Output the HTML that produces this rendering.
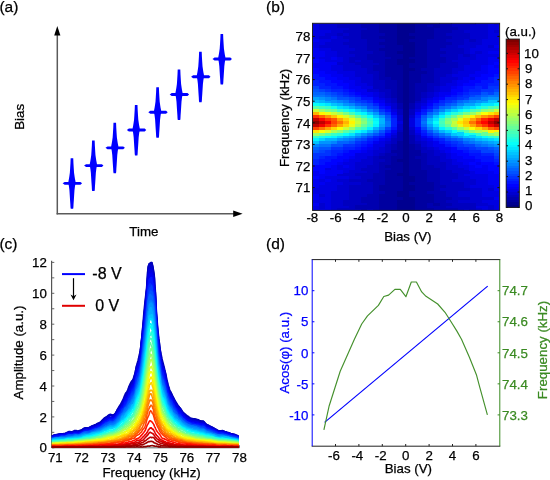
<!DOCTYPE html>
<html><head><meta charset="utf-8"><style>
html,body{margin:0;padding:0;background:#fff;}
svg{display:block;}
#w{width:550px;height:480px;overflow:hidden;will-change:transform;}
text{font-family:"Liberation Sans", sans-serif;}
</style></head><body><div id="w">
<svg width="550" height="480" viewBox="0 0 550 480" font-family='"Liberation Sans", sans-serif'>
<defs><clipPath id="cliph"><rect x="312.5" y="23.3" width="187.1" height="187.1"/></clipPath></defs>
<rect width="550" height="480" fill="#fff"/>
<text x="-0.60" y="11.50" font-size="15.5" text-anchor="start" fill="#000" stroke="#000" stroke-width="0.25" >(a)</text>
<text x="266.00" y="11.60" font-size="15.5" text-anchor="start" fill="#000" stroke="#000" stroke-width="0.25" >(b)</text>
<text x="-0.60" y="249.30" font-size="15.5" text-anchor="start" fill="#000" stroke="#000" stroke-width="0.25" >(c)</text>
<text x="266.00" y="249.40" font-size="15.5" text-anchor="start" fill="#000" stroke="#000" stroke-width="0.25" >(d)</text>
<line x1="57.3" y1="34" x2="57.3" y2="214.4" stroke="#5a5a5a" stroke-width="1.5"/>
<line x1="56.6" y1="213.7" x2="234" y2="213.7" stroke="#5a5a5a" stroke-width="1.5"/>
<path d="M57.3,26 L60.4,35.5 L54.2,35.5 Z" fill="#000"/>
<path d="M242.6,213.7 L233.2,210.5 L233.2,216.9 Z" fill="#000"/>
<path d="M70.65,158.30 L70.45,163.30 L70.15,168.30 L69.85,172.80 L69.35,176.30 L68.95,178.70 L68.45,181.30 L68.25,183.30 L68.75,185.30 L69.05,187.30 L69.45,190.60 L69.75,195.30 L70.05,200.10 L70.35,204.30 L70.50,207.30 L70.75,208.70 L73.15,208.70 L73.40,207.30 L73.55,204.30 L73.85,200.10 L74.15,195.30 L74.45,190.60 L74.85,187.30 L75.15,185.30 L75.65,183.30 L75.45,181.30 L74.95,178.70 L74.55,176.30 L74.05,172.80 L73.75,168.30 L73.45,163.30 L73.25,158.30 Z" fill="#0000ff"/><path d="M62.65,183.30 L64.65,181.90 L80.45,181.90 L82.05,183.30 L80.45,184.70 L64.65,184.70 Z" fill="#0000ff"/>
<path d="M92.06,140.54 L91.86,145.54 L91.56,150.54 L91.26,155.04 L90.76,158.54 L90.36,160.94 L89.86,163.54 L89.66,165.54 L90.16,167.54 L90.46,169.54 L90.86,172.84 L91.16,177.54 L91.46,182.34 L91.76,186.54 L91.91,189.54 L92.16,190.94 L94.56,190.94 L94.81,189.54 L94.96,186.54 L95.26,182.34 L95.56,177.54 L95.86,172.84 L96.26,169.54 L96.56,167.54 L97.06,165.54 L96.86,163.54 L96.36,160.94 L95.96,158.54 L95.46,155.04 L95.16,150.54 L94.86,145.54 L94.66,140.54 Z" fill="#0000ff"/><path d="M84.06,165.54 L86.06,164.14 L101.86,164.14 L103.46,165.54 L101.86,166.94 L86.06,166.94 Z" fill="#0000ff"/>
<path d="M113.47,122.78 L113.27,127.78 L112.97,132.78 L112.67,137.28 L112.17,140.78 L111.77,143.18 L111.27,145.78 L111.07,147.78 L111.57,149.78 L111.87,151.78 L112.27,155.08 L112.57,159.78 L112.87,164.58 L113.17,168.78 L113.32,171.78 L113.57,173.18 L115.97,173.18 L116.22,171.78 L116.37,168.78 L116.67,164.58 L116.97,159.78 L117.27,155.08 L117.67,151.78 L117.97,149.78 L118.47,147.78 L118.27,145.78 L117.77,143.18 L117.37,140.78 L116.87,137.28 L116.57,132.78 L116.27,127.78 L116.07,122.78 Z" fill="#0000ff"/><path d="M105.47,147.78 L107.47,146.38 L123.27,146.38 L124.87,147.78 L123.27,149.18 L107.47,149.18 Z" fill="#0000ff"/>
<path d="M134.88,105.02 L134.68,110.02 L134.38,115.02 L134.08,119.52 L133.58,123.02 L133.18,125.42 L132.68,128.02 L132.48,130.02 L132.98,132.02 L133.28,134.02 L133.68,137.32 L133.98,142.02 L134.28,146.82 L134.58,151.02 L134.73,154.02 L134.98,155.42 L137.38,155.42 L137.63,154.02 L137.78,151.02 L138.08,146.82 L138.38,142.02 L138.68,137.32 L139.08,134.02 L139.38,132.02 L139.88,130.02 L139.68,128.02 L139.18,125.42 L138.78,123.02 L138.28,119.52 L137.98,115.02 L137.68,110.02 L137.48,105.02 Z" fill="#0000ff"/><path d="M126.88,130.02 L128.88,128.62 L144.68,128.62 L146.28,130.02 L144.68,131.42 L128.88,131.42 Z" fill="#0000ff"/>
<path d="M156.29,87.26 L156.09,92.26 L155.79,97.26 L155.49,101.76 L154.99,105.26 L154.59,107.66 L154.09,110.26 L153.89,112.26 L154.39,114.26 L154.69,116.26 L155.09,119.56 L155.39,124.26 L155.69,129.06 L155.99,133.26 L156.14,136.26 L156.39,137.66 L158.79,137.66 L159.04,136.26 L159.19,133.26 L159.49,129.06 L159.79,124.26 L160.09,119.56 L160.49,116.26 L160.79,114.26 L161.29,112.26 L161.09,110.26 L160.59,107.66 L160.19,105.26 L159.69,101.76 L159.39,97.26 L159.09,92.26 L158.89,87.26 Z" fill="#0000ff"/><path d="M148.29,112.26 L150.29,110.86 L166.09,110.86 L167.69,112.26 L166.09,113.66 L150.29,113.66 Z" fill="#0000ff"/>
<path d="M177.70,69.50 L177.50,74.50 L177.20,79.50 L176.90,84.00 L176.40,87.50 L176.00,89.90 L175.50,92.50 L175.30,94.50 L175.80,96.50 L176.10,98.50 L176.50,101.80 L176.80,106.50 L177.10,111.30 L177.40,115.50 L177.55,118.50 L177.80,119.90 L180.20,119.90 L180.45,118.50 L180.60,115.50 L180.90,111.30 L181.20,106.50 L181.50,101.80 L181.90,98.50 L182.20,96.50 L182.70,94.50 L182.50,92.50 L182.00,89.90 L181.60,87.50 L181.10,84.00 L180.80,79.50 L180.50,74.50 L180.30,69.50 Z" fill="#0000ff"/><path d="M169.70,94.50 L171.70,93.10 L187.50,93.10 L189.10,94.50 L187.50,95.90 L171.70,95.90 Z" fill="#0000ff"/>
<path d="M199.11,51.74 L198.91,56.74 L198.61,61.74 L198.31,66.24 L197.81,69.74 L197.41,72.14 L196.91,74.74 L196.71,76.74 L197.21,78.74 L197.51,80.74 L197.91,84.04 L198.21,88.74 L198.51,93.54 L198.81,97.74 L198.96,100.74 L199.21,102.14 L201.61,102.14 L201.86,100.74 L202.01,97.74 L202.31,93.54 L202.61,88.74 L202.91,84.04 L203.31,80.74 L203.61,78.74 L204.11,76.74 L203.91,74.74 L203.41,72.14 L203.01,69.74 L202.51,66.24 L202.21,61.74 L201.91,56.74 L201.71,51.74 Z" fill="#0000ff"/><path d="M191.11,76.74 L193.11,75.34 L208.91,75.34 L210.51,76.74 L208.91,78.14 L193.11,78.14 Z" fill="#0000ff"/>
<path d="M220.52,33.98 L220.32,38.98 L220.02,43.98 L219.72,48.48 L219.22,51.98 L218.82,54.38 L218.32,56.98 L218.12,58.98 L218.62,60.98 L218.92,62.98 L219.32,66.28 L219.62,70.98 L219.92,75.78 L220.22,79.98 L220.37,82.98 L220.62,84.38 L223.02,84.38 L223.27,82.98 L223.42,79.98 L223.72,75.78 L224.02,70.98 L224.32,66.28 L224.72,62.98 L225.02,60.98 L225.52,58.98 L225.32,56.98 L224.82,54.38 L224.42,51.98 L223.92,48.48 L223.62,43.98 L223.32,38.98 L223.12,33.98 Z" fill="#0000ff"/><path d="M212.52,58.98 L214.52,57.58 L230.32,57.58 L231.92,58.98 L230.32,60.38 L214.52,60.38 Z" fill="#0000ff"/>
<text transform="translate(23.70,116.90) rotate(-90)" font-size="13.3" text-anchor="middle" fill="#000" stroke="#000" stroke-width="0.25">Bias</text>
<text x="143.90" y="236.00" font-size="13.3" text-anchor="middle" fill="#000" stroke="#000" stroke-width="0.25" >Time</text>
<g clip-path="url(#cliph)"><g shape-rendering="crispEdges" transform="translate(312.5,21.520) scale(6.0355,2.9200)"><path fill="#0000e1" d="M0 0h1.05v1.05h-1.05zM1 0h1.05v1.05h-1.05zM29 0h1.05v1.05h-1.05zM0 1h1.05v1.05h-1.05zM29 1h1.05v1.05h-1.05zM30 1h1.05v1.05h-1.05zM0 2h1.05v1.05h-1.05zM29 2h1.05v1.05h-1.05zM30 2h1.05v1.05h-1.05zM0 3h1.05v1.05h-1.05zM1 3h1.05v1.05h-1.05zM2 3h1.05v1.05h-1.05zM29 3h1.05v1.05h-1.05zM0 4h1.05v1.05h-1.05zM1 4h1.05v1.05h-1.05zM29 4h1.05v1.05h-1.05zM30 4h1.05v1.05h-1.05zM0 5h1.05v1.05h-1.05zM3 5h1.05v1.05h-1.05zM29 5h1.05v1.05h-1.05zM30 5h1.05v1.05h-1.05zM1 6h1.05v1.05h-1.05zM2 6h1.05v1.05h-1.05zM28 6h1.05v1.05h-1.05zM29 6h1.05v1.05h-1.05zM30 6h1.05v1.05h-1.05zM0 7h1.05v1.05h-1.05zM1 7h1.05v1.05h-1.05zM28 7h1.05v1.05h-1.05zM29 7h1.05v1.05h-1.05zM30 7h1.05v1.05h-1.05zM0 8h1.05v1.05h-1.05zM27 8h1.05v1.05h-1.05zM28 8h1.05v1.05h-1.05zM1 9h1.05v1.05h-1.05zM2 9h1.05v1.05h-1.05zM26 9h1.05v1.05h-1.05zM27 9h1.05v1.05h-1.05zM28 9h1.05v1.05h-1.05zM29 9h1.05v1.05h-1.05zM30 9h1.05v1.05h-1.05zM2 10h1.05v1.05h-1.05zM3 10h1.05v1.05h-1.05zM26 10h1.05v1.05h-1.05zM28 10h1.05v1.05h-1.05zM2 11h1.05v1.05h-1.05zM3 11h1.05v1.05h-1.05zM27 11h1.05v1.05h-1.05zM28 11h1.05v1.05h-1.05zM29 11h1.05v1.05h-1.05zM30 11h1.05v1.05h-1.05zM1 12h1.05v1.05h-1.05zM2 12h1.05v1.05h-1.05zM4 12h1.05v1.05h-1.05zM27 12h1.05v1.05h-1.05zM28 12h1.05v1.05h-1.05zM2 13h1.05v1.05h-1.05zM3 13h1.05v1.05h-1.05zM4 13h1.05v1.05h-1.05zM26 13h1.05v1.05h-1.05zM27 13h1.05v1.05h-1.05zM28 13h1.05v1.05h-1.05zM26 14h1.05v1.05h-1.05zM27 14h1.05v1.05h-1.05zM28 14h1.05v1.05h-1.05zM3 15h1.05v1.05h-1.05zM4 15h1.05v1.05h-1.05zM25 15h1.05v1.05h-1.05zM26 15h1.05v1.05h-1.05zM27 15h1.05v1.05h-1.05zM3 16h1.05v1.05h-1.05zM4 16h1.05v1.05h-1.05zM25 16h1.05v1.05h-1.05zM26 16h1.05v1.05h-1.05zM27 16h1.05v1.05h-1.05zM4 17h1.05v1.05h-1.05zM5 17h1.05v1.05h-1.05zM6 17h1.05v1.05h-1.05zM24 17h1.05v1.05h-1.05zM25 17h1.05v1.05h-1.05zM26 17h1.05v1.05h-1.05zM5 18h1.05v1.05h-1.05zM6 18h1.05v1.05h-1.05zM23 18h1.05v1.05h-1.05zM24 18h1.05v1.05h-1.05zM25 18h1.05v1.05h-1.05zM6 19h1.05v1.05h-1.05zM7 19h1.05v1.05h-1.05zM24 19h1.05v1.05h-1.05zM26 19h1.05v1.05h-1.05zM7 20h1.05v1.05h-1.05zM23 20h1.05v1.05h-1.05zM7 21h1.05v1.05h-1.05zM8 21h1.05v1.05h-1.05zM22 21h1.05v1.05h-1.05zM23 21h1.05v1.05h-1.05zM8 22h1.05v1.05h-1.05zM9 22h1.05v1.05h-1.05zM21 22h1.05v1.05h-1.05zM22 22h1.05v1.05h-1.05zM21 23h1.05v1.05h-1.05zM22 23h1.05v1.05h-1.05zM10 24h1.05v1.05h-1.05zM20 24h1.05v1.05h-1.05zM10 25h1.05v1.05h-1.05zM20 25h1.05v1.05h-1.05zM11 26h1.05v1.05h-1.05zM19 26h1.05v1.05h-1.05zM12 28h1.05v1.05h-1.05zM18 28h1.05v1.05h-1.05zM13 30h1.05v1.05h-1.05zM17 30h1.05v1.05h-1.05zM16 33h1.05v1.05h-1.05zM14 34h1.05v1.05h-1.05zM16 34h1.05v1.05h-1.05zM16 35h1.05v1.05h-1.05zM13 38h1.05v1.05h-1.05zM17 38h1.05v1.05h-1.05zM12 40h1.05v1.05h-1.05zM18 40h1.05v1.05h-1.05zM11 41h1.05v1.05h-1.05zM19 41h1.05v1.05h-1.05zM10 42h1.05v1.05h-1.05zM11 42h1.05v1.05h-1.05zM19 42h1.05v1.05h-1.05zM10 43h1.05v1.05h-1.05zM20 43h1.05v1.05h-1.05zM9 44h1.05v1.05h-1.05zM21 44h1.05v1.05h-1.05zM7 45h1.05v1.05h-1.05zM8 45h1.05v1.05h-1.05zM9 45h1.05v1.05h-1.05zM22 45h1.05v1.05h-1.05zM7 46h1.05v1.05h-1.05zM8 46h1.05v1.05h-1.05zM22 46h1.05v1.05h-1.05zM6 47h1.05v1.05h-1.05zM7 47h1.05v1.05h-1.05zM23 47h1.05v1.05h-1.05zM5 48h1.05v1.05h-1.05zM6 48h1.05v1.05h-1.05zM23 48h1.05v1.05h-1.05zM24 48h1.05v1.05h-1.05zM4 49h1.05v1.05h-1.05zM6 49h1.05v1.05h-1.05zM24 49h1.05v1.05h-1.05zM25 49h1.05v1.05h-1.05zM2 50h1.05v1.05h-1.05zM4 50h1.05v1.05h-1.05zM5 50h1.05v1.05h-1.05zM6 50h1.05v1.05h-1.05zM25 50h1.05v1.05h-1.05zM5 51h1.05v1.05h-1.05zM26 51h1.05v1.05h-1.05zM25 52h1.05v1.05h-1.05zM26 52h1.05v1.05h-1.05zM27 52h1.05v1.05h-1.05zM28 52h1.05v1.05h-1.05zM2 53h1.05v1.05h-1.05zM3 53h1.05v1.05h-1.05zM4 53h1.05v1.05h-1.05zM5 53h1.05v1.05h-1.05zM26 53h1.05v1.05h-1.05zM27 53h1.05v1.05h-1.05zM28 53h1.05v1.05h-1.05zM1 54h1.05v1.05h-1.05zM3 54h1.05v1.05h-1.05zM27 54h1.05v1.05h-1.05zM28 54h1.05v1.05h-1.05zM2 55h1.05v1.05h-1.05zM3 55h1.05v1.05h-1.05zM4 55h1.05v1.05h-1.05zM27 55h1.05v1.05h-1.05zM28 55h1.05v1.05h-1.05zM1 56h1.05v1.05h-1.05zM2 56h1.05v1.05h-1.05zM3 56h1.05v1.05h-1.05zM26 56h1.05v1.05h-1.05zM27 56h1.05v1.05h-1.05zM28 56h1.05v1.05h-1.05zM29 56h1.05v1.05h-1.05zM0 57h1.05v1.05h-1.05zM1 57h1.05v1.05h-1.05zM2 57h1.05v1.05h-1.05zM3 57h1.05v1.05h-1.05zM28 57h1.05v1.05h-1.05zM0 58h1.05v1.05h-1.05zM1 58h1.05v1.05h-1.05zM2 58h1.05v1.05h-1.05zM28 58h1.05v1.05h-1.05zM29 58h1.05v1.05h-1.05zM30 58h1.05v1.05h-1.05zM2 59h1.05v1.05h-1.05zM28 59h1.05v1.05h-1.05zM29 59h1.05v1.05h-1.05zM30 59h1.05v1.05h-1.05zM1 60h1.05v1.05h-1.05zM2 60h1.05v1.05h-1.05zM0 61h1.05v1.05h-1.05zM1 61h1.05v1.05h-1.05zM2 61h1.05v1.05h-1.05zM28 61h1.05v1.05h-1.05zM29 61h1.05v1.05h-1.05zM30 61h1.05v1.05h-1.05zM2 62h1.05v1.05h-1.05zM29 62h1.05v1.05h-1.05zM30 62h1.05v1.05h-1.05zM0 63h1.05v1.05h-1.05zM2 63h1.05v1.05h-1.05zM27 63h1.05v1.05h-1.05zM28 63h1.05v1.05h-1.05zM30 63h1.05v1.05h-1.05zM0 64h1.05v1.05h-1.05zM1 64h1.05v1.05h-1.05zM2 64h1.05v1.05h-1.05zM28 64h1.05v1.05h-1.05zM30 64h1.05v1.05h-1.05z"/><path fill="#0000d0" d="M2 0h1.05v1.05h-1.05zM3 0h1.05v1.05h-1.05zM27 0h1.05v1.05h-1.05zM28 0h1.05v1.05h-1.05zM30 0h1.05v1.05h-1.05zM1 1h1.05v1.05h-1.05zM2 1h1.05v1.05h-1.05zM3 1h1.05v1.05h-1.05zM26 1h1.05v1.05h-1.05zM27 1h1.05v1.05h-1.05zM28 1h1.05v1.05h-1.05zM1 2h1.05v1.05h-1.05zM2 2h1.05v1.05h-1.05zM3 2h1.05v1.05h-1.05zM4 2h1.05v1.05h-1.05zM5 2h1.05v1.05h-1.05zM26 2h1.05v1.05h-1.05zM27 2h1.05v1.05h-1.05zM28 2h1.05v1.05h-1.05zM3 3h1.05v1.05h-1.05zM4 3h1.05v1.05h-1.05zM25 3h1.05v1.05h-1.05zM26 3h1.05v1.05h-1.05zM27 3h1.05v1.05h-1.05zM28 3h1.05v1.05h-1.05zM30 3h1.05v1.05h-1.05zM2 4h1.05v1.05h-1.05zM3 4h1.05v1.05h-1.05zM5 4h1.05v1.05h-1.05zM26 4h1.05v1.05h-1.05zM27 4h1.05v1.05h-1.05zM28 4h1.05v1.05h-1.05zM1 5h1.05v1.05h-1.05zM2 5h1.05v1.05h-1.05zM4 5h1.05v1.05h-1.05zM26 5h1.05v1.05h-1.05zM27 5h1.05v1.05h-1.05zM28 5h1.05v1.05h-1.05zM3 6h1.05v1.05h-1.05zM4 6h1.05v1.05h-1.05zM5 6h1.05v1.05h-1.05zM25 6h1.05v1.05h-1.05zM27 6h1.05v1.05h-1.05zM2 7h1.05v1.05h-1.05zM3 7h1.05v1.05h-1.05zM4 7h1.05v1.05h-1.05zM25 7h1.05v1.05h-1.05zM26 7h1.05v1.05h-1.05zM27 7h1.05v1.05h-1.05zM1 8h1.05v1.05h-1.05zM2 8h1.05v1.05h-1.05zM3 8h1.05v1.05h-1.05zM4 8h1.05v1.05h-1.05zM5 8h1.05v1.05h-1.05zM24 8h1.05v1.05h-1.05zM25 8h1.05v1.05h-1.05zM26 8h1.05v1.05h-1.05zM29 8h1.05v1.05h-1.05zM3 9h1.05v1.05h-1.05zM4 9h1.05v1.05h-1.05zM5 9h1.05v1.05h-1.05zM6 9h1.05v1.05h-1.05zM25 9h1.05v1.05h-1.05zM4 10h1.05v1.05h-1.05zM5 10h1.05v1.05h-1.05zM25 10h1.05v1.05h-1.05zM27 10h1.05v1.05h-1.05zM4 11h1.05v1.05h-1.05zM5 11h1.05v1.05h-1.05zM6 11h1.05v1.05h-1.05zM24 11h1.05v1.05h-1.05zM26 11h1.05v1.05h-1.05zM5 12h1.05v1.05h-1.05zM24 12h1.05v1.05h-1.05zM25 12h1.05v1.05h-1.05zM26 12h1.05v1.05h-1.05zM5 13h1.05v1.05h-1.05zM7 13h1.05v1.05h-1.05zM23 13h1.05v1.05h-1.05zM24 13h1.05v1.05h-1.05zM25 13h1.05v1.05h-1.05zM4 14h1.05v1.05h-1.05zM5 14h1.05v1.05h-1.05zM6 14h1.05v1.05h-1.05zM24 14h1.05v1.05h-1.05zM25 14h1.05v1.05h-1.05zM5 15h1.05v1.05h-1.05zM6 15h1.05v1.05h-1.05zM7 15h1.05v1.05h-1.05zM24 15h1.05v1.05h-1.05zM5 16h1.05v1.05h-1.05zM6 16h1.05v1.05h-1.05zM7 16h1.05v1.05h-1.05zM8 16h1.05v1.05h-1.05zM23 16h1.05v1.05h-1.05zM24 16h1.05v1.05h-1.05zM7 17h1.05v1.05h-1.05zM8 17h1.05v1.05h-1.05zM23 17h1.05v1.05h-1.05zM7 18h1.05v1.05h-1.05zM8 18h1.05v1.05h-1.05zM9 18h1.05v1.05h-1.05zM22 18h1.05v1.05h-1.05zM8 19h1.05v1.05h-1.05zM9 19h1.05v1.05h-1.05zM21 19h1.05v1.05h-1.05zM22 19h1.05v1.05h-1.05zM23 19h1.05v1.05h-1.05zM8 20h1.05v1.05h-1.05zM9 20h1.05v1.05h-1.05zM21 20h1.05v1.05h-1.05zM22 20h1.05v1.05h-1.05zM9 21h1.05v1.05h-1.05zM21 21h1.05v1.05h-1.05zM20 22h1.05v1.05h-1.05zM9 23h1.05v1.05h-1.05zM10 23h1.05v1.05h-1.05zM20 23h1.05v1.05h-1.05zM11 24h1.05v1.05h-1.05zM19 24h1.05v1.05h-1.05zM11 25h1.05v1.05h-1.05zM19 25h1.05v1.05h-1.05zM12 26h1.05v1.05h-1.05zM18 26h1.05v1.05h-1.05zM12 27h1.05v1.05h-1.05zM18 27h1.05v1.05h-1.05zM13 28h1.05v1.05h-1.05zM17 28h1.05v1.05h-1.05zM13 29h1.05v1.05h-1.05zM17 29h1.05v1.05h-1.05zM14 32h1.05v1.05h-1.05zM16 32h1.05v1.05h-1.05zM14 33h1.05v1.05h-1.05zM14 35h1.05v1.05h-1.05zM14 36h1.05v1.05h-1.05zM16 36h1.05v1.05h-1.05zM13 39h1.05v1.05h-1.05zM17 39h1.05v1.05h-1.05zM17 40h1.05v1.05h-1.05zM12 41h1.05v1.05h-1.05zM18 41h1.05v1.05h-1.05zM18 42h1.05v1.05h-1.05zM11 43h1.05v1.05h-1.05zM19 43h1.05v1.05h-1.05zM10 44h1.05v1.05h-1.05zM11 44h1.05v1.05h-1.05zM20 44h1.05v1.05h-1.05zM10 45h1.05v1.05h-1.05zM20 45h1.05v1.05h-1.05zM21 45h1.05v1.05h-1.05zM9 46h1.05v1.05h-1.05zM21 46h1.05v1.05h-1.05zM8 47h1.05v1.05h-1.05zM9 47h1.05v1.05h-1.05zM21 47h1.05v1.05h-1.05zM22 47h1.05v1.05h-1.05zM7 48h1.05v1.05h-1.05zM8 48h1.05v1.05h-1.05zM9 48h1.05v1.05h-1.05zM22 48h1.05v1.05h-1.05zM7 49h1.05v1.05h-1.05zM8 49h1.05v1.05h-1.05zM22 49h1.05v1.05h-1.05zM23 49h1.05v1.05h-1.05zM7 50h1.05v1.05h-1.05zM22 50h1.05v1.05h-1.05zM23 50h1.05v1.05h-1.05zM24 50h1.05v1.05h-1.05zM6 51h1.05v1.05h-1.05zM7 51h1.05v1.05h-1.05zM8 51h1.05v1.05h-1.05zM23 51h1.05v1.05h-1.05zM24 51h1.05v1.05h-1.05zM25 51h1.05v1.05h-1.05zM4 52h1.05v1.05h-1.05zM5 52h1.05v1.05h-1.05zM6 52h1.05v1.05h-1.05zM24 52h1.05v1.05h-1.05zM6 53h1.05v1.05h-1.05zM7 53h1.05v1.05h-1.05zM24 53h1.05v1.05h-1.05zM25 53h1.05v1.05h-1.05zM4 54h1.05v1.05h-1.05zM5 54h1.05v1.05h-1.05zM23 54h1.05v1.05h-1.05zM24 54h1.05v1.05h-1.05zM25 54h1.05v1.05h-1.05zM26 54h1.05v1.05h-1.05zM5 55h1.05v1.05h-1.05zM6 55h1.05v1.05h-1.05zM7 55h1.05v1.05h-1.05zM25 55h1.05v1.05h-1.05zM26 55h1.05v1.05h-1.05zM4 56h1.05v1.05h-1.05zM5 56h1.05v1.05h-1.05zM25 56h1.05v1.05h-1.05zM4 57h1.05v1.05h-1.05zM5 57h1.05v1.05h-1.05zM26 57h1.05v1.05h-1.05zM27 57h1.05v1.05h-1.05zM29 57h1.05v1.05h-1.05zM3 58h1.05v1.05h-1.05zM4 58h1.05v1.05h-1.05zM5 58h1.05v1.05h-1.05zM24 58h1.05v1.05h-1.05zM25 58h1.05v1.05h-1.05zM26 58h1.05v1.05h-1.05zM27 58h1.05v1.05h-1.05zM1 59h1.05v1.05h-1.05zM3 59h1.05v1.05h-1.05zM4 59h1.05v1.05h-1.05zM5 59h1.05v1.05h-1.05zM24 59h1.05v1.05h-1.05zM25 59h1.05v1.05h-1.05zM26 59h1.05v1.05h-1.05zM27 59h1.05v1.05h-1.05zM3 60h1.05v1.05h-1.05zM4 60h1.05v1.05h-1.05zM5 60h1.05v1.05h-1.05zM26 60h1.05v1.05h-1.05zM27 60h1.05v1.05h-1.05zM28 60h1.05v1.05h-1.05zM29 60h1.05v1.05h-1.05zM3 61h1.05v1.05h-1.05zM4 61h1.05v1.05h-1.05zM24 61h1.05v1.05h-1.05zM25 61h1.05v1.05h-1.05zM26 61h1.05v1.05h-1.05zM27 61h1.05v1.05h-1.05zM1 62h1.05v1.05h-1.05zM3 62h1.05v1.05h-1.05zM4 62h1.05v1.05h-1.05zM27 62h1.05v1.05h-1.05zM28 62h1.05v1.05h-1.05zM1 63h1.05v1.05h-1.05zM3 63h1.05v1.05h-1.05zM4 63h1.05v1.05h-1.05zM5 63h1.05v1.05h-1.05zM29 63h1.05v1.05h-1.05zM3 64h1.05v1.05h-1.05zM25 64h1.05v1.05h-1.05zM27 64h1.05v1.05h-1.05zM29 64h1.05v1.05h-1.05z"/><path fill="#0000c0" d="M4 0h1.05v1.05h-1.05zM5 0h1.05v1.05h-1.05zM6 0h1.05v1.05h-1.05zM7 0h1.05v1.05h-1.05zM23 0h1.05v1.05h-1.05zM24 0h1.05v1.05h-1.05zM25 0h1.05v1.05h-1.05zM26 0h1.05v1.05h-1.05zM4 1h1.05v1.05h-1.05zM5 1h1.05v1.05h-1.05zM6 1h1.05v1.05h-1.05zM7 1h1.05v1.05h-1.05zM23 1h1.05v1.05h-1.05zM24 1h1.05v1.05h-1.05zM25 1h1.05v1.05h-1.05zM6 2h1.05v1.05h-1.05zM7 2h1.05v1.05h-1.05zM8 2h1.05v1.05h-1.05zM24 2h1.05v1.05h-1.05zM25 2h1.05v1.05h-1.05zM5 3h1.05v1.05h-1.05zM6 3h1.05v1.05h-1.05zM7 3h1.05v1.05h-1.05zM23 3h1.05v1.05h-1.05zM24 3h1.05v1.05h-1.05zM4 4h1.05v1.05h-1.05zM6 4h1.05v1.05h-1.05zM7 4h1.05v1.05h-1.05zM22 4h1.05v1.05h-1.05zM23 4h1.05v1.05h-1.05zM24 4h1.05v1.05h-1.05zM25 4h1.05v1.05h-1.05zM5 5h1.05v1.05h-1.05zM6 5h1.05v1.05h-1.05zM7 5h1.05v1.05h-1.05zM23 5h1.05v1.05h-1.05zM24 5h1.05v1.05h-1.05zM25 5h1.05v1.05h-1.05zM6 6h1.05v1.05h-1.05zM7 6h1.05v1.05h-1.05zM8 6h1.05v1.05h-1.05zM22 6h1.05v1.05h-1.05zM23 6h1.05v1.05h-1.05zM24 6h1.05v1.05h-1.05zM26 6h1.05v1.05h-1.05zM5 7h1.05v1.05h-1.05zM6 7h1.05v1.05h-1.05zM7 7h1.05v1.05h-1.05zM8 7h1.05v1.05h-1.05zM23 7h1.05v1.05h-1.05zM24 7h1.05v1.05h-1.05zM6 8h1.05v1.05h-1.05zM7 8h1.05v1.05h-1.05zM8 8h1.05v1.05h-1.05zM22 8h1.05v1.05h-1.05zM23 8h1.05v1.05h-1.05zM7 9h1.05v1.05h-1.05zM8 9h1.05v1.05h-1.05zM21 9h1.05v1.05h-1.05zM22 9h1.05v1.05h-1.05zM23 9h1.05v1.05h-1.05zM24 9h1.05v1.05h-1.05zM6 10h1.05v1.05h-1.05zM7 10h1.05v1.05h-1.05zM8 10h1.05v1.05h-1.05zM9 10h1.05v1.05h-1.05zM22 10h1.05v1.05h-1.05zM23 10h1.05v1.05h-1.05zM24 10h1.05v1.05h-1.05zM7 11h1.05v1.05h-1.05zM8 11h1.05v1.05h-1.05zM21 11h1.05v1.05h-1.05zM22 11h1.05v1.05h-1.05zM23 11h1.05v1.05h-1.05zM25 11h1.05v1.05h-1.05zM6 12h1.05v1.05h-1.05zM7 12h1.05v1.05h-1.05zM8 12h1.05v1.05h-1.05zM22 12h1.05v1.05h-1.05zM23 12h1.05v1.05h-1.05zM6 13h1.05v1.05h-1.05zM8 13h1.05v1.05h-1.05zM9 13h1.05v1.05h-1.05zM22 13h1.05v1.05h-1.05zM7 14h1.05v1.05h-1.05zM8 14h1.05v1.05h-1.05zM9 14h1.05v1.05h-1.05zM10 14h1.05v1.05h-1.05zM21 14h1.05v1.05h-1.05zM22 14h1.05v1.05h-1.05zM23 14h1.05v1.05h-1.05zM8 15h1.05v1.05h-1.05zM9 15h1.05v1.05h-1.05zM21 15h1.05v1.05h-1.05zM22 15h1.05v1.05h-1.05zM23 15h1.05v1.05h-1.05zM9 16h1.05v1.05h-1.05zM20 16h1.05v1.05h-1.05zM21 16h1.05v1.05h-1.05zM22 16h1.05v1.05h-1.05zM9 17h1.05v1.05h-1.05zM10 17h1.05v1.05h-1.05zM20 17h1.05v1.05h-1.05zM21 17h1.05v1.05h-1.05zM22 17h1.05v1.05h-1.05zM10 18h1.05v1.05h-1.05zM20 18h1.05v1.05h-1.05zM21 18h1.05v1.05h-1.05zM10 19h1.05v1.05h-1.05zM20 19h1.05v1.05h-1.05zM10 20h1.05v1.05h-1.05zM11 20h1.05v1.05h-1.05zM20 20h1.05v1.05h-1.05zM10 21h1.05v1.05h-1.05zM11 21h1.05v1.05h-1.05zM19 21h1.05v1.05h-1.05zM20 21h1.05v1.05h-1.05zM10 22h1.05v1.05h-1.05zM11 22h1.05v1.05h-1.05zM19 22h1.05v1.05h-1.05zM11 23h1.05v1.05h-1.05zM12 23h1.05v1.05h-1.05zM19 23h1.05v1.05h-1.05zM12 24h1.05v1.05h-1.05zM18 24h1.05v1.05h-1.05zM12 25h1.05v1.05h-1.05zM18 25h1.05v1.05h-1.05zM13 26h1.05v1.05h-1.05zM13 27h1.05v1.05h-1.05zM17 27h1.05v1.05h-1.05zM14 30h1.05v1.05h-1.05zM16 30h1.05v1.05h-1.05zM14 31h1.05v1.05h-1.05zM16 31h1.05v1.05h-1.05zM14 37h1.05v1.05h-1.05zM16 37h1.05v1.05h-1.05zM16 38h1.05v1.05h-1.05zM13 40h1.05v1.05h-1.05zM13 41h1.05v1.05h-1.05zM17 41h1.05v1.05h-1.05zM12 42h1.05v1.05h-1.05zM12 43h1.05v1.05h-1.05zM18 43h1.05v1.05h-1.05zM12 44h1.05v1.05h-1.05zM18 44h1.05v1.05h-1.05zM19 44h1.05v1.05h-1.05zM11 45h1.05v1.05h-1.05zM19 45h1.05v1.05h-1.05zM10 46h1.05v1.05h-1.05zM19 46h1.05v1.05h-1.05zM20 46h1.05v1.05h-1.05zM10 47h1.05v1.05h-1.05zM11 47h1.05v1.05h-1.05zM19 47h1.05v1.05h-1.05zM20 47h1.05v1.05h-1.05zM10 48h1.05v1.05h-1.05zM19 48h1.05v1.05h-1.05zM20 48h1.05v1.05h-1.05zM21 48h1.05v1.05h-1.05zM9 49h1.05v1.05h-1.05zM10 49h1.05v1.05h-1.05zM20 49h1.05v1.05h-1.05zM21 49h1.05v1.05h-1.05zM8 50h1.05v1.05h-1.05zM9 50h1.05v1.05h-1.05zM10 50h1.05v1.05h-1.05zM21 50h1.05v1.05h-1.05zM9 51h1.05v1.05h-1.05zM10 51h1.05v1.05h-1.05zM21 51h1.05v1.05h-1.05zM22 51h1.05v1.05h-1.05zM7 52h1.05v1.05h-1.05zM8 52h1.05v1.05h-1.05zM9 52h1.05v1.05h-1.05zM21 52h1.05v1.05h-1.05zM22 52h1.05v1.05h-1.05zM23 52h1.05v1.05h-1.05zM8 53h1.05v1.05h-1.05zM9 53h1.05v1.05h-1.05zM21 53h1.05v1.05h-1.05zM22 53h1.05v1.05h-1.05zM23 53h1.05v1.05h-1.05zM6 54h1.05v1.05h-1.05zM7 54h1.05v1.05h-1.05zM8 54h1.05v1.05h-1.05zM21 54h1.05v1.05h-1.05zM22 54h1.05v1.05h-1.05zM8 55h1.05v1.05h-1.05zM9 55h1.05v1.05h-1.05zM21 55h1.05v1.05h-1.05zM22 55h1.05v1.05h-1.05zM23 55h1.05v1.05h-1.05zM24 55h1.05v1.05h-1.05zM6 56h1.05v1.05h-1.05zM7 56h1.05v1.05h-1.05zM8 56h1.05v1.05h-1.05zM9 56h1.05v1.05h-1.05zM22 56h1.05v1.05h-1.05zM23 56h1.05v1.05h-1.05zM24 56h1.05v1.05h-1.05zM6 57h1.05v1.05h-1.05zM7 57h1.05v1.05h-1.05zM8 57h1.05v1.05h-1.05zM9 57h1.05v1.05h-1.05zM21 57h1.05v1.05h-1.05zM22 57h1.05v1.05h-1.05zM23 57h1.05v1.05h-1.05zM24 57h1.05v1.05h-1.05zM25 57h1.05v1.05h-1.05zM6 58h1.05v1.05h-1.05zM7 58h1.05v1.05h-1.05zM8 58h1.05v1.05h-1.05zM9 58h1.05v1.05h-1.05zM22 58h1.05v1.05h-1.05zM23 58h1.05v1.05h-1.05zM6 59h1.05v1.05h-1.05zM7 59h1.05v1.05h-1.05zM8 59h1.05v1.05h-1.05zM22 59h1.05v1.05h-1.05zM23 59h1.05v1.05h-1.05zM6 60h1.05v1.05h-1.05zM7 60h1.05v1.05h-1.05zM23 60h1.05v1.05h-1.05zM24 60h1.05v1.05h-1.05zM25 60h1.05v1.05h-1.05zM5 61h1.05v1.05h-1.05zM6 61h1.05v1.05h-1.05zM7 61h1.05v1.05h-1.05zM22 61h1.05v1.05h-1.05zM23 61h1.05v1.05h-1.05zM5 62h1.05v1.05h-1.05zM6 62h1.05v1.05h-1.05zM7 62h1.05v1.05h-1.05zM8 62h1.05v1.05h-1.05zM23 62h1.05v1.05h-1.05zM24 62h1.05v1.05h-1.05zM25 62h1.05v1.05h-1.05zM26 62h1.05v1.05h-1.05zM6 63h1.05v1.05h-1.05zM22 63h1.05v1.05h-1.05zM23 63h1.05v1.05h-1.05zM24 63h1.05v1.05h-1.05zM25 63h1.05v1.05h-1.05zM26 63h1.05v1.05h-1.05zM4 64h1.05v1.05h-1.05zM5 64h1.05v1.05h-1.05zM6 64h1.05v1.05h-1.05zM7 64h1.05v1.05h-1.05zM9 64h1.05v1.05h-1.05zM24 64h1.05v1.05h-1.05zM26 64h1.05v1.05h-1.05z"/><path fill="#0000b0" d="M8 0h1.05v1.05h-1.05zM9 0h1.05v1.05h-1.05zM10 0h1.05v1.05h-1.05zM21 0h1.05v1.05h-1.05zM22 0h1.05v1.05h-1.05zM8 1h1.05v1.05h-1.05zM9 1h1.05v1.05h-1.05zM10 1h1.05v1.05h-1.05zM19 1h1.05v1.05h-1.05zM21 1h1.05v1.05h-1.05zM22 1h1.05v1.05h-1.05zM9 2h1.05v1.05h-1.05zM10 2h1.05v1.05h-1.05zM20 2h1.05v1.05h-1.05zM21 2h1.05v1.05h-1.05zM22 2h1.05v1.05h-1.05zM23 2h1.05v1.05h-1.05zM8 3h1.05v1.05h-1.05zM9 3h1.05v1.05h-1.05zM10 3h1.05v1.05h-1.05zM20 3h1.05v1.05h-1.05zM21 3h1.05v1.05h-1.05zM22 3h1.05v1.05h-1.05zM8 4h1.05v1.05h-1.05zM9 4h1.05v1.05h-1.05zM10 4h1.05v1.05h-1.05zM11 4h1.05v1.05h-1.05zM20 4h1.05v1.05h-1.05zM21 4h1.05v1.05h-1.05zM8 5h1.05v1.05h-1.05zM9 5h1.05v1.05h-1.05zM10 5h1.05v1.05h-1.05zM20 5h1.05v1.05h-1.05zM21 5h1.05v1.05h-1.05zM22 5h1.05v1.05h-1.05zM9 6h1.05v1.05h-1.05zM10 6h1.05v1.05h-1.05zM11 6h1.05v1.05h-1.05zM19 6h1.05v1.05h-1.05zM20 6h1.05v1.05h-1.05zM21 6h1.05v1.05h-1.05zM9 7h1.05v1.05h-1.05zM10 7h1.05v1.05h-1.05zM19 7h1.05v1.05h-1.05zM20 7h1.05v1.05h-1.05zM21 7h1.05v1.05h-1.05zM22 7h1.05v1.05h-1.05zM9 8h1.05v1.05h-1.05zM10 8h1.05v1.05h-1.05zM11 8h1.05v1.05h-1.05zM19 8h1.05v1.05h-1.05zM20 8h1.05v1.05h-1.05zM21 8h1.05v1.05h-1.05zM9 9h1.05v1.05h-1.05zM10 9h1.05v1.05h-1.05zM19 9h1.05v1.05h-1.05zM20 9h1.05v1.05h-1.05zM10 10h1.05v1.05h-1.05zM11 10h1.05v1.05h-1.05zM19 10h1.05v1.05h-1.05zM20 10h1.05v1.05h-1.05zM21 10h1.05v1.05h-1.05zM9 11h1.05v1.05h-1.05zM10 11h1.05v1.05h-1.05zM11 11h1.05v1.05h-1.05zM19 11h1.05v1.05h-1.05zM20 11h1.05v1.05h-1.05zM9 12h1.05v1.05h-1.05zM10 12h1.05v1.05h-1.05zM11 12h1.05v1.05h-1.05zM12 12h1.05v1.05h-1.05zM19 12h1.05v1.05h-1.05zM20 12h1.05v1.05h-1.05zM21 12h1.05v1.05h-1.05zM10 13h1.05v1.05h-1.05zM11 13h1.05v1.05h-1.05zM19 13h1.05v1.05h-1.05zM20 13h1.05v1.05h-1.05zM21 13h1.05v1.05h-1.05zM11 14h1.05v1.05h-1.05zM19 14h1.05v1.05h-1.05zM20 14h1.05v1.05h-1.05zM10 15h1.05v1.05h-1.05zM11 15h1.05v1.05h-1.05zM19 15h1.05v1.05h-1.05zM20 15h1.05v1.05h-1.05zM10 16h1.05v1.05h-1.05zM11 16h1.05v1.05h-1.05zM18 16h1.05v1.05h-1.05zM19 16h1.05v1.05h-1.05zM11 17h1.05v1.05h-1.05zM19 17h1.05v1.05h-1.05zM11 18h1.05v1.05h-1.05zM18 18h1.05v1.05h-1.05zM19 18h1.05v1.05h-1.05zM11 19h1.05v1.05h-1.05zM12 19h1.05v1.05h-1.05zM18 19h1.05v1.05h-1.05zM19 19h1.05v1.05h-1.05zM12 20h1.05v1.05h-1.05zM13 20h1.05v1.05h-1.05zM18 20h1.05v1.05h-1.05zM19 20h1.05v1.05h-1.05zM12 21h1.05v1.05h-1.05zM13 21h1.05v1.05h-1.05zM17 21h1.05v1.05h-1.05zM18 21h1.05v1.05h-1.05zM12 22h1.05v1.05h-1.05zM13 22h1.05v1.05h-1.05zM17 22h1.05v1.05h-1.05zM18 22h1.05v1.05h-1.05zM13 23h1.05v1.05h-1.05zM17 23h1.05v1.05h-1.05zM18 23h1.05v1.05h-1.05zM13 24h1.05v1.05h-1.05zM17 24h1.05v1.05h-1.05zM13 25h1.05v1.05h-1.05zM17 25h1.05v1.05h-1.05zM17 26h1.05v1.05h-1.05zM14 28h1.05v1.05h-1.05zM16 28h1.05v1.05h-1.05zM14 29h1.05v1.05h-1.05zM16 29h1.05v1.05h-1.05zM14 38h1.05v1.05h-1.05zM14 39h1.05v1.05h-1.05zM16 39h1.05v1.05h-1.05zM14 40h1.05v1.05h-1.05zM16 40h1.05v1.05h-1.05zM16 41h1.05v1.05h-1.05zM13 42h1.05v1.05h-1.05zM17 42h1.05v1.05h-1.05zM13 43h1.05v1.05h-1.05zM17 43h1.05v1.05h-1.05zM12 45h1.05v1.05h-1.05zM13 45h1.05v1.05h-1.05zM18 45h1.05v1.05h-1.05zM11 46h1.05v1.05h-1.05zM12 46h1.05v1.05h-1.05zM17 46h1.05v1.05h-1.05zM18 46h1.05v1.05h-1.05zM12 47h1.05v1.05h-1.05zM18 47h1.05v1.05h-1.05zM11 48h1.05v1.05h-1.05zM12 48h1.05v1.05h-1.05zM18 48h1.05v1.05h-1.05zM11 49h1.05v1.05h-1.05zM18 49h1.05v1.05h-1.05zM19 49h1.05v1.05h-1.05zM11 50h1.05v1.05h-1.05zM12 50h1.05v1.05h-1.05zM18 50h1.05v1.05h-1.05zM19 50h1.05v1.05h-1.05zM20 50h1.05v1.05h-1.05zM11 51h1.05v1.05h-1.05zM19 51h1.05v1.05h-1.05zM20 51h1.05v1.05h-1.05zM10 52h1.05v1.05h-1.05zM11 52h1.05v1.05h-1.05zM19 52h1.05v1.05h-1.05zM20 52h1.05v1.05h-1.05zM10 53h1.05v1.05h-1.05zM11 53h1.05v1.05h-1.05zM19 53h1.05v1.05h-1.05zM20 53h1.05v1.05h-1.05zM9 54h1.05v1.05h-1.05zM10 54h1.05v1.05h-1.05zM11 54h1.05v1.05h-1.05zM19 54h1.05v1.05h-1.05zM20 54h1.05v1.05h-1.05zM10 55h1.05v1.05h-1.05zM11 55h1.05v1.05h-1.05zM20 55h1.05v1.05h-1.05zM10 56h1.05v1.05h-1.05zM20 56h1.05v1.05h-1.05zM21 56h1.05v1.05h-1.05zM10 57h1.05v1.05h-1.05zM20 57h1.05v1.05h-1.05zM10 58h1.05v1.05h-1.05zM11 58h1.05v1.05h-1.05zM19 58h1.05v1.05h-1.05zM20 58h1.05v1.05h-1.05zM21 58h1.05v1.05h-1.05zM9 59h1.05v1.05h-1.05zM10 59h1.05v1.05h-1.05zM20 59h1.05v1.05h-1.05zM21 59h1.05v1.05h-1.05zM8 60h1.05v1.05h-1.05zM9 60h1.05v1.05h-1.05zM10 60h1.05v1.05h-1.05zM20 60h1.05v1.05h-1.05zM21 60h1.05v1.05h-1.05zM22 60h1.05v1.05h-1.05zM8 61h1.05v1.05h-1.05zM9 61h1.05v1.05h-1.05zM10 61h1.05v1.05h-1.05zM20 61h1.05v1.05h-1.05zM21 61h1.05v1.05h-1.05zM9 62h1.05v1.05h-1.05zM10 62h1.05v1.05h-1.05zM19 62h1.05v1.05h-1.05zM21 62h1.05v1.05h-1.05zM22 62h1.05v1.05h-1.05zM7 63h1.05v1.05h-1.05zM8 63h1.05v1.05h-1.05zM9 63h1.05v1.05h-1.05zM10 63h1.05v1.05h-1.05zM19 63h1.05v1.05h-1.05zM20 63h1.05v1.05h-1.05zM21 63h1.05v1.05h-1.05zM8 64h1.05v1.05h-1.05zM10 64h1.05v1.05h-1.05zM20 64h1.05v1.05h-1.05zM21 64h1.05v1.05h-1.05zM22 64h1.05v1.05h-1.05zM23 64h1.05v1.05h-1.05z"/><path fill="#0000a0" d="M11 0h1.05v1.05h-1.05zM12 0h1.05v1.05h-1.05zM13 0h1.05v1.05h-1.05zM17 0h1.05v1.05h-1.05zM18 0h1.05v1.05h-1.05zM19 0h1.05v1.05h-1.05zM20 0h1.05v1.05h-1.05zM11 1h1.05v1.05h-1.05zM12 1h1.05v1.05h-1.05zM13 1h1.05v1.05h-1.05zM17 1h1.05v1.05h-1.05zM18 1h1.05v1.05h-1.05zM20 1h1.05v1.05h-1.05zM11 2h1.05v1.05h-1.05zM12 2h1.05v1.05h-1.05zM13 2h1.05v1.05h-1.05zM17 2h1.05v1.05h-1.05zM18 2h1.05v1.05h-1.05zM19 2h1.05v1.05h-1.05zM11 3h1.05v1.05h-1.05zM12 3h1.05v1.05h-1.05zM13 3h1.05v1.05h-1.05zM17 3h1.05v1.05h-1.05zM18 3h1.05v1.05h-1.05zM19 3h1.05v1.05h-1.05zM12 4h1.05v1.05h-1.05zM13 4h1.05v1.05h-1.05zM16 4h1.05v1.05h-1.05zM17 4h1.05v1.05h-1.05zM18 4h1.05v1.05h-1.05zM19 4h1.05v1.05h-1.05zM11 5h1.05v1.05h-1.05zM12 5h1.05v1.05h-1.05zM13 5h1.05v1.05h-1.05zM17 5h1.05v1.05h-1.05zM18 5h1.05v1.05h-1.05zM19 5h1.05v1.05h-1.05zM12 6h1.05v1.05h-1.05zM13 6h1.05v1.05h-1.05zM16 6h1.05v1.05h-1.05zM17 6h1.05v1.05h-1.05zM18 6h1.05v1.05h-1.05zM11 7h1.05v1.05h-1.05zM12 7h1.05v1.05h-1.05zM13 7h1.05v1.05h-1.05zM17 7h1.05v1.05h-1.05zM18 7h1.05v1.05h-1.05zM12 8h1.05v1.05h-1.05zM13 8h1.05v1.05h-1.05zM14 8h1.05v1.05h-1.05zM17 8h1.05v1.05h-1.05zM18 8h1.05v1.05h-1.05zM11 9h1.05v1.05h-1.05zM12 9h1.05v1.05h-1.05zM13 9h1.05v1.05h-1.05zM14 9h1.05v1.05h-1.05zM17 9h1.05v1.05h-1.05zM18 9h1.05v1.05h-1.05zM12 10h1.05v1.05h-1.05zM13 10h1.05v1.05h-1.05zM17 10h1.05v1.05h-1.05zM18 10h1.05v1.05h-1.05zM12 11h1.05v1.05h-1.05zM13 11h1.05v1.05h-1.05zM14 11h1.05v1.05h-1.05zM17 11h1.05v1.05h-1.05zM18 11h1.05v1.05h-1.05zM13 12h1.05v1.05h-1.05zM14 12h1.05v1.05h-1.05zM16 12h1.05v1.05h-1.05zM17 12h1.05v1.05h-1.05zM18 12h1.05v1.05h-1.05zM12 13h1.05v1.05h-1.05zM13 13h1.05v1.05h-1.05zM17 13h1.05v1.05h-1.05zM18 13h1.05v1.05h-1.05zM12 14h1.05v1.05h-1.05zM13 14h1.05v1.05h-1.05zM16 14h1.05v1.05h-1.05zM17 14h1.05v1.05h-1.05zM18 14h1.05v1.05h-1.05zM12 15h1.05v1.05h-1.05zM13 15h1.05v1.05h-1.05zM14 15h1.05v1.05h-1.05zM16 15h1.05v1.05h-1.05zM17 15h1.05v1.05h-1.05zM18 15h1.05v1.05h-1.05zM12 16h1.05v1.05h-1.05zM13 16h1.05v1.05h-1.05zM14 16h1.05v1.05h-1.05zM17 16h1.05v1.05h-1.05zM12 17h1.05v1.05h-1.05zM13 17h1.05v1.05h-1.05zM14 17h1.05v1.05h-1.05zM16 17h1.05v1.05h-1.05zM17 17h1.05v1.05h-1.05zM18 17h1.05v1.05h-1.05zM12 18h1.05v1.05h-1.05zM13 18h1.05v1.05h-1.05zM14 18h1.05v1.05h-1.05zM16 18h1.05v1.05h-1.05zM17 18h1.05v1.05h-1.05zM13 19h1.05v1.05h-1.05zM14 19h1.05v1.05h-1.05zM16 19h1.05v1.05h-1.05zM17 19h1.05v1.05h-1.05zM14 20h1.05v1.05h-1.05zM16 20h1.05v1.05h-1.05zM17 20h1.05v1.05h-1.05zM14 21h1.05v1.05h-1.05zM16 21h1.05v1.05h-1.05zM14 22h1.05v1.05h-1.05zM16 22h1.05v1.05h-1.05zM14 23h1.05v1.05h-1.05zM16 23h1.05v1.05h-1.05zM14 24h1.05v1.05h-1.05zM16 24h1.05v1.05h-1.05zM14 25h1.05v1.05h-1.05zM16 25h1.05v1.05h-1.05zM14 26h1.05v1.05h-1.05zM16 26h1.05v1.05h-1.05zM14 27h1.05v1.05h-1.05zM16 27h1.05v1.05h-1.05zM14 41h1.05v1.05h-1.05zM14 42h1.05v1.05h-1.05zM16 42h1.05v1.05h-1.05zM14 43h1.05v1.05h-1.05zM16 43h1.05v1.05h-1.05zM13 44h1.05v1.05h-1.05zM14 44h1.05v1.05h-1.05zM16 44h1.05v1.05h-1.05zM17 44h1.05v1.05h-1.05zM14 45h1.05v1.05h-1.05zM16 45h1.05v1.05h-1.05zM17 45h1.05v1.05h-1.05zM13 46h1.05v1.05h-1.05zM14 46h1.05v1.05h-1.05zM16 46h1.05v1.05h-1.05zM13 47h1.05v1.05h-1.05zM16 47h1.05v1.05h-1.05zM17 47h1.05v1.05h-1.05zM13 48h1.05v1.05h-1.05zM14 48h1.05v1.05h-1.05zM16 48h1.05v1.05h-1.05zM17 48h1.05v1.05h-1.05zM12 49h1.05v1.05h-1.05zM13 49h1.05v1.05h-1.05zM14 49h1.05v1.05h-1.05zM16 49h1.05v1.05h-1.05zM17 49h1.05v1.05h-1.05zM13 50h1.05v1.05h-1.05zM14 50h1.05v1.05h-1.05zM16 50h1.05v1.05h-1.05zM17 50h1.05v1.05h-1.05zM12 51h1.05v1.05h-1.05zM13 51h1.05v1.05h-1.05zM14 51h1.05v1.05h-1.05zM16 51h1.05v1.05h-1.05zM17 51h1.05v1.05h-1.05zM18 51h1.05v1.05h-1.05zM12 52h1.05v1.05h-1.05zM13 52h1.05v1.05h-1.05zM16 52h1.05v1.05h-1.05zM17 52h1.05v1.05h-1.05zM18 52h1.05v1.05h-1.05zM12 53h1.05v1.05h-1.05zM13 53h1.05v1.05h-1.05zM14 53h1.05v1.05h-1.05zM17 53h1.05v1.05h-1.05zM18 53h1.05v1.05h-1.05zM12 54h1.05v1.05h-1.05zM13 54h1.05v1.05h-1.05zM14 54h1.05v1.05h-1.05zM17 54h1.05v1.05h-1.05zM18 54h1.05v1.05h-1.05zM12 55h1.05v1.05h-1.05zM13 55h1.05v1.05h-1.05zM14 55h1.05v1.05h-1.05zM16 55h1.05v1.05h-1.05zM17 55h1.05v1.05h-1.05zM18 55h1.05v1.05h-1.05zM19 55h1.05v1.05h-1.05zM11 56h1.05v1.05h-1.05zM12 56h1.05v1.05h-1.05zM13 56h1.05v1.05h-1.05zM14 56h1.05v1.05h-1.05zM17 56h1.05v1.05h-1.05zM18 56h1.05v1.05h-1.05zM19 56h1.05v1.05h-1.05zM11 57h1.05v1.05h-1.05zM12 57h1.05v1.05h-1.05zM13 57h1.05v1.05h-1.05zM14 57h1.05v1.05h-1.05zM17 57h1.05v1.05h-1.05zM18 57h1.05v1.05h-1.05zM19 57h1.05v1.05h-1.05zM12 58h1.05v1.05h-1.05zM13 58h1.05v1.05h-1.05zM16 58h1.05v1.05h-1.05zM17 58h1.05v1.05h-1.05zM18 58h1.05v1.05h-1.05zM11 59h1.05v1.05h-1.05zM12 59h1.05v1.05h-1.05zM13 59h1.05v1.05h-1.05zM16 59h1.05v1.05h-1.05zM17 59h1.05v1.05h-1.05zM18 59h1.05v1.05h-1.05zM19 59h1.05v1.05h-1.05zM11 60h1.05v1.05h-1.05zM12 60h1.05v1.05h-1.05zM13 60h1.05v1.05h-1.05zM14 60h1.05v1.05h-1.05zM17 60h1.05v1.05h-1.05zM18 60h1.05v1.05h-1.05zM19 60h1.05v1.05h-1.05zM11 61h1.05v1.05h-1.05zM12 61h1.05v1.05h-1.05zM13 61h1.05v1.05h-1.05zM17 61h1.05v1.05h-1.05zM18 61h1.05v1.05h-1.05zM19 61h1.05v1.05h-1.05zM11 62h1.05v1.05h-1.05zM12 62h1.05v1.05h-1.05zM13 62h1.05v1.05h-1.05zM17 62h1.05v1.05h-1.05zM18 62h1.05v1.05h-1.05zM20 62h1.05v1.05h-1.05zM11 63h1.05v1.05h-1.05zM12 63h1.05v1.05h-1.05zM13 63h1.05v1.05h-1.05zM17 63h1.05v1.05h-1.05zM18 63h1.05v1.05h-1.05zM11 64h1.05v1.05h-1.05zM12 64h1.05v1.05h-1.05zM13 64h1.05v1.05h-1.05zM17 64h1.05v1.05h-1.05zM18 64h1.05v1.05h-1.05zM19 64h1.05v1.05h-1.05z"/><path fill="#000090" d="M14 0h1.05v1.05h-1.05zM15 0h1.05v1.05h-1.05zM16 0h1.05v1.05h-1.05zM14 1h1.05v1.05h-1.05zM15 1h1.05v1.05h-1.05zM16 1h1.05v1.05h-1.05zM14 2h1.05v1.05h-1.05zM15 2h1.05v1.05h-1.05zM16 2h1.05v1.05h-1.05zM14 3h1.05v1.05h-1.05zM15 3h1.05v1.05h-1.05zM16 3h1.05v1.05h-1.05zM14 4h1.05v1.05h-1.05zM15 4h1.05v1.05h-1.05zM14 5h1.05v1.05h-1.05zM15 5h1.05v1.05h-1.05zM16 5h1.05v1.05h-1.05zM14 6h1.05v1.05h-1.05zM15 6h1.05v1.05h-1.05zM14 7h1.05v1.05h-1.05zM15 7h1.05v1.05h-1.05zM16 7h1.05v1.05h-1.05zM15 8h1.05v1.05h-1.05zM16 8h1.05v1.05h-1.05zM15 9h1.05v1.05h-1.05zM16 9h1.05v1.05h-1.05zM14 10h1.05v1.05h-1.05zM15 10h1.05v1.05h-1.05zM16 10h1.05v1.05h-1.05zM15 11h1.05v1.05h-1.05zM16 11h1.05v1.05h-1.05zM15 12h1.05v1.05h-1.05zM14 13h1.05v1.05h-1.05zM15 13h1.05v1.05h-1.05zM16 13h1.05v1.05h-1.05zM14 14h1.05v1.05h-1.05zM15 14h1.05v1.05h-1.05zM15 15h1.05v1.05h-1.05zM15 16h1.05v1.05h-1.05zM16 16h1.05v1.05h-1.05zM15 17h1.05v1.05h-1.05zM15 18h1.05v1.05h-1.05zM15 19h1.05v1.05h-1.05zM15 20h1.05v1.05h-1.05zM15 21h1.05v1.05h-1.05zM15 22h1.05v1.05h-1.05zM15 23h1.05v1.05h-1.05zM15 24h1.05v1.05h-1.05zM15 25h1.05v1.05h-1.05zM15 26h1.05v1.05h-1.05zM15 27h1.05v1.05h-1.05zM15 28h1.05v1.05h-1.05zM15 29h1.05v1.05h-1.05zM15 30h1.05v1.05h-1.05zM15 31h1.05v1.05h-1.05zM15 32h1.05v1.05h-1.05zM15 33h1.05v1.05h-1.05zM15 34h1.05v1.05h-1.05zM15 35h1.05v1.05h-1.05zM15 36h1.05v1.05h-1.05zM15 37h1.05v1.05h-1.05zM15 38h1.05v1.05h-1.05zM15 39h1.05v1.05h-1.05zM15 40h1.05v1.05h-1.05zM15 41h1.05v1.05h-1.05zM15 42h1.05v1.05h-1.05zM15 43h1.05v1.05h-1.05zM15 44h1.05v1.05h-1.05zM15 45h1.05v1.05h-1.05zM15 46h1.05v1.05h-1.05zM14 47h1.05v1.05h-1.05zM15 47h1.05v1.05h-1.05zM15 48h1.05v1.05h-1.05zM15 49h1.05v1.05h-1.05zM15 50h1.05v1.05h-1.05zM15 51h1.05v1.05h-1.05zM14 52h1.05v1.05h-1.05zM15 52h1.05v1.05h-1.05zM15 53h1.05v1.05h-1.05zM16 53h1.05v1.05h-1.05zM15 54h1.05v1.05h-1.05zM16 54h1.05v1.05h-1.05zM15 55h1.05v1.05h-1.05zM15 56h1.05v1.05h-1.05zM16 56h1.05v1.05h-1.05zM15 57h1.05v1.05h-1.05zM16 57h1.05v1.05h-1.05zM14 58h1.05v1.05h-1.05zM15 58h1.05v1.05h-1.05zM14 59h1.05v1.05h-1.05zM15 59h1.05v1.05h-1.05zM15 60h1.05v1.05h-1.05zM16 60h1.05v1.05h-1.05zM14 61h1.05v1.05h-1.05zM15 61h1.05v1.05h-1.05zM16 61h1.05v1.05h-1.05zM14 62h1.05v1.05h-1.05zM15 62h1.05v1.05h-1.05zM16 62h1.05v1.05h-1.05zM14 63h1.05v1.05h-1.05zM15 63h1.05v1.05h-1.05zM16 63h1.05v1.05h-1.05zM14 64h1.05v1.05h-1.05zM15 64h1.05v1.05h-1.05zM16 64h1.05v1.05h-1.05z"/><path fill="#0000f1" d="M0 6h1.05v1.05h-1.05zM30 8h1.05v1.05h-1.05zM0 9h1.05v1.05h-1.05zM0 10h1.05v1.05h-1.05zM1 10h1.05v1.05h-1.05zM29 10h1.05v1.05h-1.05zM30 10h1.05v1.05h-1.05zM0 11h1.05v1.05h-1.05zM1 11h1.05v1.05h-1.05zM0 12h1.05v1.05h-1.05zM3 12h1.05v1.05h-1.05zM29 12h1.05v1.05h-1.05zM30 12h1.05v1.05h-1.05zM1 13h1.05v1.05h-1.05zM29 13h1.05v1.05h-1.05zM30 13h1.05v1.05h-1.05zM0 14h1.05v1.05h-1.05zM1 14h1.05v1.05h-1.05zM2 14h1.05v1.05h-1.05zM3 14h1.05v1.05h-1.05zM29 14h1.05v1.05h-1.05zM0 15h1.05v1.05h-1.05zM1 15h1.05v1.05h-1.05zM2 15h1.05v1.05h-1.05zM28 15h1.05v1.05h-1.05zM30 15h1.05v1.05h-1.05zM1 16h1.05v1.05h-1.05zM2 16h1.05v1.05h-1.05zM28 16h1.05v1.05h-1.05zM2 17h1.05v1.05h-1.05zM3 17h1.05v1.05h-1.05zM27 17h1.05v1.05h-1.05zM28 17h1.05v1.05h-1.05zM3 18h1.05v1.05h-1.05zM4 18h1.05v1.05h-1.05zM26 18h1.05v1.05h-1.05zM27 18h1.05v1.05h-1.05zM4 19h1.05v1.05h-1.05zM5 19h1.05v1.05h-1.05zM25 19h1.05v1.05h-1.05zM5 20h1.05v1.05h-1.05zM6 20h1.05v1.05h-1.05zM24 20h1.05v1.05h-1.05zM25 20h1.05v1.05h-1.05zM6 21h1.05v1.05h-1.05zM24 21h1.05v1.05h-1.05zM6 22h1.05v1.05h-1.05zM7 22h1.05v1.05h-1.05zM23 22h1.05v1.05h-1.05zM7 23h1.05v1.05h-1.05zM8 23h1.05v1.05h-1.05zM8 24h1.05v1.05h-1.05zM9 24h1.05v1.05h-1.05zM21 24h1.05v1.05h-1.05zM22 24h1.05v1.05h-1.05zM9 25h1.05v1.05h-1.05zM21 25h1.05v1.05h-1.05zM10 26h1.05v1.05h-1.05zM20 26h1.05v1.05h-1.05zM11 27h1.05v1.05h-1.05zM19 27h1.05v1.05h-1.05zM18 29h1.05v1.05h-1.05zM13 31h1.05v1.05h-1.05zM13 37h1.05v1.05h-1.05zM17 37h1.05v1.05h-1.05zM12 39h1.05v1.05h-1.05zM18 39h1.05v1.05h-1.05zM11 40h1.05v1.05h-1.05zM19 40h1.05v1.05h-1.05zM10 41h1.05v1.05h-1.05zM20 41h1.05v1.05h-1.05zM20 42h1.05v1.05h-1.05zM21 42h1.05v1.05h-1.05zM9 43h1.05v1.05h-1.05zM21 43h1.05v1.05h-1.05zM22 43h1.05v1.05h-1.05zM8 44h1.05v1.05h-1.05zM22 44h1.05v1.05h-1.05zM23 45h1.05v1.05h-1.05zM6 46h1.05v1.05h-1.05zM23 46h1.05v1.05h-1.05zM24 46h1.05v1.05h-1.05zM5 47h1.05v1.05h-1.05zM24 47h1.05v1.05h-1.05zM25 47h1.05v1.05h-1.05zM26 47h1.05v1.05h-1.05zM4 48h1.05v1.05h-1.05zM25 48h1.05v1.05h-1.05zM27 48h1.05v1.05h-1.05zM3 49h1.05v1.05h-1.05zM5 49h1.05v1.05h-1.05zM26 49h1.05v1.05h-1.05zM28 49h1.05v1.05h-1.05zM3 50h1.05v1.05h-1.05zM26 50h1.05v1.05h-1.05zM27 50h1.05v1.05h-1.05zM28 50h1.05v1.05h-1.05zM0 51h1.05v1.05h-1.05zM2 51h1.05v1.05h-1.05zM3 51h1.05v1.05h-1.05zM4 51h1.05v1.05h-1.05zM27 51h1.05v1.05h-1.05zM28 51h1.05v1.05h-1.05zM29 51h1.05v1.05h-1.05zM0 52h1.05v1.05h-1.05zM1 52h1.05v1.05h-1.05zM2 52h1.05v1.05h-1.05zM3 52h1.05v1.05h-1.05zM29 52h1.05v1.05h-1.05zM30 52h1.05v1.05h-1.05zM1 53h1.05v1.05h-1.05zM29 53h1.05v1.05h-1.05zM30 53h1.05v1.05h-1.05zM0 54h1.05v1.05h-1.05zM2 54h1.05v1.05h-1.05zM29 54h1.05v1.05h-1.05zM30 54h1.05v1.05h-1.05zM0 55h1.05v1.05h-1.05zM1 55h1.05v1.05h-1.05zM29 55h1.05v1.05h-1.05zM30 55h1.05v1.05h-1.05zM0 56h1.05v1.05h-1.05zM30 56h1.05v1.05h-1.05zM30 57h1.05v1.05h-1.05zM0 59h1.05v1.05h-1.05zM0 60h1.05v1.05h-1.05zM30 60h1.05v1.05h-1.05zM0 62h1.05v1.05h-1.05z"/><path fill="#0002ff" d="M0 13h1.05v1.05h-1.05zM30 14h1.05v1.05h-1.05zM29 15h1.05v1.05h-1.05zM0 16h1.05v1.05h-1.05zM29 16h1.05v1.05h-1.05zM30 16h1.05v1.05h-1.05zM0 17h1.05v1.05h-1.05zM1 17h1.05v1.05h-1.05zM29 17h1.05v1.05h-1.05zM30 17h1.05v1.05h-1.05zM1 18h1.05v1.05h-1.05zM2 18h1.05v1.05h-1.05zM28 18h1.05v1.05h-1.05zM29 18h1.05v1.05h-1.05zM2 19h1.05v1.05h-1.05zM3 19h1.05v1.05h-1.05zM27 19h1.05v1.05h-1.05zM28 19h1.05v1.05h-1.05zM3 20h1.05v1.05h-1.05zM4 20h1.05v1.05h-1.05zM26 20h1.05v1.05h-1.05zM27 20h1.05v1.05h-1.05zM4 21h1.05v1.05h-1.05zM5 21h1.05v1.05h-1.05zM25 21h1.05v1.05h-1.05zM26 21h1.05v1.05h-1.05zM5 22h1.05v1.05h-1.05zM24 22h1.05v1.05h-1.05zM6 23h1.05v1.05h-1.05zM23 23h1.05v1.05h-1.05zM24 23h1.05v1.05h-1.05zM7 24h1.05v1.05h-1.05zM23 24h1.05v1.05h-1.05zM8 25h1.05v1.05h-1.05zM22 25h1.05v1.05h-1.05zM21 26h1.05v1.05h-1.05zM10 27h1.05v1.05h-1.05zM20 27h1.05v1.05h-1.05zM11 28h1.05v1.05h-1.05zM19 28h1.05v1.05h-1.05zM12 29h1.05v1.05h-1.05zM17 31h1.05v1.05h-1.05zM17 36h1.05v1.05h-1.05zM12 38h1.05v1.05h-1.05zM9 42h1.05v1.05h-1.05zM8 43h1.05v1.05h-1.05zM23 43h1.05v1.05h-1.05zM6 44h1.05v1.05h-1.05zM7 44h1.05v1.05h-1.05zM23 44h1.05v1.05h-1.05zM24 44h1.05v1.05h-1.05zM5 45h1.05v1.05h-1.05zM6 45h1.05v1.05h-1.05zM24 45h1.05v1.05h-1.05zM25 45h1.05v1.05h-1.05zM4 46h1.05v1.05h-1.05zM5 46h1.05v1.05h-1.05zM25 46h1.05v1.05h-1.05zM26 46h1.05v1.05h-1.05zM3 47h1.05v1.05h-1.05zM4 47h1.05v1.05h-1.05zM27 47h1.05v1.05h-1.05zM2 48h1.05v1.05h-1.05zM3 48h1.05v1.05h-1.05zM26 48h1.05v1.05h-1.05zM28 48h1.05v1.05h-1.05zM29 48h1.05v1.05h-1.05zM0 49h1.05v1.05h-1.05zM1 49h1.05v1.05h-1.05zM2 49h1.05v1.05h-1.05zM27 49h1.05v1.05h-1.05zM29 49h1.05v1.05h-1.05zM30 49h1.05v1.05h-1.05zM0 50h1.05v1.05h-1.05zM1 50h1.05v1.05h-1.05zM29 50h1.05v1.05h-1.05zM30 50h1.05v1.05h-1.05zM1 51h1.05v1.05h-1.05zM30 51h1.05v1.05h-1.05zM0 53h1.05v1.05h-1.05z"/><path fill="#0012ff" d="M0 18h1.05v1.05h-1.05zM30 18h1.05v1.05h-1.05zM0 19h1.05v1.05h-1.05zM1 19h1.05v1.05h-1.05zM29 19h1.05v1.05h-1.05zM1 20h1.05v1.05h-1.05zM2 20h1.05v1.05h-1.05zM28 20h1.05v1.05h-1.05zM29 20h1.05v1.05h-1.05zM2 21h1.05v1.05h-1.05zM3 21h1.05v1.05h-1.05zM27 21h1.05v1.05h-1.05zM28 21h1.05v1.05h-1.05zM3 22h1.05v1.05h-1.05zM4 22h1.05v1.05h-1.05zM25 22h1.05v1.05h-1.05zM26 22h1.05v1.05h-1.05zM28 22h1.05v1.05h-1.05zM5 23h1.05v1.05h-1.05zM25 23h1.05v1.05h-1.05zM6 24h1.05v1.05h-1.05zM24 24h1.05v1.05h-1.05zM7 25h1.05v1.05h-1.05zM23 25h1.05v1.05h-1.05zM8 26h1.05v1.05h-1.05zM9 26h1.05v1.05h-1.05zM11 29h1.05v1.05h-1.05zM19 29h1.05v1.05h-1.05zM12 30h1.05v1.05h-1.05zM18 30h1.05v1.05h-1.05zM13 32h1.05v1.05h-1.05zM17 32h1.05v1.05h-1.05zM13 36h1.05v1.05h-1.05zM18 38h1.05v1.05h-1.05zM11 39h1.05v1.05h-1.05zM19 39h1.05v1.05h-1.05zM10 40h1.05v1.05h-1.05zM20 40h1.05v1.05h-1.05zM9 41h1.05v1.05h-1.05zM21 41h1.05v1.05h-1.05zM8 42h1.05v1.05h-1.05zM22 42h1.05v1.05h-1.05zM7 43h1.05v1.05h-1.05zM5 44h1.05v1.05h-1.05zM25 44h1.05v1.05h-1.05zM4 45h1.05v1.05h-1.05zM26 45h1.05v1.05h-1.05zM27 45h1.05v1.05h-1.05zM2 46h1.05v1.05h-1.05zM3 46h1.05v1.05h-1.05zM27 46h1.05v1.05h-1.05zM28 46h1.05v1.05h-1.05zM29 46h1.05v1.05h-1.05zM1 47h1.05v1.05h-1.05zM2 47h1.05v1.05h-1.05zM28 47h1.05v1.05h-1.05zM29 47h1.05v1.05h-1.05zM1 48h1.05v1.05h-1.05zM30 48h1.05v1.05h-1.05z"/><path fill="#0022ff" d="M30 19h1.05v1.05h-1.05zM0 20h1.05v1.05h-1.05zM30 20h1.05v1.05h-1.05zM0 21h1.05v1.05h-1.05zM1 21h1.05v1.05h-1.05zM29 21h1.05v1.05h-1.05zM30 21h1.05v1.05h-1.05zM1 22h1.05v1.05h-1.05zM2 22h1.05v1.05h-1.05zM27 22h1.05v1.05h-1.05zM3 23h1.05v1.05h-1.05zM4 23h1.05v1.05h-1.05zM26 23h1.05v1.05h-1.05zM27 23h1.05v1.05h-1.05zM5 24h1.05v1.05h-1.05zM25 24h1.05v1.05h-1.05zM6 25h1.05v1.05h-1.05zM24 25h1.05v1.05h-1.05zM22 26h1.05v1.05h-1.05zM23 26h1.05v1.05h-1.05zM9 27h1.05v1.05h-1.05zM21 27h1.05v1.05h-1.05zM10 28h1.05v1.05h-1.05zM20 28h1.05v1.05h-1.05zM18 31h1.05v1.05h-1.05zM13 33h1.05v1.05h-1.05zM17 33h1.05v1.05h-1.05zM13 34h1.05v1.05h-1.05zM17 34h1.05v1.05h-1.05zM13 35h1.05v1.05h-1.05zM17 35h1.05v1.05h-1.05zM12 37h1.05v1.05h-1.05zM18 37h1.05v1.05h-1.05zM10 39h1.05v1.05h-1.05zM9 40h1.05v1.05h-1.05zM21 40h1.05v1.05h-1.05zM8 41h1.05v1.05h-1.05zM22 41h1.05v1.05h-1.05zM7 42h1.05v1.05h-1.05zM23 42h1.05v1.05h-1.05zM5 43h1.05v1.05h-1.05zM6 43h1.05v1.05h-1.05zM24 43h1.05v1.05h-1.05zM25 43h1.05v1.05h-1.05zM3 44h1.05v1.05h-1.05zM4 44h1.05v1.05h-1.05zM26 44h1.05v1.05h-1.05zM27 44h1.05v1.05h-1.05zM3 45h1.05v1.05h-1.05zM28 45h1.05v1.05h-1.05zM29 45h1.05v1.05h-1.05zM1 46h1.05v1.05h-1.05zM0 47h1.05v1.05h-1.05zM30 47h1.05v1.05h-1.05zM0 48h1.05v1.05h-1.05z"/><path fill="#0043ff" d="M0 22h1.05v1.05h-1.05zM1 23h1.05v1.05h-1.05zM30 23h1.05v1.05h-1.05zM3 24h1.05v1.05h-1.05zM29 24h1.05v1.05h-1.05zM4 25h1.05v1.05h-1.05zM26 25h1.05v1.05h-1.05zM6 26h1.05v1.05h-1.05zM25 26h1.05v1.05h-1.05zM7 27h1.05v1.05h-1.05zM23 27h1.05v1.05h-1.05zM9 28h1.05v1.05h-1.05zM10 29h1.05v1.05h-1.05zM12 36h1.05v1.05h-1.05zM18 36h1.05v1.05h-1.05zM9 39h1.05v1.05h-1.05zM8 40h1.05v1.05h-1.05zM22 40h1.05v1.05h-1.05zM24 41h1.05v1.05h-1.05zM25 42h1.05v1.05h-1.05zM26 42h1.05v1.05h-1.05zM27 43h1.05v1.05h-1.05zM28 43h1.05v1.05h-1.05zM1 44h1.05v1.05h-1.05zM28 44h1.05v1.05h-1.05zM29 44h1.05v1.05h-1.05zM30 45h1.05v1.05h-1.05z"/><path fill="#0033ff" d="M29 22h1.05v1.05h-1.05zM30 22h1.05v1.05h-1.05zM2 23h1.05v1.05h-1.05zM28 23h1.05v1.05h-1.05zM29 23h1.05v1.05h-1.05zM4 24h1.05v1.05h-1.05zM26 24h1.05v1.05h-1.05zM27 24h1.05v1.05h-1.05zM5 25h1.05v1.05h-1.05zM25 25h1.05v1.05h-1.05zM7 26h1.05v1.05h-1.05zM24 26h1.05v1.05h-1.05zM8 27h1.05v1.05h-1.05zM22 27h1.05v1.05h-1.05zM21 28h1.05v1.05h-1.05zM20 29h1.05v1.05h-1.05zM11 30h1.05v1.05h-1.05zM19 30h1.05v1.05h-1.05zM12 31h1.05v1.05h-1.05zM11 38h1.05v1.05h-1.05zM19 38h1.05v1.05h-1.05zM20 39h1.05v1.05h-1.05zM7 41h1.05v1.05h-1.05zM23 41h1.05v1.05h-1.05zM5 42h1.05v1.05h-1.05zM6 42h1.05v1.05h-1.05zM24 42h1.05v1.05h-1.05zM3 43h1.05v1.05h-1.05zM4 43h1.05v1.05h-1.05zM26 43h1.05v1.05h-1.05zM2 44h1.05v1.05h-1.05zM0 45h1.05v1.05h-1.05zM1 45h1.05v1.05h-1.05zM2 45h1.05v1.05h-1.05zM0 46h1.05v1.05h-1.05zM30 46h1.05v1.05h-1.05z"/><path fill="#0053ff" d="M0 23h1.05v1.05h-1.05zM2 24h1.05v1.05h-1.05zM28 24h1.05v1.05h-1.05zM3 25h1.05v1.05h-1.05zM27 25h1.05v1.05h-1.05zM4 26h1.05v1.05h-1.05zM5 26h1.05v1.05h-1.05zM6 27h1.05v1.05h-1.05zM8 28h1.05v1.05h-1.05zM22 28h1.05v1.05h-1.05zM9 29h1.05v1.05h-1.05zM11 31h1.05v1.05h-1.05zM12 32h1.05v1.05h-1.05zM18 32h1.05v1.05h-1.05zM11 37h1.05v1.05h-1.05zM19 37h1.05v1.05h-1.05zM10 38h1.05v1.05h-1.05zM20 38h1.05v1.05h-1.05zM21 39h1.05v1.05h-1.05zM7 40h1.05v1.05h-1.05zM23 40h1.05v1.05h-1.05zM6 41h1.05v1.05h-1.05zM3 42h1.05v1.05h-1.05zM4 42h1.05v1.05h-1.05zM1 43h1.05v1.05h-1.05zM2 43h1.05v1.05h-1.05zM29 43h1.05v1.05h-1.05zM0 44h1.05v1.05h-1.05zM30 44h1.05v1.05h-1.05z"/><path fill="#0063ff" d="M0 24h1.05v1.05h-1.05zM1 24h1.05v1.05h-1.05zM30 24h1.05v1.05h-1.05zM2 25h1.05v1.05h-1.05zM28 25h1.05v1.05h-1.05zM26 26h1.05v1.05h-1.05zM27 26h1.05v1.05h-1.05zM24 27h1.05v1.05h-1.05zM7 28h1.05v1.05h-1.05zM23 28h1.05v1.05h-1.05zM21 29h1.05v1.05h-1.05zM10 30h1.05v1.05h-1.05zM20 30h1.05v1.05h-1.05zM19 31h1.05v1.05h-1.05zM12 33h1.05v1.05h-1.05zM18 33h1.05v1.05h-1.05zM18 35h1.05v1.05h-1.05zM8 39h1.05v1.05h-1.05zM22 39h1.05v1.05h-1.05zM24 40h1.05v1.05h-1.05zM4 41h1.05v1.05h-1.05zM5 41h1.05v1.05h-1.05zM25 41h1.05v1.05h-1.05zM27 42h1.05v1.05h-1.05zM0 43h1.05v1.05h-1.05zM30 43h1.05v1.05h-1.05z"/><path fill="#0073ff" d="M0 25h1.05v1.05h-1.05zM1 25h1.05v1.05h-1.05zM29 25h1.05v1.05h-1.05zM30 25h1.05v1.05h-1.05zM3 26h1.05v1.05h-1.05zM5 27h1.05v1.05h-1.05zM25 27h1.05v1.05h-1.05zM22 29h1.05v1.05h-1.05zM12 34h1.05v1.05h-1.05zM18 34h1.05v1.05h-1.05zM12 35h1.05v1.05h-1.05zM9 38h1.05v1.05h-1.05zM21 38h1.05v1.05h-1.05zM6 40h1.05v1.05h-1.05zM26 41h1.05v1.05h-1.05zM1 42h1.05v1.05h-1.05zM2 42h1.05v1.05h-1.05zM28 42h1.05v1.05h-1.05z"/><path fill="#00a4ff" d="M0 26h1.05v1.05h-1.05zM2 27h1.05v1.05h-1.05zM28 27h1.05v1.05h-1.05zM25 28h1.05v1.05h-1.05zM26 28h1.05v1.05h-1.05zM11 35h1.05v1.05h-1.05zM19 35h1.05v1.05h-1.05zM6 39h1.05v1.05h-1.05zM24 39h1.05v1.05h-1.05zM29 41h1.05v1.05h-1.05z"/><path fill="#0094ff" d="M1 26h1.05v1.05h-1.05zM29 26h1.05v1.05h-1.05zM30 26h1.05v1.05h-1.05zM3 27h1.05v1.05h-1.05zM27 27h1.05v1.05h-1.05zM5 28h1.05v1.05h-1.05zM7 29h1.05v1.05h-1.05zM23 29h1.05v1.05h-1.05zM10 31h1.05v1.05h-1.05zM11 32h1.05v1.05h-1.05zM8 38h1.05v1.05h-1.05zM22 38h1.05v1.05h-1.05zM4 40h1.05v1.05h-1.05zM26 40h1.05v1.05h-1.05zM1 41h1.05v1.05h-1.05zM2 41h1.05v1.05h-1.05zM28 41h1.05v1.05h-1.05zM30 42h1.05v1.05h-1.05z"/><path fill="#0084ff" d="M2 26h1.05v1.05h-1.05zM28 26h1.05v1.05h-1.05zM4 27h1.05v1.05h-1.05zM26 27h1.05v1.05h-1.05zM6 28h1.05v1.05h-1.05zM24 28h1.05v1.05h-1.05zM8 29h1.05v1.05h-1.05zM9 30h1.05v1.05h-1.05zM21 30h1.05v1.05h-1.05zM20 31h1.05v1.05h-1.05zM19 32h1.05v1.05h-1.05zM11 36h1.05v1.05h-1.05zM19 36h1.05v1.05h-1.05zM10 37h1.05v1.05h-1.05zM20 37h1.05v1.05h-1.05zM7 39h1.05v1.05h-1.05zM23 39h1.05v1.05h-1.05zM5 40h1.05v1.05h-1.05zM25 40h1.05v1.05h-1.05zM3 41h1.05v1.05h-1.05zM27 41h1.05v1.05h-1.05zM0 42h1.05v1.05h-1.05zM29 42h1.05v1.05h-1.05z"/><path fill="#00c4ff" d="M0 27h1.05v1.05h-1.05zM29 27h1.05v1.05h-1.05zM30 27h1.05v1.05h-1.05zM3 28h1.05v1.05h-1.05zM27 28h1.05v1.05h-1.05zM9 31h1.05v1.05h-1.05zM21 31h1.05v1.05h-1.05zM10 32h1.05v1.05h-1.05zM20 32h1.05v1.05h-1.05zM19 34h1.05v1.05h-1.05zM23 38h1.05v1.05h-1.05zM25 39h1.05v1.05h-1.05zM28 40h1.05v1.05h-1.05zM0 41h1.05v1.05h-1.05z"/><path fill="#00b4ff" d="M1 27h1.05v1.05h-1.05zM4 28h1.05v1.05h-1.05zM6 29h1.05v1.05h-1.05zM24 29h1.05v1.05h-1.05zM8 30h1.05v1.05h-1.05zM22 30h1.05v1.05h-1.05zM11 33h1.05v1.05h-1.05zM19 33h1.05v1.05h-1.05zM11 34h1.05v1.05h-1.05zM10 36h1.05v1.05h-1.05zM20 36h1.05v1.05h-1.05zM9 37h1.05v1.05h-1.05zM21 37h1.05v1.05h-1.05zM7 38h1.05v1.05h-1.05zM5 39h1.05v1.05h-1.05zM2 40h1.05v1.05h-1.05zM3 40h1.05v1.05h-1.05zM27 40h1.05v1.05h-1.05zM30 41h1.05v1.05h-1.05z"/><path fill="#06fff9" d="M0 28h1.05v1.05h-1.05zM30 28h1.05v1.05h-1.05zM27 29h1.05v1.05h-1.05zM9 32h1.05v1.05h-1.05zM10 34h1.05v1.05h-1.05zM20 34h1.05v1.05h-1.05zM7 37h1.05v1.05h-1.05zM23 37h1.05v1.05h-1.05zM5 38h1.05v1.05h-1.05zM25 38h1.05v1.05h-1.05zM2 39h1.05v1.05h-1.05zM28 39h1.05v1.05h-1.05z"/><path fill="#00f5ff" d="M1 28h1.05v1.05h-1.05zM6 30h1.05v1.05h-1.05zM24 30h1.05v1.05h-1.05zM8 31h1.05v1.05h-1.05zM22 31h1.05v1.05h-1.05zM21 32h1.05v1.05h-1.05zM10 33h1.05v1.05h-1.05zM10 35h1.05v1.05h-1.05zM9 36h1.05v1.05h-1.05zM21 36h1.05v1.05h-1.05zM3 39h1.05v1.05h-1.05zM0 40h1.05v1.05h-1.05z"/><path fill="#00e5ff" d="M2 28h1.05v1.05h-1.05zM28 28h1.05v1.05h-1.05zM29 28h1.05v1.05h-1.05zM4 29h1.05v1.05h-1.05zM26 29h1.05v1.05h-1.05zM20 33h1.05v1.05h-1.05zM20 35h1.05v1.05h-1.05zM8 37h1.05v1.05h-1.05zM6 38h1.05v1.05h-1.05zM27 39h1.05v1.05h-1.05zM30 40h1.05v1.05h-1.05z"/><path fill="#57ffa8" d="M0 29h1.05v1.05h-1.05zM30 29h1.05v1.05h-1.05zM27 30h1.05v1.05h-1.05zM7 36h1.05v1.05h-1.05zM23 36h1.05v1.05h-1.05zM5 37h1.05v1.05h-1.05zM25 37h1.05v1.05h-1.05zM2 38h1.05v1.05h-1.05z"/><path fill="#47ffb8" d="M1 29h1.05v1.05h-1.05zM29 29h1.05v1.05h-1.05zM26 30h1.05v1.05h-1.05zM6 31h1.05v1.05h-1.05zM24 31h1.05v1.05h-1.05zM9 34h1.05v1.05h-1.05zM21 34h1.05v1.05h-1.05z"/><path fill="#37ffc8" d="M2 29h1.05v1.05h-1.05zM4 30h1.05v1.05h-1.05zM8 32h1.05v1.05h-1.05zM22 32h1.05v1.05h-1.05zM9 33h1.05v1.05h-1.05zM21 33h1.05v1.05h-1.05zM9 35h1.05v1.05h-1.05zM21 35h1.05v1.05h-1.05zM8 36h1.05v1.05h-1.05zM6 37h1.05v1.05h-1.05zM24 37h1.05v1.05h-1.05zM3 38h1.05v1.05h-1.05zM27 38h1.05v1.05h-1.05zM0 39h1.05v1.05h-1.05zM30 39h1.05v1.05h-1.05z"/><path fill="#16ffe9" d="M3 29h1.05v1.05h-1.05zM5 30h1.05v1.05h-1.05zM25 30h1.05v1.05h-1.05zM7 31h1.05v1.05h-1.05zM26 38h1.05v1.05h-1.05zM1 39h1.05v1.05h-1.05z"/><path fill="#00d4ff" d="M5 29h1.05v1.05h-1.05zM25 29h1.05v1.05h-1.05zM7 30h1.05v1.05h-1.05zM23 30h1.05v1.05h-1.05zM22 37h1.05v1.05h-1.05zM24 38h1.05v1.05h-1.05zM4 39h1.05v1.05h-1.05zM26 39h1.05v1.05h-1.05zM1 40h1.05v1.05h-1.05zM29 40h1.05v1.05h-1.05z"/><path fill="#26ffd9" d="M28 29h1.05v1.05h-1.05zM23 31h1.05v1.05h-1.05zM22 36h1.05v1.05h-1.05zM4 38h1.05v1.05h-1.05zM29 39h1.05v1.05h-1.05z"/><path fill="#c8ff37" d="M0 30h1.05v1.05h-1.05zM30 30h1.05v1.05h-1.05zM3 31h1.05v1.05h-1.05zM27 31h1.05v1.05h-1.05zM7 34h1.05v1.05h-1.05zM23 34h1.05v1.05h-1.05zM5 36h1.05v1.05h-1.05zM25 36h1.05v1.05h-1.05zM28 37h1.05v1.05h-1.05z"/><path fill="#98ff67" d="M1 30h1.05v1.05h-1.05zM29 30h1.05v1.05h-1.05zM26 31h1.05v1.05h-1.05zM6 36h1.05v1.05h-1.05zM24 36h1.05v1.05h-1.05zM0 38h1.05v1.05h-1.05z"/><path fill="#77ff88" d="M2 30h1.05v1.05h-1.05zM5 31h1.05v1.05h-1.05zM25 31h1.05v1.05h-1.05zM8 33h1.05v1.05h-1.05zM22 33h1.05v1.05h-1.05zM1 38h1.05v1.05h-1.05z"/><path fill="#67ff98" d="M3 30h1.05v1.05h-1.05zM7 32h1.05v1.05h-1.05zM23 32h1.05v1.05h-1.05zM8 35h1.05v1.05h-1.05zM22 35h1.05v1.05h-1.05zM28 38h1.05v1.05h-1.05z"/><path fill="#88ff77" d="M28 30h1.05v1.05h-1.05zM8 34h1.05v1.05h-1.05zM22 34h1.05v1.05h-1.05zM4 37h1.05v1.05h-1.05zM26 37h1.05v1.05h-1.05zM29 38h1.05v1.05h-1.05z"/><path fill="#ffb400" d="M0 31h1.05v1.05h-1.05zM5 34h1.05v1.05h-1.05z"/><path fill="#fff500" d="M1 31h1.05v1.05h-1.05zM4 32h1.05v1.05h-1.05zM26 32h1.05v1.05h-1.05zM6 34h1.05v1.05h-1.05zM29 37h1.05v1.05h-1.05zM30 37h1.05v1.05h-1.05z"/><path fill="#e9ff16" d="M2 31h1.05v1.05h-1.05zM6 33h1.05v1.05h-1.05zM24 33h1.05v1.05h-1.05zM6 35h1.05v1.05h-1.05zM24 35h1.05v1.05h-1.05z"/><path fill="#a8ff57" d="M4 31h1.05v1.05h-1.05zM6 32h1.05v1.05h-1.05zM24 32h1.05v1.05h-1.05zM23 33h1.05v1.05h-1.05zM7 35h1.05v1.05h-1.05zM3 37h1.05v1.05h-1.05zM27 37h1.05v1.05h-1.05zM30 38h1.05v1.05h-1.05z"/><path fill="#f9ff06" d="M28 31h1.05v1.05h-1.05zM4 36h1.05v1.05h-1.05zM26 36h1.05v1.05h-1.05zM1 37h1.05v1.05h-1.05z"/><path fill="#ffe500" d="M29 31h1.05v1.05h-1.05zM24 34h1.05v1.05h-1.05zM0 37h1.05v1.05h-1.05z"/><path fill="#ffc400" d="M30 31h1.05v1.05h-1.05zM3 32h1.05v1.05h-1.05zM27 32h1.05v1.05h-1.05zM25 34h1.05v1.05h-1.05z"/><path fill="#ff3300" d="M0 32h1.05v1.05h-1.05zM2 33h1.05v1.05h-1.05zM27 34h1.05v1.05h-1.05zM2 35h1.05v1.05h-1.05zM28 35h1.05v1.05h-1.05z"/><path fill="#ff6300" d="M1 32h1.05v1.05h-1.05zM27 33h1.05v1.05h-1.05zM3 35h1.05v1.05h-1.05zM27 35h1.05v1.05h-1.05zM29 36h1.05v1.05h-1.05z"/><path fill="#ff9400" d="M2 32h1.05v1.05h-1.05zM28 32h1.05v1.05h-1.05z"/><path fill="#d9ff26" d="M5 32h1.05v1.05h-1.05zM25 32h1.05v1.05h-1.05zM2 37h1.05v1.05h-1.05z"/><path fill="#ff7300" d="M29 32h1.05v1.05h-1.05zM4 34h1.05v1.05h-1.05zM26 34h1.05v1.05h-1.05zM1 36h1.05v1.05h-1.05z"/><path fill="#ff4300" d="M30 32h1.05v1.05h-1.05zM3 34h1.05v1.05h-1.05zM0 36h1.05v1.05h-1.05zM30 36h1.05v1.05h-1.05z"/><path fill="#c00000" d="M0 33h1.05v1.05h-1.05zM30 33h1.05v1.05h-1.05zM1 34h1.05v1.05h-1.05zM29 34h1.05v1.05h-1.05zM0 35h1.05v1.05h-1.05zM30 35h1.05v1.05h-1.05z"/><path fill="#ff0200" d="M1 33h1.05v1.05h-1.05zM28 34h1.05v1.05h-1.05z"/><path fill="#ff5300" d="M3 33h1.05v1.05h-1.05z"/><path fill="#ffa400" d="M4 33h1.05v1.05h-1.05zM26 33h1.05v1.05h-1.05zM4 35h1.05v1.05h-1.05zM26 35h1.05v1.05h-1.05zM2 36h1.05v1.05h-1.05zM28 36h1.05v1.05h-1.05z"/><path fill="#ffd500" d="M5 33h1.05v1.05h-1.05zM25 33h1.05v1.05h-1.05zM5 35h1.05v1.05h-1.05zM25 35h1.05v1.05h-1.05zM3 36h1.05v1.05h-1.05zM27 36h1.05v1.05h-1.05z"/><path fill="#b8ff47" d="M7 33h1.05v1.05h-1.05zM23 35h1.05v1.05h-1.05z"/><path fill="#ff2200" d="M28 33h1.05v1.05h-1.05z"/><path fill="#f10000" d="M29 33h1.05v1.05h-1.05zM2 34h1.05v1.05h-1.05zM1 35h1.05v1.05h-1.05zM29 35h1.05v1.05h-1.05z"/><path fill="#900000" d="M0 34h1.05v1.05h-1.05zM30 34h1.05v1.05h-1.05z"/></g></g>
<rect x="312.50" y="23.30" width="187.10" height="187.10" fill="none" stroke="#222" stroke-width="1"/>
<text x="310.40" y="192.30" font-size="13.3" text-anchor="end" fill="#000" stroke="#000" stroke-width="0.25" >71</text>
<text x="310.40" y="170.70" font-size="13.3" text-anchor="end" fill="#000" stroke="#000" stroke-width="0.25" >72</text>
<text x="310.40" y="149.10" font-size="13.3" text-anchor="end" fill="#000" stroke="#000" stroke-width="0.25" >73</text>
<text x="310.40" y="127.50" font-size="13.3" text-anchor="end" fill="#000" stroke="#000" stroke-width="0.25" >74</text>
<text x="310.40" y="105.90" font-size="13.3" text-anchor="end" fill="#000" stroke="#000" stroke-width="0.25" >75</text>
<text x="310.40" y="84.30" font-size="13.3" text-anchor="end" fill="#000" stroke="#000" stroke-width="0.25" >76</text>
<text x="310.40" y="62.70" font-size="13.3" text-anchor="end" fill="#000" stroke="#000" stroke-width="0.25" >77</text>
<text x="310.40" y="41.10" font-size="13.3" text-anchor="end" fill="#000" stroke="#000" stroke-width="0.25" >78</text>
<text x="312.30" y="222.10" font-size="13.3" text-anchor="middle" fill="#000" stroke="#000" stroke-width="0.25" >-8</text>
<text x="335.70" y="222.10" font-size="13.3" text-anchor="middle" fill="#000" stroke="#000" stroke-width="0.25" >-6</text>
<text x="359.10" y="222.10" font-size="13.3" text-anchor="middle" fill="#000" stroke="#000" stroke-width="0.25" >-4</text>
<text x="382.50" y="222.10" font-size="13.3" text-anchor="middle" fill="#000" stroke="#000" stroke-width="0.25" >-2</text>
<text x="405.90" y="222.10" font-size="13.3" text-anchor="middle" fill="#000" stroke="#000" stroke-width="0.25" >0</text>
<text x="429.30" y="222.10" font-size="13.3" text-anchor="middle" fill="#000" stroke="#000" stroke-width="0.25" >2</text>
<text x="452.70" y="222.10" font-size="13.3" text-anchor="middle" fill="#000" stroke="#000" stroke-width="0.25" >4</text>
<text x="476.10" y="222.10" font-size="13.3" text-anchor="middle" fill="#000" stroke="#000" stroke-width="0.25" >6</text>
<text x="499.50" y="222.10" font-size="13.3" text-anchor="middle" fill="#000" stroke="#000" stroke-width="0.25" >8</text>
<path d="M312.5,187.60 h2.2 M499.6,187.60 h-2.2 M312.5,166.00 h2.2 M499.6,166.00 h-2.2 M312.5,144.40 h2.2 M499.6,144.40 h-2.2 M312.5,122.80 h2.2 M499.6,122.80 h-2.2 M312.5,101.20 h2.2 M499.6,101.20 h-2.2 M312.5,79.60 h2.2 M499.6,79.60 h-2.2 M312.5,58.00 h2.2 M499.6,58.00 h-2.2 M312.5,36.40 h2.2 M499.6,36.40 h-2.2" stroke="#111" stroke-width="1" fill="none"/>
<text x="407.80" y="240.70" font-size="13.3" text-anchor="middle" fill="#000" stroke="#000" stroke-width="0.25" >Bias (V)</text>
<text transform="translate(289.00,117.90) rotate(-90)" font-size="13.3" text-anchor="middle" fill="#000" stroke="#000" stroke-width="0.25">Frequency (kHz)</text>
<g shape-rendering="crispEdges"><rect x="506.2" y="204.77" width="13.20" height="2.93" fill="#000080"/><rect x="506.2" y="202.14" width="13.20" height="2.93" fill="#000090"/><rect x="506.2" y="199.51" width="13.20" height="2.93" fill="#0000a0"/><rect x="506.2" y="196.88" width="13.20" height="2.93" fill="#0000b0"/><rect x="506.2" y="194.25" width="13.20" height="2.93" fill="#0000c0"/><rect x="506.2" y="191.62" width="13.20" height="2.93" fill="#0000d0"/><rect x="506.2" y="188.99" width="13.20" height="2.93" fill="#0000e1"/><rect x="506.2" y="186.36" width="13.20" height="2.93" fill="#0000f1"/><rect x="506.2" y="183.73" width="13.20" height="2.93" fill="#0002ff"/><rect x="506.2" y="181.10" width="13.20" height="2.93" fill="#0012ff"/><rect x="506.2" y="178.47" width="13.20" height="2.93" fill="#0022ff"/><rect x="506.2" y="175.84" width="13.20" height="2.93" fill="#0033ff"/><rect x="506.2" y="173.21" width="13.20" height="2.93" fill="#0043ff"/><rect x="506.2" y="170.58" width="13.20" height="2.93" fill="#0053ff"/><rect x="506.2" y="167.95" width="13.20" height="2.93" fill="#0063ff"/><rect x="506.2" y="165.32" width="13.20" height="2.93" fill="#0073ff"/><rect x="506.2" y="162.70" width="13.20" height="2.93" fill="#0084ff"/><rect x="506.2" y="160.07" width="13.20" height="2.93" fill="#0094ff"/><rect x="506.2" y="157.44" width="13.20" height="2.93" fill="#00a4ff"/><rect x="506.2" y="154.81" width="13.20" height="2.93" fill="#00b4ff"/><rect x="506.2" y="152.18" width="13.20" height="2.93" fill="#00c4ff"/><rect x="506.2" y="149.55" width="13.20" height="2.93" fill="#00d4ff"/><rect x="506.2" y="146.92" width="13.20" height="2.93" fill="#00e5ff"/><rect x="506.2" y="144.29" width="13.20" height="2.93" fill="#00f5ff"/><rect x="506.2" y="141.66" width="13.20" height="2.93" fill="#06fff9"/><rect x="506.2" y="139.03" width="13.20" height="2.93" fill="#16ffe9"/><rect x="506.2" y="136.40" width="13.20" height="2.93" fill="#26ffd9"/><rect x="506.2" y="133.77" width="13.20" height="2.93" fill="#37ffc8"/><rect x="506.2" y="131.14" width="13.20" height="2.93" fill="#47ffb8"/><rect x="506.2" y="128.51" width="13.20" height="2.93" fill="#57ffa8"/><rect x="506.2" y="125.88" width="13.20" height="2.93" fill="#67ff98"/><rect x="506.2" y="123.25" width="13.20" height="2.93" fill="#77ff88"/><rect x="506.2" y="120.62" width="13.20" height="2.93" fill="#88ff77"/><rect x="506.2" y="117.99" width="13.20" height="2.93" fill="#98ff67"/><rect x="506.2" y="115.36" width="13.20" height="2.93" fill="#a8ff57"/><rect x="506.2" y="112.73" width="13.20" height="2.93" fill="#b8ff47"/><rect x="506.2" y="110.10" width="13.20" height="2.93" fill="#c8ff37"/><rect x="506.2" y="107.47" width="13.20" height="2.93" fill="#d9ff26"/><rect x="506.2" y="104.84" width="13.20" height="2.93" fill="#e9ff16"/><rect x="506.2" y="102.21" width="13.20" height="2.93" fill="#f9ff06"/><rect x="506.2" y="99.58" width="13.20" height="2.93" fill="#fff500"/><rect x="506.2" y="96.95" width="13.20" height="2.93" fill="#ffe500"/><rect x="506.2" y="94.32" width="13.20" height="2.93" fill="#ffd500"/><rect x="506.2" y="91.69" width="13.20" height="2.93" fill="#ffc400"/><rect x="506.2" y="89.06" width="13.20" height="2.93" fill="#ffb400"/><rect x="506.2" y="86.43" width="13.20" height="2.93" fill="#ffa400"/><rect x="506.2" y="83.80" width="13.20" height="2.93" fill="#ff9400"/><rect x="506.2" y="81.17" width="13.20" height="2.93" fill="#ff8400"/><rect x="506.2" y="78.55" width="13.20" height="2.93" fill="#ff7300"/><rect x="506.2" y="75.92" width="13.20" height="2.93" fill="#ff6300"/><rect x="506.2" y="73.29" width="13.20" height="2.93" fill="#ff5300"/><rect x="506.2" y="70.66" width="13.20" height="2.93" fill="#ff4300"/><rect x="506.2" y="68.03" width="13.20" height="2.93" fill="#ff3300"/><rect x="506.2" y="65.40" width="13.20" height="2.93" fill="#ff2200"/><rect x="506.2" y="62.77" width="13.20" height="2.93" fill="#ff1200"/><rect x="506.2" y="60.14" width="13.20" height="2.93" fill="#ff0200"/><rect x="506.2" y="57.51" width="13.20" height="2.93" fill="#f10000"/><rect x="506.2" y="54.88" width="13.20" height="2.93" fill="#e10000"/><rect x="506.2" y="52.25" width="13.20" height="2.93" fill="#d00000"/><rect x="506.2" y="49.62" width="13.20" height="2.93" fill="#c00000"/><rect x="506.2" y="46.99" width="13.20" height="2.93" fill="#b00000"/><rect x="506.2" y="44.36" width="13.20" height="2.93" fill="#a00000"/><rect x="506.2" y="41.73" width="13.20" height="2.93" fill="#900000"/><rect x="506.2" y="39.10" width="13.20" height="2.93" fill="#800000"/></g>
<rect x="506.2" y="39.1" width="13.20" height="168.30" fill="none" stroke="#222" stroke-width="1"/>
<text x="525.00" y="210.20" font-size="13.3" text-anchor="start" fill="#000" stroke="#000" stroke-width="0.25" >0</text>
<text x="525.00" y="194.98" font-size="13.3" text-anchor="start" fill="#000" stroke="#000" stroke-width="0.25" >1</text>
<text x="525.00" y="179.76" font-size="13.3" text-anchor="start" fill="#000" stroke="#000" stroke-width="0.25" >2</text>
<text x="525.00" y="164.54" font-size="13.3" text-anchor="start" fill="#000" stroke="#000" stroke-width="0.25" >3</text>
<text x="525.00" y="149.32" font-size="13.3" text-anchor="start" fill="#000" stroke="#000" stroke-width="0.25" >4</text>
<text x="525.00" y="134.10" font-size="13.3" text-anchor="start" fill="#000" stroke="#000" stroke-width="0.25" >5</text>
<text x="525.00" y="118.88" font-size="13.3" text-anchor="start" fill="#000" stroke="#000" stroke-width="0.25" >6</text>
<text x="525.00" y="103.66" font-size="13.3" text-anchor="start" fill="#000" stroke="#000" stroke-width="0.25" >7</text>
<text x="525.00" y="88.44" font-size="13.3" text-anchor="start" fill="#000" stroke="#000" stroke-width="0.25" >8</text>
<text x="525.00" y="73.22" font-size="13.3" text-anchor="start" fill="#000" stroke="#000" stroke-width="0.25" >9</text>
<text x="524.00" y="58.00" font-size="13.3" text-anchor="start" fill="#000" stroke="#000" stroke-width="0.25" >10</text>
<path d="M506.2,207.40 h1.8 M519.4,207.40 h-1.8 M506.2,192.00 h1.8 M519.4,192.00 h-1.8 M506.2,176.60 h1.8 M519.4,176.60 h-1.8 M506.2,161.20 h1.8 M519.4,161.20 h-1.8 M506.2,145.80 h1.8 M519.4,145.80 h-1.8 M506.2,130.40 h1.8 M519.4,130.40 h-1.8 M506.2,115.00 h1.8 M519.4,115.00 h-1.8 M506.2,99.60 h1.8 M519.4,99.60 h-1.8 M506.2,84.20 h1.8 M519.4,84.20 h-1.8 M506.2,68.80 h1.8 M519.4,68.80 h-1.8 M506.2,53.40 h1.8 M519.4,53.40 h-1.8" stroke="#111" stroke-width="1" fill="none"/>
<text x="505.00" y="35.70" font-size="13.3" text-anchor="start" fill="#000" stroke="#000" stroke-width="0.25" >(a.u.)</text>
<line x1="51.6" y1="260.8" x2="51.6" y2="448" stroke="#555" stroke-width="1.2"/>
<line x1="51.8" y1="447.8" x2="239.3" y2="447.8" stroke="#666" stroke-width="1"/>
<text x="46.90" y="452.40" font-size="13.3" text-anchor="end" fill="#000" stroke="#000" stroke-width="0.25" >0</text>
<text x="46.90" y="421.50" font-size="13.3" text-anchor="end" fill="#000" stroke="#000" stroke-width="0.25" >2</text>
<text x="46.90" y="390.60" font-size="13.3" text-anchor="end" fill="#000" stroke="#000" stroke-width="0.25" >4</text>
<text x="46.90" y="359.70" font-size="13.3" text-anchor="end" fill="#000" stroke="#000" stroke-width="0.25" >6</text>
<text x="46.90" y="328.80" font-size="13.3" text-anchor="end" fill="#000" stroke="#000" stroke-width="0.25" >8</text>
<text x="46.90" y="297.90" font-size="13.3" text-anchor="end" fill="#000" stroke="#000" stroke-width="0.25" >10</text>
<text x="46.90" y="267.00" font-size="13.3" text-anchor="end" fill="#000" stroke="#000" stroke-width="0.25" >12</text>
<text x="55.30" y="461.60" font-size="13.3" text-anchor="middle" fill="#000" stroke="#000" stroke-width="0.25" >71</text>
<text x="81.60" y="461.60" font-size="13.3" text-anchor="middle" fill="#000" stroke="#000" stroke-width="0.25" >72</text>
<text x="107.90" y="461.60" font-size="13.3" text-anchor="middle" fill="#000" stroke="#000" stroke-width="0.25" >73</text>
<text x="134.20" y="461.60" font-size="13.3" text-anchor="middle" fill="#000" stroke="#000" stroke-width="0.25" >74</text>
<text x="160.50" y="461.60" font-size="13.3" text-anchor="middle" fill="#000" stroke="#000" stroke-width="0.25" >75</text>
<text x="186.80" y="461.60" font-size="13.3" text-anchor="middle" fill="#000" stroke="#000" stroke-width="0.25" >76</text>
<text x="213.10" y="461.60" font-size="13.3" text-anchor="middle" fill="#000" stroke="#000" stroke-width="0.25" >77</text>
<text x="239.40" y="461.60" font-size="13.3" text-anchor="middle" fill="#000" stroke="#000" stroke-width="0.25" >78</text>
<path d="M51.8,447.80 h2.5 M51.8,432.35 h2.5 M51.8,416.90 h2.5 M51.8,401.45 h2.5 M51.8,386.00 h2.5 M51.8,370.55 h2.5 M51.8,355.10 h2.5 M51.8,339.65 h2.5 M51.8,324.20 h2.5 M51.8,308.75 h2.5 M51.8,293.30 h2.5 M51.8,277.85 h2.5 M51.8,262.40 h2.5 M55.30,447.8 v-2.5 M81.60,447.8 v-2.5 M107.90,447.8 v-2.5 M134.20,447.8 v-2.5 M160.50,447.8 v-2.5 M186.80,447.8 v-2.5 M213.10,447.8 v-2.5 M239.40,447.8 v-2.5" stroke="#666" stroke-width="1" fill="none"/>
<text x="151.60" y="477.40" font-size="13.3" text-anchor="middle" fill="#000" stroke="#000" stroke-width="0.25" >Frequency (kHz)</text>
<text transform="translate(23.30,352.50) rotate(-90)" font-size="13.3" text-anchor="middle" fill="#000" stroke="#000" stroke-width="0.25">Amplitude (a.u.)</text>
<g transform="scale(0.1)" stroke-width="20" fill="none" stroke-linejoin="round"><path d="M1119 4150l12 3 12-7 12-12 12-21 12-24 12-20 12-18 7-11 4-8 1-2 3-6 4-8 4-8 1-2 3-6 4-8 4-11 1-2 3-8 4-11 4-10 1-3 3-7 4-5 4-6 1-2 3-4 4-6 4-7 1-1 3-5 4-10 4-11 1-3 3-8 4-11 4-10 1-2 3-6 4-8 4-8 1-2 3-6 4-6 4-5 1-1 3-4 4-6 4-5 1-3 3-10 4-13 4-13 1-3 3-10 4-14 4-21 1-5 3-16 4-20 4-15 1-3 3-11 4-14 4-15 1-3 3-12 4-18 4-18 1-5 3-13 4-18 4-19 1-8 3-27 4-36 4-36 1-9 3-31 4-46 4-45 1-12 3-37 4-50 4-47 1-10 3-29 4-38 4-38 1-9 3-25 4-34 4-34 1-9 3-39 4-62 4-60 1-16 3-33 4-22 4-9 1-2 3-8 4-3 4-2 1-1 3-2 4-4 4-1 1 1 3 2 4 17 4 16 1 6 3 18 4 25 4 22 1 5 3 36 4 61 4 53 1 13 3 51 4 87 4 77 1 16 3 37 4 50 4 46 1 10 3 30 4 40 4 39 1 8 3 25 4 34 4 33 1 8 3 19 4 19 4 19 1 4 3 15 4 19 4 17 1 4 3 11 4 16 4 15 1 4 3 12 4 16 4 17 1 4 3 13 4 17 4 20 1 5 3 15 4 20 4 17 1 4 3 12 4 17 4 15 1 3 3 9 4 13 4 12 1 3 3 8 4 8 4 8 1 2 3 6 4 8 4 8 1 2 3 6 4 8 4 8 1 2 3 6 4 8 4 8 1 2 3 6 4 7 4 7 1 1 3 5 4 6 4 7 1 1 3 5 4 6 4 7 1 1 3 4 4 5 4 5 1 1 3 4 4 5 4 5 1 1 3 4 9 14 12 18 12 12 12 10 12 10 12 9 12 8 12 8 0 10 -12-6 -12-8 -12-5 -12-11 -12-16 -12-15 -12-14 -9-15 -3-7 -1-2 -4-7 -4-3 -3-2 -1-5 -4-5 -4 4 -3-3 -1 2 -4-10 -4-2 -3-6 -1-5 -4-15 -4-7 -3-5 -1-1 -4-7 -4-7 -3-6 -1-2 -4-8 -4-6 -3-6 -1 2 -4-9 -4-3 -3-8 -1-6 -4-11 -4-9 -3-6 -1-2 -4-8 -4-2 -3-8 -1 6 -4-11 -4-14 -3-15 -1 0 -4-14 -4-11 -3-18 -1-4 -4-14 -4-19 -3-19 -1-5 -4-25 -4-18 -3-3 -1-8 -4-11 -4-12 -3-20 -1 3 -4-14 -4-22 -3-3 -1-3 -4-18 -4-13 -3-22 -1-19 -4-21 -4-26 -3-19 -1-8 -4-33 -4-34 -3-10 -1-10 -4-29 -4-32 -3-11 -1-21 -4-61 -4-59 -3-27 -1-19 -4-99 -4-87 -3-34 -1-8 -4-44 -4-86 -3-23 -1 9 -4-43 -4-35 -3-20 -1-3 -4-11 -4-25 -3-2 -1-1 -4 1 -4 4 -3 2 -1 1 -4 3 -4 2 -3 8 -1 7 -4 8 -4 30 -3 29 -1 29 -4 65 -4 63 -3 37 -1 6 -4 35 -4 43 -3 30 -1 13 -4 38 -4 40 -3 38 -1 12 -4 36 -4 38 -3 28 -1 1 -4 46 -4 34 -3 32 -1 9 -4 35 -4 36 -3 27 -1 9 -4 21 -4 32 -3 19 -1 13 -4 27 -4 5 -3 6 -1-2 -4 11 -4 9 -3 4 -1 4 -4 14 -4 20 -3 16 -1 5 -4 21 -4 14 -3 10 -1 10 -4 13 -4 14 -3 7 -1 11 -4 11 -4 1 -3-4 -1 6 -4 6 -4 20 -3 4 -1-1 -4 9 -4 5 -3 0 -1 0 -4 2 -4 11 -3 5 -1 8 -4 19 -4 14 -3 1 -1 1 -4 8 -4 9 -3 4 -1-3 -4 6 -4 4 -3 11 -1 4 -4 10 -4 12 -3 12 -1 2 -4 10 -4 3 -3-1 -1 4 -4 4 -4 5 -3 8 -1 3 -4 6 -7 13 -12 17 -12 16 -12 23 -12 21 -12 12 -12 8 -12-4z" fill="#0000b3" stroke="none"/><path d="M519 4359l12-3 12-4 12-3 12-2 12-2 12-2 12-2 12-1 12-1 12-1 12-1 12-6 12-6 12-7 12 0 12 1 12 0 12-6 12-6 12 0 12 3 12 2 12-4 12-4 12-4 12-9 12-9 12-3 12 0 12 0 12-2 12-6 12-6 12-6 12-5 12-6 12-5 12-6 12-5 12-6 12-8 12-13 12-13 12-11 12-8 12-8 12-9 12-9 12-1 12 4 12 3 12-7 12-12 12-21 12-24 12-20 12-18 7-11 4-8 1-2 3-6 4-8 4-8 1-2 3-6 4-8 4-11 1-2 3-8 4-11 4-10 1-3 3-7 4-5 4-6 1-2 3-4 4-6 4-7 1-1 3-5 4-10 4-11 1-3 3-8 4-11 4-10 1-2 3-6 4-8 4-8 1-2 3-6 4-6 4-5 1-1 3-4 4-6 4-5 1-3 3-10 4-13 4-13 1-3 3-10 4-14 4-21 1-5 3-16 4-20 4-15 1-3 3-11 4-14 4-15 1-3 3-12 4-18 4-18 1-5 3-13 4-18 4-19 1-8 3-27 4-36 4-36 1-9 3-31 4-46 4-45 1-12 3-37 4-50 4-47 1-10 3-29 4-38 4-38 1-9 3-25 4-34 4-34 1-9 3-39 4-62 4-60 1-16 3-33 4-22 4-9 1-2 3-8 4-3 4-2 1-1 3-2 4-4 4-1 1 1 3 2 4 17 4 16 1 6 3 18 4 25 4 22 1 5 3 36 4 61 4 53 1 13 3 51 4 87 4 77 1 16 3 37 4 50 4 46 1 10 3 30 4 40 4 39 1 8 3 25 4 34 4 33 1 8 3 19 4 19 4 19 1 4 3 15 4 19 4 17 1 4 3 11 4 16 4 15 1 4 3 12 4 16 4 17 1 4 3 13 4 17 4 20 1 5 3 15 4 20 4 17 1 4 3 12 4 17 4 15 1 3 3 9 4 13 4 12 1 3 3 8 4 8 4 8 1 2 3 6 4 8 4 8 1 2 3 6 4 8 4 8 1 2 3 6 4 8 4 8 1 2 3 6 4 7 4 7 1 1 3 5 4 6 4 7 1 1 3 5 4 6 4 7 1 1 3 4 4 5 4 5 1 1 3 4 4 5 4 5 1 1 3 4 9 14 12 18 12 12 12 10 12 10 12 9 12 8 12 8 12 7 12 2 12 2 12 2 12 2 12 3 12 4 12 6 12 5 12 2 12 0 12 10 12 15 12 8 12 6 12 7 12 6 12 6 12 6 12 6 12 7 12 7 12 7 12 7 12 0 12-2 12-1 12 4 12 4 12 3 12 5 12 4 12 4 12 4 12 3 12 3 12 3 12 5 12 5 12 5 8 1" stroke="#0000b3" stroke-width="20"/><path d="M1119 4153l12 4 12-8 12-12 12-21 12-23 12-16 12-17 7-13 4-6 1-3 3-8 4-5 4-4 1-4 3 1 4-3 4-10 1-2 3-12 4-12 4-10 1-4 3-11 4-4 4-6 1 3 3-4 4-9 4-8 1-1 3-1 4-14 4-19 1-8 3-5 4-11 4-2 1 0 3 0 4-5 4-9 1 1 3-4 4-20 4-6 1-6 3 4 4-1 4-11 1-11 3-7 4-14 4-13 1-10 3-10 4-14 4-21 1-5 3-16 4-20 4-14 1-4 3-4 4-9 4-11 1 2 3-6 4-5 4-27 1-13 3-19 4-32 4-21 1-9 3-27 4-36 4-35 1-9 3-32 4-34 4-46 1-1 3-28 4-38 4-36 1-12 3-38 4-40 4-38 1-13 3-30 4-43 4-35 1-6 3-37 4-63 4-65 1-29 3-29 4-30 4-8 1-7 3-8 4-2 4-3 1-1 3-2 4-4 4-1 1 1 3 2 4 25 4 11 1 3 3 20 4 35 4 43 1-9 3 23 4 86 4 44 1 8 3 34 4 87 4 99 1 19 3 27 4 59 4 61 1 21 3 11 4 32 4 29 1 10 3 10 4 34 4 33 1 8 3 19 4 26 4 21 1 19 3 22 4 13 4 18 1 3 3 3 4 22 4 14 1-3 3 20 4 12 4 11 1 8 3 3 4 18 4 25 1 5 3 19 4 19 4 14 1 4 3 18 4 11 4 14 1 0 3 15 4 14 4 11 1-6 3 8 4 2 4 8 1 2 3 6 4 9 4 11 1 6 3 8 4 3 4 9 1-2 3 6 4 6 4 8 1 2 3 6 4 7 4 7 1 1 3 5 4 7 4 15 1 5 3 6 4 2 4 10 1-2 3 3 4-4 4 5 1 5 3 2 4 3 4 7 1 2 3 7 9 15 12 14 12 15 12 16 12 11 12 5 12 8 12 6 0 6 -12-4 -12-9 -12-6 -12-13 -12-13 -12-12 -12-19 -9-19 -3 2 -1-10 -4 2 -4-2 -3 1 -1 5 -4-2 -4-7 -3 6 -1-8 -4-5 -4-8 -3-13 -1 2 -4-9 -4-9 -3-2 -1-3 -4-8 -4-2 -3-12 -1-2 -4-10 -4-10 -3-7 -1 0 -4-7 -4-4 -3-9 -1 2 -4-9 -4-1 -3-6 -1-1 -4-9 -4-4 -3-13 -1-1 -4-19 -4-12 -3-19 -1-1 -4-12 -4-14 -3-6 -1-2 -4-17 -4-16 -3-16 -1-4 -4-20 -4-27 -3-12 -1-9 -4-16 -4-11 -3-5 -1-3 -4-10 -4-16 -3 0 -1 0 -4-16 -4-28 -3-10 -1-2 -4-17 -4-25 -3-24 -1-14 -4-28 -4-27 -3-25 -1-8 -4-32 -4-32 -3-40 -1-14 -4-61 -4-49 -3-41 -1-16 -4-72 -4-67 -3-48 -1-7 -4-43 -4-47 -3-36 -1-17 -4-31 -4-28 -3-9 -1-19 -4-31 -4-23 -3 4 -1-10 -4-7 -4-3 -3 9 -1-10 -4-1 -4 19 -3 32 -1 16 -4 17 -4 3 -3 36 -1 9 -4 55 -4 41 -3 37 -1-12 -4 60 -4 44 -3 24 -1 12 -4 50 -4 34 -3 41 -1 1 -4 42 -4 44 -3 33 -1 3 -4 40 -4 36 -3 32 -1-2 -4 46 -4 34 -3 34 -1 12 -4 29 -4 14 -3 24 -1 5 -4 22 -4 12 -3 12 -1-1 -4 22 -4 18 -3 11 -1-9 -4 13 -4 23 -3 16 -1 3 -4 17 -4 15 -3 22 -1 7 -4 11 -4 10 -3 0 -1 5 -4 4 -4-9 -3 4 -1 8 -4 10 -4 14 -3 8 -1 6 -4 17 -4 8 -3-2 -1-8 -4 14 -4 5 -3 0 -1 2 -4 12 -4 10 -3 13 -1-6 -4 7 -4 14 -3 8 -1-4 -4 10 -4-3 -3 11 -1-1 -4 7 -4 6 -3 11 -1 3 -4 13 -4 4 -3 6 -1 0 -4 6 -4 6 -3 7 -1 7 -4 4 -7 15 -12 18 -12 14 -12 21 -12 18 -12 7 -12 10 -12-5z" fill="#0000be" stroke="none"/><path d="M519 4362l12-3 12-4 12-3 12-2 12-2 12-2 12-2 12-1 12-1 12 0 12-2 12-6 12-6 12-3 12 1 12 3 12 0 12-6 12-5 12-1 12 1 12-2 12-5 12-4 12-4 12-9 12-7 12-2 12 1 12 0 12-3 12-8 12-7 12-6 12-5 12-6 12-5 12-6 12-5 12-6 12-7 12-14 12-12 12-12 12-6 12-6 12-9 12-11 12-3 12 4 12 4 12-8 12-12 12-21 12-23 12-16 12-17 7-13 4-6 1-3 3-8 4-5 4-4 1-4 3 1 4-3 4-10 1-2 3-12 4-12 4-10 1-4 3-11 4-4 4-6 1 3 3-4 4-9 4-8 1-1 3-1 4-14 4-19 1-8 3-5 4-11 4-2 1 0 3 0 4-5 4-9 1 1 3-4 4-20 4-6 1-6 3 4 4-1 4-11 1-11 3-7 4-14 4-13 1-10 3-10 4-14 4-21 1-5 3-16 4-20 4-14 1-4 3-4 4-9 4-11 1 2 3-6 4-5 4-27 1-13 3-19 4-32 4-21 1-9 3-27 4-36 4-35 1-9 3-32 4-34 4-46 1-1 3-28 4-38 4-36 1-12 3-38 4-40 4-38 1-13 3-30 4-43 4-35 1-6 3-37 4-63 4-65 1-29 3-29 4-30 4-8 1-7 3-8 4-2 4-3 1-1 3-2 4-4 4-1 1 1 3 2 4 25 4 11 1 3 3 20 4 35 4 43 1-9 3 23 4 86 4 44 1 8 3 34 4 87 4 99 1 19 3 27 4 59 4 61 1 21 3 11 4 32 4 29 1 10 3 10 4 34 4 33 1 8 3 19 4 26 4 21 1 19 3 22 4 13 4 18 1 3 3 3 4 22 4 14 1-3 3 20 4 12 4 11 1 8 3 3 4 18 4 25 1 5 3 19 4 19 4 14 1 4 3 18 4 11 4 14 1 0 3 15 4 14 4 11 1-6 3 8 4 2 4 8 1 2 3 6 4 9 4 11 1 6 3 8 4 3 4 9 1-2 3 6 4 6 4 8 1 2 3 6 4 7 4 7 1 1 3 5 4 7 4 15 1 5 3 6 4 2 4 10 1-2 3 3 4-4 4 5 1 5 3 2 4 3 4 7 1 2 3 7 9 15 12 14 12 15 12 16 12 11 12 5 12 8 12 6 12 6 12 0 12 1 12 1 12 5 12 0 12 5 12 10 12 4 12-3 12-1 12 10 12 16 12 7 12 6 12 7 12 6 12 6 12 6 12 6 12 9 12 9 12 6 12 8 12 0 12-4 12-1 12 2 12 4 12 5 12 3 12 4 12 4 12 4 12 3 12 3 12 3 12 5 12 5 12 5 8 1" stroke="#0000be" stroke-width="20"/><path d="M1119 4158l12 5 12-10 12-7 12-18 12-21 12-14 12-18 7-15 4-4 1-7 3-7 4-6 4-6 1 0 3-6 4-4 4-13 1-3 3-11 4-6 4-7 1 1 3-11 4 3 4-10 1 4 3-8 4-14 4-7 1 6 3-13 4-10 4-12 1-2 3 0 4-5 4-14 1 8 3 2 4-8 4-17 1-6 3-8 4-14 4-10 1-8 3-4 4 9 4-4 1-5 3 0 4-10 4-11 1-7 3-22 4-15 4-17 1-3 3-16 4-23 4-13 1 9 3-11 4-18 4-22 1 1 3-12 4-12 4-22 1-5 3-24 4-14 4-29 1-12 3-34 4-34 4-46 1 2 3-32 4-36 4-40 1-3 3-33 4-44 4-42 1-1 3-41 4-34 4-50 1-12 3-24 4-44 4-60 1 12 3-37 4-41 4-55 1-9 3-36 4-3 4-17 1-16 3-32 4-19 4 1 1 10 3-9 4 3 4 7 1 10 3-4 4 23 4 31 1 19 3 9 4 28 4 31 1 17 3 36 4 47 4 43 1 7 3 48 4 67 4 72 1 16 3 41 4 49 4 61 1 14 3 40 4 32 4 32 1 8 3 25 4 27 4 28 1 14 3 24 4 25 4 17 1 2 3 10 4 28 4 16 1 0 3 0 4 16 4 10 1 3 3 5 4 11 4 16 1 9 3 12 4 27 4 20 1 4 3 16 4 16 4 17 1 2 3 6 4 14 4 12 1 1 3 19 4 12 4 19 1 1 3 13 4 4 4 9 1 1 3 6 4 1 4 9 1-2 3 9 4 4 4 7 1 0 3 7 4 10 4 10 1 2 3 12 4 2 4 8 1 3 3 2 4 9 4 9 1-2 3 13 4 8 4 5 1 8 3-6 4 7 4 2 1-5 3-1 4 2 4-2 1 10 3-2 9 19 12 19 12 12 12 13 12 13 12 6 12 9 12 4 0 13 -12-12 -12-8 -12-8 -12-13 -12-15 -12-15 -12-16 -9-14 -3-4 -1-2 -4-3 -4 1 -3-1 -1-5 -4 2 -4-6 -3-7 -1-2 -4-7 -4-9 -3-1 -1-2 -4-1 -4-1 -3-10 -1-2 -4-1 -4-9 -3-13 -1-3 -4-6 -4-3 -3-7 -1-7 -4-7 -4-8 -3-6 -1-6 -4-2 -4-5 -3-4 -1-3 -4-7 -4-8 -3-7 -1-2 -4-12 -4-8 -3-9 -1-5 -4-9 -4-16 -3-15 -1 0 -4-18 -4-17 -3-8 -1-11 -4-23 -4-24 -3-13 -1-11 -4-19 -4-17 -3-4 -1 7 -4-7 -4-15 -3-1 -1-1 -4-11 -4-24 -3-19 -1-10 -4-27 -4-28 -3-21 -1-15 -4-32 -4-26 -3-13 -1-3 -4-33 -4-32 -3-19 -1-25 -4-58 -4-65 -3-30 -1-9 -4-76 -4-81 -3-34 -1-15 -4-34 -4-63 -3-38 -1-6 -4-46 -4-24 -3 0 -1-7 -4-24 -4-22 -3 1 -1 2 -4-11 -4 4 -3 9 -1-2 -4-9 -4-5 -3 25 -1 16 -4-2 -4 18 -3 32 -1 23 -4 67 -4 52 -3 58 -1 2 -4 37 -4 26 -3 36 -1 4 -4 44 -4 20 -3 54 -1 6 -4 53 -4 34 -3 22 -1 11 -4 32 -4 29 -3 22 -1 7 -4 42 -4 50 -3 27 -1 19 -4 19 -4 23 -3 22 -1-3 -4 12 -4 10 -3 5 -1-2 -4 13 -4 5 -3 13 -1 1 -4 14 -4 20 -3 22 -1 2 -4 28 -4 19 -3 15 -1 6 -4 22 -4 4 -3 11 -1 2 -4 3 -4 1 -3 5 -1-4 -4 16 -4 8 -3 8 -1 3 -4 6 -4 11 -3 4 -1-3 -4 12 -4 9 -3 4 -1 10 -4 6 -4 10 -3 4 -1-1 -4 4 -4 12 -3-1 -1 0 -4 5 -4 6 -3 1 -1 2 -4 11 -4 11 -3 10 -1 5 -4 8 -4 10 -3 8 -1-6 -4 12 -4 10 -3 3 -1 3 -4 4 -7 7 -12 19 -12 11 -12 21 -12 18 -12 14 -12 12 -12-3z" fill="#0000cf" stroke="none"/><path d="M519 4362l12-3 12-4 12-3 12-1 12-2 12-3 12-2 12-1 12 0 12-1 12-2 12-6 12-5 12-4 12-2 12 2 12 0 12-5 12-6 12-2 12 4 12 4 12-3 12-2 12-6 12-6 12-8 12-11 12-2 12 0 12-2 12-6 12-6 12-4 12 0 12-2 12-4 12-5 12-3 12-3 12-10 12-13 12-14 12-12 12-10 12-10 12-10 12-11 12-5 12 6 12 5 12-10 12-7 12-18 12-21 12-14 12-18 7-15 4-4 1-7 3-7 4-6 4-6 1 0 3-6 4-4 4-13 1-3 3-11 4-6 4-7 1 1 3-11 4 3 4-10 1 4 3-8 4-14 4-7 1 6 3-13 4-10 4-12 1-2 3 0 4-5 4-14 1 8 3 2 4-8 4-17 1-6 3-8 4-14 4-10 1-8 3-4 4 9 4-4 1-5 3 0 4-10 4-11 1-7 3-22 4-15 4-17 1-3 3-16 4-23 4-13 1 9 3-11 4-18 4-22 1 1 3-12 4-12 4-22 1-5 3-24 4-14 4-29 1-12 3-34 4-34 4-46 1 2 3-32 4-36 4-40 1-3 3-33 4-44 4-42 1-1 3-41 4-34 4-50 1-12 3-24 4-44 4-60 1 12 3-37 4-41 4-55 1-9 3-36 4-3 4-17 1-16 3-32 4-19 4 1 1 10 3-9 4 3 4 7 1 10 3-4 4 23 4 31 1 19 3 9 4 28 4 31 1 17 3 36 4 47 4 43 1 7 3 48 4 67 4 72 1 16 3 41 4 49 4 61 1 14 3 40 4 32 4 32 1 8 3 25 4 27 4 28 1 14 3 24 4 25 4 17 1 2 3 10 4 28 4 16 1 0 3 0 4 16 4 10 1 3 3 5 4 11 4 16 1 9 3 12 4 27 4 20 1 4 3 16 4 16 4 17 1 2 3 6 4 14 4 12 1 1 3 19 4 12 4 19 1 1 3 13 4 4 4 9 1 1 3 6 4 1 4 9 1-2 3 9 4 4 4 7 1 0 3 7 4 10 4 10 1 2 3 12 4 2 4 8 1 3 3 2 4 9 4 9 1-2 3 13 4 8 4 5 1 8 3-6 4 7 4 2 1-5 3-1 4 2 4-2 1 10 3-2 9 19 12 19 12 12 12 13 12 13 12 6 12 9 12 4 12 5 12 6 12 0 12 3 12 4 12 1 12 6 12 6 12 4 12-2 12 0 12 6 12 15 12 7 12 7 12 4 12 6 12 2 12 6 12 6 12 8 12 6 12 8 12 6 12 0 12 1 12 0 12 1 12 4 12 3 12 5 12 6 12 2 12 4 12 7 12 3 12 3 12 7 12 4 12 5 8 1" stroke="#0000cf" stroke-width="20"/><path d="M1119 4173l12 3 12-12 12-14 12-18 12-21 12-11 12-19 7-7 4-4 1-3 3-3 4-10 4-12 1 6 3-8 4-10 4-8 1-5 3-10 4-11 4-11 1-2 3-1 4-6 4-5 1 0 3 1 4-12 4-4 1 1 3-4 4-10 4-6 1-10 3-4 4-9 4-12 1 3 3-4 4-11 4-6 1-3 3-8 4-8 4-16 1 4 3-5 4-1 4-3 1-2 3-11 4-4 4-22 1-6 3-15 4-19 4-28 1-2 3-22 4-20 4-14 1-1 3-13 4-5 4-13 1 2 3-5 4-10 4-12 1 3 3-22 4-23 4-19 1-19 3-27 4-50 4-42 1-7 3-22 4-29 4-32 1-11 3-22 4-34 4-53 1-6 3-54 4-20 4-44 1-4 3-36 4-26 4-37 1-2 3-58 4-52 4-67 1-23 3-32 4-18 4 2 1-16 3-25 4 5 4 9 1 2 3-9 4-4 4 11 1-2 3-1 4 22 4 24 1 7 3 0 4 24 4 46 1 6 3 38 4 63 4 34 1 15 3 34 4 81 4 76 1 9 3 30 4 65 4 58 1 25 3 19 4 32 4 33 1 3 3 13 4 26 4 32 1 15 3 21 4 28 4 27 1 10 3 19 4 24 4 11 1 1 3 1 4 15 4 7 1-7 3 4 4 17 4 19 1 11 3 13 4 24 4 23 1 11 3 8 4 17 4 18 1 0 3 15 4 16 4 9 1 5 3 9 4 8 4 12 1 2 3 7 4 8 4 7 1 3 3 4 4 5 4 2 1 6 3 6 4 8 4 7 1 7 3 7 4 3 4 6 1 3 3 13 4 9 4 1 1 2 3 10 4 1 4 1 1 2 3 1 4 9 4 7 1 2 3 7 4 6 4-2 1 5 3 1 4-1 4 3 1 2 3 4 9 14 12 16 12 15 12 15 12 13 12 8 12 8 12 12 0 3 -12-5 -12-5 -12-11 -12-11 -12-11 -12-8 -12-18 -9-14 -3-5 -1-1 -4 0 -4 0 -3-8 -1-2 -4 1 -4-7 -3-1 -1-1 -4-6 -4-4 -3-7 -1 0 -4-5 -4-6 -3-1 -1-2 -4-3 -4-7 -3-16 -1-2 -4-5 -4-12 -3-5 -1-4 -4-5 -4-4 -3-10 -1-6 -4-7 -4-12 -3-6 -1-1 -4-2 -4-2 -3-2 -1 2 -4-8 -4-10 -3-10 -1-8 -4-15 -4-16 -3-15 -1-6 -4-16 -4-10 -3-12 -1-3 -4-27 -4-23 -3-5 -1-4 -4-27 -4-23 -3-13 -1-3 -4-11 -4-16 -3-7 -1 4 -4-10 -4-19 -3-8 -1-4 -4-23 -4-23 -3-22 -1-8 -4-30 -4-29 -3-24 -1-1 -4-33 -4-41 -3-22 -1-3 -4-58 -4-58 -3-37 -1-15 -4-63 -4-86 -3-55 -1-12 -4-24 -4-64 -3-51 -1-13 -4-13 -4-30 -3-8 -1-20 -4-13 -4-3 -3 1 -1-22 -4 13 -4-5 -3 5 -1-5 -4 0 -4 15 -3 17 -1 1 -4 33 -4 16 -3 28 -1 2 -4 47 -4 60 -3 33 -1 0 -4 38 -4 40 -3 32 -1 20 -4 51 -4 36 -3 32 -1 15 -4 35 -4 56 -3 30 -1 10 -4 33 -4 46 -3 20 -1 21 -4 24 -4 26 -3 17 -1 13 -4 13 -4 21 -3 5 -1 5 -4 16 -4 13 -3 4 -1 4 -4 14 -4 17 -3 11 -1 1 -4 14 -4 26 -3 13 -1 7 -4 17 -4 15 -3 9 -1 0 -4 13 -4 14 -3 5 -1 4 -4 6 -4 11 -3 8 -1 1 -4 4 -4 7 -3 5 -1 2 -4 5 -4 12 -3 3 -1 0 -4 10 -4 14 -3-2 -1 5 -4 8 -4 14 -3 4 -1 1 -4 6 -4 10 -3 7 -1-1 -4-1 -4 7 -3 7 -1-3 -4 17 -4 7 -3 6 -1 8 -4 10 -4 3 -3 9 -1-1 -4 8 -4 9 -3 3 -1 2 -4 5 -7 8 -12 15 -12 14 -12 22 -12 16 -12 10 -12 10 -12-1z" fill="#0000e0" stroke="none"/><path d="M519 4369l12-5 12-6 12-3 12-3 12-1 12-2 12-4 12 3 12-1 12-1 12-2 12-6 12-3 12-2 12-3 12 1 12 1 12-3 12-5 12 1 12 3 12 5 12-3 12-5 12-4 12-9 12-11 12-4 12-3 12 0 12 0 12-5 12-5 12-5 12-6 12-3 12-10 12-5 12-3 12-4 12-9 12-14 12-10 12-8 12-9 12-7 12-9 12-6 12-3 12 0 12 3 12-12 12-14 12-18 12-21 12-11 12-19 7-7 4-4 1-3 3-3 4-10 4-12 1 6 3-8 4-10 4-8 1-5 3-10 4-11 4-11 1-2 3-1 4-6 4-5 1 0 3 1 4-12 4-4 1 1 3-4 4-10 4-6 1-10 3-4 4-9 4-12 1 3 3-4 4-11 4-6 1-3 3-8 4-8 4-16 1 4 3-5 4-1 4-3 1-2 3-11 4-4 4-22 1-6 3-15 4-19 4-28 1-2 3-22 4-20 4-14 1-1 3-13 4-5 4-13 1 2 3-5 4-10 4-12 1 3 3-22 4-23 4-19 1-19 3-27 4-50 4-42 1-7 3-22 4-29 4-32 1-11 3-22 4-34 4-53 1-6 3-54 4-20 4-44 1-4 3-36 4-26 4-37 1-2 3-58 4-52 4-67 1-23 3-32 4-18 4 2 1-16 3-25 4 5 4 9 1 2 3-9 4-4 4 11 1-2 3-1 4 22 4 24 1 7 3 0 4 24 4 46 1 6 3 38 4 63 4 34 1 15 3 34 4 81 4 76 1 9 3 30 4 65 4 58 1 25 3 19 4 32 4 33 1 3 3 13 4 26 4 32 1 15 3 21 4 28 4 27 1 10 3 19 4 24 4 11 1 1 3 1 4 15 4 7 1-7 3 4 4 17 4 19 1 11 3 13 4 24 4 23 1 11 3 8 4 17 4 18 1 0 3 15 4 16 4 9 1 5 3 9 4 8 4 12 1 2 3 7 4 8 4 7 1 3 3 4 4 5 4 2 1 6 3 6 4 8 4 7 1 7 3 7 4 3 4 6 1 3 3 13 4 9 4 1 1 2 3 10 4 1 4 1 1 2 3 1 4 9 4 7 1 2 3 7 4 6 4-2 1 5 3 1 4-1 4 3 1 2 3 4 9 14 12 16 12 15 12 15 12 13 12 8 12 8 12 12 12 6 12-1 12 1 12 2 12 1 12 5 12 2 12 8 12 6 12 0 12-3 12 10 12 14 12 6 12 4 12 5 12 10 12 6 12 6 12 4 12 7 12 7 12 9 12 4 12-1 12-2 12-1 12 2 12 3 12-1 12 3 12 6 12 3 12 5 12 5 12 4 12 4 12 5 12 4 12 7 8-1" stroke="#0000e0" stroke-width="20"/><path d="M1119 4181l12 1 12-10 12-10 12-16 12-22 12-14 12-15 7-8 4-5 1-2 3-3 4-9 4-8 1 1 3-9 4-3 4-10 1-8 3-6 4-7 4-17 1 3 3-7 4-7 4 1 1 1 3-7 4-10 4-6 1-1 3-4 4-14 4-8 1-5 3 2 4-14 4-10 1 0 3-3 4-12 4-5 1-2 3-5 4-7 4-4 1-1 3-8 4-11 4-6 1-4 3-5 4-14 4-13 1 0 3-9 4-15 4-17 1-7 3-13 4-26 4-14 1-1 3-11 4-17 4-14 1-4 3-4 4-13 4-16 1-5 3-5 4-21 4-13 1-13 3-17 4-26 4-24 1-21 3-20 4-46 4-33 1-10 3-30 4-56 4-35 1-15 3-32 4-36 4-51 1-20 3-32 4-40 4-38 1 0 3-33 4-60 4-47 1-2 3-28 4-16 4-33 1-1 3-17 4-15 4 0 1 5 3-5 4 5 4-13 1 22 3-1 4 3 4 13 1 20 3 8 4 30 4 13 1 13 3 51 4 64 4 24 1 12 3 55 4 86 4 63 1 15 3 37 4 58 4 58 1 3 3 22 4 41 4 33 1 1 3 24 4 29 4 30 1 8 3 22 4 23 4 23 1 4 3 8 4 19 4 10 1-4 3 7 4 16 4 11 1 3 3 13 4 23 4 27 1 4 3 5 4 23 4 27 1 3 3 12 4 10 4 16 1 6 3 15 4 16 4 15 1 8 3 10 4 10 4 8 1-2 3 2 4 2 4 2 1 1 3 6 4 12 4 7 1 6 3 10 4 4 4 5 1 4 3 5 4 12 4 5 1 2 3 16 4 7 4 3 1 2 3 1 4 6 4 5 1 0 3 7 4 4 4 6 1 1 3 1 4 7 4-1 1 2 3 8 4 0 4 0 1 1 3 5 9 14 12 18 12 8 12 11 12 11 12 11 12 5 12 5 0 12 -12-8 -12-8 -12-11 -12-10 -12-17 -12-12 -12-14 -9-10 -3-5 -1 0 -4-2 -4 4 -3-4 -1-3 -4-4 -4-4 -3-5 -1 1 -4-9 -4-4 -3-7 -1 0 -4-4 -4-2 -3-6 -1 0 -4-3 -4 0 -3-11 -1-5 -4-11 -4-6 -3-4 -1-4 -4-8 -4-9 -3-8 -1-3 -4-8 -4-8 -3-8 -1 0 -4-3 -4-8 -3-6 -1-4 -4-8 -4-5 -3-14 -1-8 -4-10 -4-13 -3-7 -1-4 -4-18 -4-13 -3-9 -1-5 -4-17 -4-19 -3-10 -1-5 -4-19 -4-13 -3-8 -1-7 -4-13 -4-12 -3 4 -1-2 -4-17 -4-19 -3-11 -1-9 -4-28 -4-29 -3-22 -1-9 -4-29 -4-22 -3-22 -1-11 -4-44 -4-27 -3-28 -1-16 -4-51 -4-46 -3-14 -1 0 -4-75 -4-76 -3-42 -1-14 -4-47 -4-67 -3-34 -1-14 -4-29 -4-22 -3-26 -1 6 -4-27 -4-28 -3 11 -1-7 -4 0 -4 9 -3-6 -1 14 -4-1 -4-3 -3 34 -1-3 -4 22 -4 33 -3 11 -1 23 -4 48 -4 51 -3 41 -1 4 -4 28 -4 47 -3 19 -1 22 -4 30 -4 34 -3 27 -1-2 -4 32 -4 36 -3 25 -1 17 -4 46 -4 37 -3 34 -1 4 -4 37 -4 32 -3 18 -1 8 -4 19 -4 24 -3 25 -1 1 -4 21 -4 17 -3 7 -1 2 -4 13 -4 4 -3 15 -1 1 -4 10 -4 18 -3 25 -1 8 -4 27 -4 11 -3 13 -1 4 -4 5 -4 5 -3 3 -1 7 -4 9 -4 2 -3 8 -1 13 -4 7 -4 10 -3-6 -1-4 -4 4 -4 5 -3 6 -1-1 -4 5 -4 15 -3 6 -1 10 -4 7 -4 5 -3 6 -1 4 -4 0 -4 14 -3-2 -1 6 -4 8 -4-1 -3 6 -1 9 -4 9 -4 12 -3 5 -1 2 -4 9 -4 11 -3 0 -1-3 -4 3 -4 6 -3 3 -1 6 -4-1 -7 13 -12 17 -12 16 -12 22 -12 18 -12 10 -12 9 -12-1z" fill="#0000f1" stroke="none"/><path d="M519 4370l12-4 12-4 12-3 12 2 12-2 12-2 12-5 12 0 12-2 12 2 12-1 12-3 12-6 12-1 12-1 12 0 12-2 12-5 12-6 12 0 12-2 12 2 12-2 12-2 12-4 12-7 12-7 12-2 12-1 12 0 12-1 12-10 12-6 12-6 12-4 12-3 12-5 12-6 12-5 12-2 12-10 12-10 12-12 12-9 12-7 12-5 12-12 12-7 12-3 12 2 12 1 12-10 12-10 12-16 12-22 12-14 12-15 7-8 4-5 1-2 3-3 4-9 4-8 1 1 3-9 4-3 4-10 1-8 3-6 4-7 4-17 1 3 3-7 4-7 4 1 1 1 3-7 4-10 4-6 1-1 3-4 4-14 4-8 1-5 3 2 4-14 4-10 1 0 3-3 4-12 4-5 1-2 3-5 4-7 4-4 1-1 3-8 4-11 4-6 1-4 3-5 4-14 4-13 1 0 3-9 4-15 4-17 1-7 3-13 4-26 4-14 1-1 3-11 4-17 4-14 1-4 3-4 4-13 4-16 1-5 3-5 4-21 4-13 1-13 3-17 4-26 4-24 1-21 3-20 4-46 4-33 1-10 3-30 4-56 4-35 1-15 3-32 4-36 4-51 1-20 3-32 4-40 4-38 1 0 3-33 4-60 4-47 1-2 3-28 4-16 4-33 1-1 3-17 4-15 4 0 1 5 3-5 4 5 4-13 1 22 3-1 4 3 4 13 1 20 3 8 4 30 4 13 1 13 3 51 4 64 4 24 1 12 3 55 4 86 4 63 1 15 3 37 4 58 4 58 1 3 3 22 4 41 4 33 1 1 3 24 4 29 4 30 1 8 3 22 4 23 4 23 1 4 3 8 4 19 4 10 1-4 3 7 4 16 4 11 1 3 3 13 4 23 4 27 1 4 3 5 4 23 4 27 1 3 3 12 4 10 4 16 1 6 3 15 4 16 4 15 1 8 3 10 4 10 4 8 1-2 3 2 4 2 4 2 1 1 3 6 4 12 4 7 1 6 3 10 4 4 4 5 1 4 3 5 4 12 4 5 1 2 3 16 4 7 4 3 1 2 3 1 4 6 4 5 1 0 3 7 4 4 4 6 1 1 3 1 4 7 4-1 1 2 3 8 4 0 4 0 1 1 3 5 9 14 12 18 12 8 12 11 12 11 12 11 12 5 12 5 12 3 12 6 12 2 12 3 12 1 12 3 12 7 12 6 12 4 12 1 12 3 12 8 12 10 12 4 12 3 12 7 12 6 12 3 12 8 12 7 12 9 12 5 12 6 12 3 12 0 12-2 12-1 12 3 12 3 12 3 12 4 12 4 12 2 12 2 12 3 12 4 12 2 12 4 12 5 12 6 8 1" stroke="#0000f1" stroke-width="20"/><path d="M1119 4191l12 1 12-9 12-10 12-18 12-22 12-16 12-17 7-13 4 1 1-6 3-3 4-6 4-3 1 3 3 0 4-11 4-9 1-2 3-5 4-12 4-9 1-9 3-6 4 1 4-8 1-6 3 2 4-14 4 0 1-4 3-6 4-5 4-7 1-10 3-6 4-15 4-5 1 1 3-6 4-5 4-4 1 4 3 6 4-10 4-7 1-13 3-8 4-2 4-9 1-7 3-3 4-5 4-5 1-4 3-13 4-11 4-27 1-8 3-25 4-18 4-10 1-1 3-15 4-4 4-13 1-2 3-7 4-17 4-21 1-1 3-25 4-24 4-19 1-8 3-18 4-32 4-37 1-4 3-34 4-37 4-46 1-17 3-25 4-36 4-32 1 2 3-27 4-34 4-30 1-22 3-19 4-47 4-28 1-4 3-41 4-51 4-48 1-23 3-11 4-33 4-22 1 3 3-34 4 3 4 1 1-14 3 6 4-9 4 0 1 7 3-11 4 28 4 27 1-6 3 26 4 22 4 29 1 14 3 34 4 67 4 47 1 14 3 42 4 76 4 75 1 0 3 14 4 46 4 51 1 16 3 28 4 27 4 44 1 11 3 22 4 22 4 29 1 9 3 22 4 29 4 28 1 9 3 11 4 19 4 17 1 2 3-4 4 12 4 13 1 7 3 8 4 13 4 19 1 5 3 10 4 19 4 17 1 5 3 9 4 13 4 18 1 4 3 7 4 13 4 10 1 8 3 14 4 5 4 8 1 4 3 6 4 8 4 3 1 0 3 8 4 8 4 8 1 3 3 8 4 9 4 8 1 4 3 4 4 6 4 11 1 5 3 11 4 0 4 3 1 0 3 6 4 2 4 4 1 0 3 7 4 4 4 9 1-1 3 5 4 4 4 4 1 3 3 4 4-4 4 2 1 0 3 5 9 10 12 14 12 12 12 17 12 10 12 11 12 8 12 8 0 6 -12-5 -12-1 -12-9 -12-9 -12-12 -12-12 -12-13 -9-15 -3-7 -1-3 -4-4 -4 2 -3-2 -1-5 -4-4 -4-3 -3-1 -1 3 -4-11 -4-6 -3-7 -1 1 -4-8 -4-6 -3-5 -1-1 -4-5 -4-7 -3-11 -1-3 -4-5 -4-10 -3-7 -1 2 -4-3 -4-7 -3-9 -1-5 -4-5 -4-4 -3-8 -1-2 -4-1 -4-7 -3-7 -1-3 -4-12 -4-12 -3-7 -1-8 -4-8 -4-8 -3-12 -1-4 -4-19 -4-18 -3-14 -1-2 -4-20 -4-16 -3-1 -1-4 -4-18 -4-12 -3-21 -1-5 -4-16 -4-20 -3 2 -1 2 -4-11 -4-13 -3-18 -1-10 -4-17 -4-31 -3-23 -1-11 -4-20 -4-18 -3-16 -1-6 -4-33 -4-35 -3-23 -1-22 -4-47 -4-49 -3-37 -1-6 -4-70 -4-85 -3-44 -1-7 -4-47 -4-68 -3-47 -1 2 -4-16 -4-26 -3-28 -1 1 -4-18 -4-19 -3-8 -1-22 -4 0 -4 11 -3 0 -1 4 -4 13 -4-4 -3 39 -1 15 -4 7 -4 20 -3 36 -1 18 -4 66 -4 41 -3 35 -1 0 -4 46 -4 30 -3 21 -1 16 -4 46 -4 38 -3 41 -1 4 -4 40 -4 37 -3 23 -1 5 -4 33 -4 35 -3 32 -1 14 -4 37 -4 33 -3 26 -1 13 -4 18 -4 16 -3 9 -1 4 -4 17 -4 11 -3 3 -1-1 -4 19 -4 10 -3 13 -1 1 -4 9 -4 27 -3 15 -1-3 -4 19 -4 12 -3 13 -1 11 -4 2 -4 13 -3 3 -1 1 -4 4 -4 5 -3 4 -1 8 -4 4 -4 16 -3 11 -1-2 -4 6 -4 7 -3 1 -1 0 -4 5 -4 5 -3 8 -1 5 -4 7 -4 13 -3 10 -1 1 -4 4 -4 7 -3 4 -1 1 -4 3 -4-2 -3 6 -1 7 -4 13 -4 5 -3 8 -1 8 -4 12 -4 2 -3 0 -1 4 -4 7 -4 4 -3-2 -1 1 -4 7 -7 11 -12 11 -12 14 -12 19 -12 17 -12 12 -12 7 -12 0z" fill="#0005ff" stroke="none"/><path d="M519 4374l12-3 12-4 12-4 12-3 12 2 12-2 12-6 12-2 12 2 12-1 12-1 12-5 12-6 12-1 12 2 12-1 12-1 12-3 12-3 12 1 12 3 12-1 12 0 12-4 12-6 12-7 12-7 12-4 12-2 12 0 12-1 12-3 12-6 12-8 12-5 12-2 12-8 12-7 12-8 12-6 12-5 12-9 12-11 12-10 12-4 12-6 12-5 12-10 12-6 12 4 12 1 12-9 12-10 12-18 12-22 12-16 12-17 7-13 4 1 1-6 3-3 4-6 4-3 1 3 3 0 4-11 4-9 1-2 3-5 4-12 4-9 1-9 3-6 4 1 4-8 1-6 3 2 4-14 4 0 1-4 3-6 4-5 4-7 1-10 3-6 4-15 4-5 1 1 3-6 4-5 4-4 1 4 3 6 4-10 4-7 1-13 3-8 4-2 4-9 1-7 3-3 4-5 4-5 1-4 3-13 4-11 4-27 1-8 3-25 4-18 4-10 1-1 3-15 4-4 4-13 1-2 3-7 4-17 4-21 1-1 3-25 4-24 4-19 1-8 3-18 4-32 4-37 1-4 3-34 4-37 4-46 1-17 3-25 4-36 4-32 1 2 3-27 4-34 4-30 1-22 3-19 4-47 4-28 1-4 3-41 4-51 4-48 1-23 3-11 4-33 4-22 1 3 3-34 4 3 4 1 1-14 3 6 4-9 4 0 1 7 3-11 4 28 4 27 1-6 3 26 4 22 4 29 1 14 3 34 4 67 4 47 1 14 3 42 4 76 4 75 1 0 3 14 4 46 4 51 1 16 3 28 4 27 4 44 1 11 3 22 4 22 4 29 1 9 3 22 4 29 4 28 1 9 3 11 4 19 4 17 1 2 3-4 4 12 4 13 1 7 3 8 4 13 4 19 1 5 3 10 4 19 4 17 1 5 3 9 4 13 4 18 1 4 3 7 4 13 4 10 1 8 3 14 4 5 4 8 1 4 3 6 4 8 4 3 1 0 3 8 4 8 4 8 1 3 3 8 4 9 4 8 1 4 3 4 4 6 4 11 1 5 3 11 4 0 4 3 1 0 3 6 4 2 4 4 1 0 3 7 4 4 4 9 1-1 3 5 4 4 4 4 1 3 3 4 4-4 4 2 1 0 3 5 9 10 12 14 12 12 12 17 12 10 12 11 12 8 12 8 12 8 12 5 12-1 12 4 12 1 12-1 12 0 12 4 12 1 12 1 12 1 12 7 12 16 12 10 12 3 12 6 12 6 12 4 12 6 12 1 12 6 12 5 12 8 12 5 12 0 12 0 12 2 12 1 12 5 12 3 12 3 12 2 12 3 12 1 12 6 12 3 12 2 12 5 12 3 12 7 8 0" stroke="#0005ff" stroke-width="20"/><path d="M1119 4198l12 0 12-7 12-12 12-17 12-19 12-14 12-11 7-11 4-7 1-1 3 2 4-4 4-7 1-4 3 0 4-2 4-12 1-8 3-8 4-5 4-13 1-7 3-6 4 2 4-3 1-1 3-4 4-7 4-4 1-1 3-10 4-13 4-7 1-5 3-8 4-5 4-5 1 0 3-1 4-7 4-6 1 2 3-11 4-16 4-4 1-8 3-4 4-5 4-4 1-1 3-3 4-13 4-2 1-11 3-13 4-12 4-19 1 3 3-15 4-27 4-9 1-1 3-13 4-10 4-19 1 1 3-3 4-11 4-17 1-4 3-9 4-16 4-18 1-13 3-26 4-33 4-37 1-14 3-32 4-35 4-33 1-5 3-23 4-37 4-40 1-4 3-41 4-38 4-46 1-16 3-21 4-30 4-46 1 0 3-35 4-41 4-66 1-18 3-36 4-20 4-7 1-15 3-39 4 4 4-13 1-4 3 0 4-11 4 0 1 22 3 8 4 19 4 18 1-1 3 28 4 26 4 16 1-2 3 47 4 68 4 47 1 7 3 44 4 85 4 70 1 6 3 37 4 49 4 47 1 22 3 23 4 35 4 33 1 6 3 16 4 18 4 20 1 11 3 23 4 31 4 17 1 10 3 18 4 13 4 11 1-2 3-2 4 20 4 16 1 5 3 21 4 12 4 18 1 4 3 1 4 16 4 20 1 2 3 14 4 18 4 19 1 4 3 12 4 8 4 8 1 8 3 7 4 12 4 12 1 3 3 7 4 7 4 1 1 2 3 8 4 4 4 5 1 5 3 9 4 7 4 3 1-2 3 7 4 10 4 5 1 3 3 11 4 7 4 5 1 1 3 5 4 6 4 8 1-1 3 7 4 6 4 11 1-3 3 1 4 3 4 4 1 5 3 2 4-2 4 4 1 3 3 7 9 15 12 13 12 12 12 12 12 9 12 9 12 1 12 5 0 11 -12-10 -12-3 -12-9 -12-8 -12-12 -12-12 -12-17 -9-10 -3-4 -1-1 -4-4 -4 2 -3 1 -1-1 -4 3 -4-3 -3-5 -1-2 -4-6 -4-12 -3-3 -1-5 -4-11 -4-4 -3-7 -1-7 -4 0 -4-6 -3-8 -1 0 -4-2 -4-10 -3-4 -1 0 -4-11 -4-5 -3-7 -1-12 -4-6 -4-3 -3-9 -1 3 -4-9 -4-5 -3 2 -1 3 -4-15 -4-11 -3-9 -1-1 -4-5 -4-17 -3-10 -1 5 -4-7 -4-15 -3-14 -1-12 -4-21 -4-19 -3-11 -1-10 -4-11 -4-17 -3-9 -1-2 -4-10 -4-8 -3-6 -1-5 -4-8 -4-15 -3-11 -1-6 -4-31 -4-27 -3-19 -1-15 -4-27 -4-27 -3-18 -1-9 -4-28 -4-34 -3-25 -1-24 -4-46 -4-51 -3-33 -1-8 -4-68 -4-70 -3-36 -1-22 -4-48 -4-54 -3-35 -1 6 -4-21 -4-18 -3-3 -1 5 -4-11 -4-41 -3-7 -1-14 -4-13 -4 6 -3-7 -1-7 -4 16 -4-2 -3 20 -1 8 -4 11 -4 21 -3 31 -1 24 -4 56 -4 52 -3 35 -1-6 -4 53 -4 29 -3 25 -1 23 -4 48 -4 41 -3 37 -1 1 -4 45 -4 34 -3 22 -1 9 -4 38 -4 44 -3 20 -1 1 -4 33 -4 26 -3 17 -1 5 -4 14 -4 17 -3 18 -1 6 -4 18 -4 9 -3 0 -1-5 -4 19 -4 13 -3 6 -1-2 -4 17 -4 25 -3 22 -1 4 -4 21 -4 16 -3 11 -1 1 -4 10 -4 10 -3 4 -1 0 -4 6 -4 2 -3 6 -1 5 -4 4 -4 12 -3 3 -1 1 -4 12 -4 9 -3 8 -1 0 -4 9 -4 8 -3 7 -1 1 -4 11 -4 8 -3 6 -1 0 -4 5 -4 9 -3 6 -1 1 -4 3 -4 4 -3 5 -1 3 -4 4 -4 8 -3 6 -1 0 -4 3 -4 3 -3 4 -1 0 -4 4 -4 7 -3 8 -1 7 -4 3 -7 8 -12 18 -12 11 -12 17 -12 13 -12 9 -12 11 -12 2z" fill="#0017ff" stroke="none"/><path d="M519 4376l12-2 12-6 12-1 12-1 12 0 12-2 12 0 12-4 12 3 12-2 12 0 12-5 12-7 12-4 12 4 12-1 12 1 12-4 12-7 12 2 12 0 12-1 12-4 12-6 12-5 12-5 12-7 12-3 12-4 12 3 12-1 12-4 12-5 12-4 12-7 12-2 12-7 12-2 12-8 12-1 12-10 12-10 12-9 12-8 12-9 12-4 12-12 12-8 12 0 12 1 12 0 12-7 12-12 12-17 12-19 12-14 12-11 7-11 4-7 1-1 3 2 4-4 4-7 1-4 3 0 4-2 4-12 1-8 3-8 4-5 4-13 1-7 3-6 4 2 4-3 1-1 3-4 4-7 4-4 1-1 3-10 4-13 4-7 1-5 3-8 4-5 4-5 1 0 3-1 4-7 4-6 1 2 3-11 4-16 4-4 1-8 3-4 4-5 4-4 1-1 3-3 4-13 4-2 1-11 3-13 4-12 4-19 1 3 3-15 4-27 4-9 1-1 3-13 4-10 4-19 1 1 3-3 4-11 4-17 1-4 3-9 4-16 4-18 1-13 3-26 4-33 4-37 1-14 3-32 4-35 4-33 1-5 3-23 4-37 4-40 1-4 3-41 4-38 4-46 1-16 3-21 4-30 4-46 1 0 3-35 4-41 4-66 1-18 3-36 4-20 4-7 1-15 3-39 4 4 4-13 1-4 3 0 4-11 4 0 1 22 3 8 4 19 4 18 1-1 3 28 4 26 4 16 1-2 3 47 4 68 4 47 1 7 3 44 4 85 4 70 1 6 3 37 4 49 4 47 1 22 3 23 4 35 4 33 1 6 3 16 4 18 4 20 1 11 3 23 4 31 4 17 1 10 3 18 4 13 4 11 1-2 3-2 4 20 4 16 1 5 3 21 4 12 4 18 1 4 3 1 4 16 4 20 1 2 3 14 4 18 4 19 1 4 3 12 4 8 4 8 1 8 3 7 4 12 4 12 1 3 3 7 4 7 4 1 1 2 3 8 4 4 4 5 1 5 3 9 4 7 4 3 1-2 3 7 4 10 4 5 1 3 3 11 4 7 4 5 1 1 3 5 4 6 4 8 1-1 3 7 4 6 4 11 1-3 3 1 4 3 4 4 1 5 3 2 4-2 4 4 1 3 3 7 9 15 12 13 12 12 12 12 12 9 12 9 12 1 12 5 12 5 12 3 12-1 12 6 12 3 12 2 12 2 12 5 12 3 12 3 12-4 12 8 12 12 12 7 12 1 12 3 12 7 12 7 12 4 12 4 12 7 12 7 12 5 12 6 12-2 12 0 12 1 12 3 12 2 12 6 12 3 12 7 12 1 12 4 12 3 12 5 12 2 12 2 12 2 12 5 8 0" stroke="#0017ff" stroke-width="20"/><path d="M1119 4211l12-2 12-11 12-9 12-13 12-17 12-11 12-18 7-8 4-3 1-7 3-8 4-7 4-4 1 0 3-4 4-3 4-3 1 0 3-6 4-8 4-4 1-3 3-5 4-4 4-3 1-1 3-6 4-9 4-5 1 0 3-6 4-8 4-11 1-1 3-7 4-8 4-9 1 0 3-8 4-9 4-12 1-1 3-3 4-12 4-4 1-5 3-6 4-2 4-6 1 0 3-4 4-10 4-10 1-1 3-11 4-16 4-21 1-4 3-22 4-25 4-17 1 2 3-6 4-13 4-19 1 5 3 0 4-9 4-18 1-6 3-18 4-17 4-14 1-5 3-17 4-26 4-33 1-1 3-20 4-44 4-38 1-9 3-22 4-34 4-45 1-1 3-37 4-41 4-48 1-23 3-25 4-29 4-53 1 6 3-35 4-52 4-56 1-24 3-31 4-21 4-11 1-8 3-20 4 2 4-16 1 7 3 7 4-6 4 13 1 14 3 7 4 41 4 11 1-5 3 3 4 18 4 21 1-6 3 35 4 54 4 48 1 22 3 36 4 70 4 68 1 8 3 33 4 51 4 46 1 24 3 25 4 34 4 28 1 9 3 18 4 27 4 27 1 15 3 19 4 27 4 31 1 6 3 11 4 15 4 8 1 5 3 6 4 8 4 10 1 2 3 9 4 17 4 11 1 10 3 11 4 19 4 21 1 12 3 14 4 15 4 7 1-5 3 10 4 17 4 5 1 1 3 9 4 11 4 15 1-3 3-2 4 5 4 9 1-3 3 9 4 3 4 6 1 12 3 7 4 5 4 11 1 0 3 4 4 10 4 2 1 0 3 8 4 6 4 0 1 7 3 7 4 4 4 11 1 5 3 3 4 12 4 6 1 2 3 5 4 3 4-3 1 1 3-1 4-2 4 4 1 1 3 4 9 10 12 17 12 12 12 12 12 8 12 9 12 3 12 10 0-4 -12-5 -12-5 -12-8 -12-10 -12-13 -12-5 -12-14 -9-9 -3-2 -1 1 -4-2 -4 2 -3-7 -1 2 -4-5 -4-5 -3-3 -1-1 -4-6 -4-2 -3-11 -1-1 -4-5 -4-4 -3-5 -1-4 -4-7 -4-3 -3-4 -1-3 -4-6 -4-4 -3-6 -1 2 -4-3 -4-7 -3-7 -1-2 -4-12 -4-6 -3-9 -1-5 -4-4 -4-5 -3-8 -1 3 -4-5 -4-10 -3-9 -1-3 -4-4 -4-9 -3-9 -1-6 -4-10 -4-10 -3-13 -1-12 -4-22 -4-20 -3-3 -1-4 -4-16 -4-16 -3-7 -1 5 -4-14 -4-20 -3-11 -1-4 -4-3 -4-14 -3-20 -1-4 -4-19 -4-23 -3-22 -1-17 -4-32 -4-18 -3-19 -1-5 -4-21 -4-28 -3-21 -1-17 -4-56 -4-51 -3-33 -1-21 -4-75 -4-70 -3-39 -1-1 -4-52 -4-61 -3-33 -1 16 -4-45 -4-40 -3-13 -1 8 -4-25 -4-33 -3-12 -1 12 -4 9 -4-1 -3-4 -1 5 -4 11 -4 4 -3 25 -1 23 -4 19 -4 27 -3 26 -1 13 -4 60 -4 34 -3 32 -1 8 -4 32 -4 47 -3 31 -1 6 -4 23 -4 22 -3 25 -1 14 -4 35 -4 42 -3 25 -1 22 -4 43 -4 30 -3 24 -1 3 -4 33 -4 27 -3 19 -1 7 -4 27 -4 17 -3 19 -1-3 -4 22 -4 16 -3 9 -1-4 -4 17 -4 10 -3 13 -1 1 -4 17 -4 16 -3 19 -1-1 -4 13 -4 16 -3 12 -1-3 -4 10 -4 11 -3 0 -1 7 -4 0 -4-1 -3 10 -1 4 -4 4 -4 14 -3 3 -1 5 -4 10 -4 3 -3 1 -1-3 -4 5 -4 15 -3 4 -1 4 -4 10 -4 13 -3 7 -1 4 -4-2 -4 12 -3 6 -1 7 -4 0 -4 4 -3 5 -1 8 -4 5 -4 8 -3 0 -1 4 -4 2 -4 3 -3 0 -1-4 -4 5 -4 8 -3 6 -1 8 -4 1 -7 11 -12 16 -12 10 -12 20 -12 13 -12 11 -12 9 -12 0z" fill="#002bff" stroke="none"/><path d="M519 4382l12 0 12-4 12-2 12-1 12 0 12-4 12-4 12-4 12-1 12 0 12 1 12-3 12-6 12-2 12 0 12 1 12-1 12-7 12-5 12 3 12 4 12 1 12-1 12-1 12-4 12-8 12-5 12-9 12-2 12-3 12-5 12-1 12-3 12-6 12-2 12-3 12-4 12-2 12-5 12-5 12-8 12-12 12-7 12-8 12-8 12-7 12-7 12-7 12-5 12 1 12-2 12-11 12-9 12-13 12-17 12-11 12-18 7-8 4-3 1-7 3-8 4-7 4-4 1 0 3-4 4-3 4-3 1 0 3-6 4-8 4-4 1-3 3-5 4-4 4-3 1-1 3-6 4-9 4-5 1 0 3-6 4-8 4-11 1-1 3-7 4-8 4-9 1 0 3-8 4-9 4-12 1-1 3-3 4-12 4-4 1-5 3-6 4-2 4-6 1 0 3-4 4-10 4-10 1-1 3-11 4-16 4-21 1-4 3-22 4-25 4-17 1 2 3-6 4-13 4-19 1 5 3 0 4-9 4-18 1-6 3-18 4-17 4-14 1-5 3-17 4-26 4-33 1-1 3-20 4-44 4-38 1-9 3-22 4-34 4-45 1-1 3-37 4-41 4-48 1-23 3-25 4-29 4-53 1 6 3-35 4-52 4-56 1-24 3-31 4-21 4-11 1-8 3-20 4 2 4-16 1 7 3 7 4-6 4 13 1 14 3 7 4 41 4 11 1-5 3 3 4 18 4 21 1-6 3 35 4 54 4 48 1 22 3 36 4 70 4 68 1 8 3 33 4 51 4 46 1 24 3 25 4 34 4 28 1 9 3 18 4 27 4 27 1 15 3 19 4 27 4 31 1 6 3 11 4 15 4 8 1 5 3 6 4 8 4 10 1 2 3 9 4 17 4 11 1 10 3 11 4 19 4 21 1 12 3 14 4 15 4 7 1-5 3 10 4 17 4 5 1 1 3 9 4 11 4 15 1-3 3-2 4 5 4 9 1-3 3 9 4 3 4 6 1 12 3 7 4 5 4 11 1 0 3 4 4 10 4 2 1 0 3 8 4 6 4 0 1 7 3 7 4 4 4 11 1 5 3 3 4 12 4 6 1 2 3 5 4 3 4-3 1 1 3-1 4-2 4 4 1 1 3 4 9 10 12 17 12 12 12 12 12 8 12 9 12 3 12 10 12 6 12 3 12 3 12 1 12-1 12 4 12 1 12 4 12 3 12 2 12 2 12 9 12 13 12 6 12 3 12 5 12 1 12 7 12 5 12 1 12 6 12 4 12 6 12 8 12-1 12-2 12 1 12 4 12 5 12 2 12 4 12 3 12 1 12 2 12 2 12 0 12 3 12 3 12 5 12 6 8 3" stroke="#002bff" stroke-width="20"/><path d="M1119 4223l12 0 12-9 12-11 12-13 12-20 12-10 12-16 7-11 4-1 1-8 3-6 4-8 4-5 1 4 3 0 4-3 4-2 1-4 3 0 4-8 4-5 1-8 3-5 4-4 4 0 1-7 3-6 4-12 4 2 1-4 3-7 4-13 4-10 1-4 3-4 4-15 4-5 1 3 3-1 4-3 4-10 1-5 3-3 4-14 4-4 1-4 3-10 4 1 4 0 1-7 3 0 4-11 4-10 1 3 3-12 4-16 4-13 1 1 3-19 4-16 4-17 1-1 3-13 4-10 4-17 1 4 3-9 4-16 4-22 1 3 3-19 4-17 4-27 1-7 3-19 4-27 4-33 1-3 3-24 4-30 4-43 1-22 3-25 4-42 4-35 1-14 3-25 4-22 4-23 1-6 3-31 4-47 4-32 1-8 3-32 4-34 4-60 1-13 3-26 4-27 4-19 1-23 3-25 4-4 4-11 1-5 3 4 4 1 4-9 1-12 3 12 4 33 4 25 1-8 3 13 4 40 4 45 1-16 3 33 4 61 4 52 1 1 3 39 4 70 4 75 1 21 3 33 4 51 4 56 1 17 3 21 4 28 4 21 1 5 3 19 4 18 4 32 1 17 3 22 4 23 4 19 1 4 3 20 4 14 4 3 1 4 3 11 4 20 4 14 1-5 3 7 4 16 4 16 1 4 3 3 4 20 4 22 1 12 3 13 4 10 4 10 1 6 3 9 4 9 4 4 1 3 3 9 4 10 4 5 1-3 3 8 4 5 4 4 1 5 3 9 4 6 4 12 1 2 3 7 4 7 4 3 1-2 3 6 4 4 4 6 1 3 3 4 4 3 4 7 1 4 3 5 4 4 4 5 1 1 3 11 4 2 4 6 1 1 3 3 4 5 4 5 1-2 3 7 4-2 4 2 1-1 3 2 9 9 12 14 12 5 12 13 12 10 12 8 12 5 12 5 0 13 -12-4 -12-4 -12-8 -12-5 -12-14 -12-5 -12-10 -9-12 -3-2 -1-5 -4-5 -4 4 -3-3 -1-4 -4-1 -4-3 -3-4 -1-5 -4-8 -4-10 -3-4 -1-1 -4-9 -4-5 -3-2 -1-2 -4-1 -4-4 -3-8 -1 3 -4-1 -4-7 -3-7 -1 3 -4-9 -4-7 -3-9 -1-6 -4-5 -4-3 -3-11 -1-3 -4-6 -4-4 -3-1 -1 2 -4-17 -4-9 -3-7 -1-7 -4-13 -4-13 -3-12 -1 1 -4-17 -4-11 -3-11 -1-5 -4-15 -4-23 -3-9 -1-3 -4-13 -4-14 -3-10 -1-5 -4-13 -4-10 -3-1 -1-3 -4-7 -4-15 -3-17 -1 1 -4-23 -4-17 -3-23 -1-17 -4-25 -4-18 -3-22 -1-7 -4-32 -4-25 -3-12 -1-16 -4-47 -4-44 -3-32 -1-19 -4-65 -4-70 -3-33 -1-9 -4-46 -4-58 -3-41 -1-5 -4-41 -4-39 -3-2 -1-3 -4-23 -4-17 -3-1 -1-6 -4 6 -4-10 -3 9 -1 6 -4 7 -4 10 -3 26 -1 10 -4 13 -4 20 -3 29 -1 15 -4 45 -4 41 -3 27 -1 10 -4 37 -4 43 -3 27 -1 10 -4 46 -4 29 -3 30 -1 8 -4 32 -4 48 -3 30 -1-1 -4 42 -4 27 -3 26 -1 11 -4 24 -4 26 -3 22 -1 15 -4 30 -4 14 -3 7 -1 2 -4 15 -4 14 -3 2 -1-6 -4 23 -4 14 -3 10 -1-1 -4 17 -4 20 -3 11 -1 1 -4 23 -4 6 -3 16 -1 0 -4 9 -4 12 -3 1 -1-1 -4 9 -4 0 -3 8 -1-2 -4 11 -4 12 -3 5 -1 3 -4 9 -4 5 -3 5 -1-4 -4 3 -4 6 -3 3 -1 2 -4 7 -4 10 -3 6 -1 1 -4 11 -4 7 -3 1 -1 2 -4 5 -4-1 -3 7 -1-1 -4 5 -4 9 -3 6 -1 2 -4 12 -4 4 -3 8 -1 1 -4 4 -4 6 -3 5 -1 0 -4 2 -7 2 -12 16 -12 14 -12 17 -12 9 -12 12 -12 9 -12-3z" fill="#003eff" stroke="none"/><path d="M519 4380l12 3 12-4 12-2 12-3 12 1 12-2 12-3 12-4 12-1 12 0 12-1 12-3 12-2 12-1 12-1 12 2 12-1 12-4 12-3 12-3 12 0 12 1 12-1 12-5 12-7 12-7 12-8 12-1 12 2 12-3 12-1 12-2 12-5 12-3 12-8 12-8 12-3 12-2 12-5 12-5 12-8 12-8 12-10 12-8 12-10 12-1 12-7 12-3 12-4 12 5 12 0 12-9 12-11 12-13 12-20 12-10 12-16 7-11 4-1 1-8 3-6 4-8 4-5 1 4 3 0 4-3 4-2 1-4 3 0 4-8 4-5 1-8 3-5 4-4 4 0 1-7 3-6 4-12 4 2 1-4 3-7 4-13 4-10 1-4 3-4 4-15 4-5 1 3 3-1 4-3 4-10 1-5 3-3 4-14 4-4 1-4 3-10 4 1 4 0 1-7 3 0 4-11 4-10 1 3 3-12 4-16 4-13 1 1 3-19 4-16 4-17 1-1 3-13 4-10 4-17 1 4 3-9 4-16 4-22 1 3 3-19 4-17 4-27 1-7 3-19 4-27 4-33 1-3 3-24 4-30 4-43 1-22 3-25 4-42 4-35 1-14 3-25 4-22 4-23 1-6 3-31 4-47 4-32 1-8 3-32 4-34 4-60 1-13 3-26 4-27 4-19 1-23 3-25 4-4 4-11 1-5 3 4 4 1 4-9 1-12 3 12 4 33 4 25 1-8 3 13 4 40 4 45 1-16 3 33 4 61 4 52 1 1 3 39 4 70 4 75 1 21 3 33 4 51 4 56 1 17 3 21 4 28 4 21 1 5 3 19 4 18 4 32 1 17 3 22 4 23 4 19 1 4 3 20 4 14 4 3 1 4 3 11 4 20 4 14 1-5 3 7 4 16 4 16 1 4 3 3 4 20 4 22 1 12 3 13 4 10 4 10 1 6 3 9 4 9 4 4 1 3 3 9 4 10 4 5 1-3 3 8 4 5 4 4 1 5 3 9 4 6 4 12 1 2 3 7 4 7 4 3 1-2 3 6 4 4 4 6 1 3 3 4 4 3 4 7 1 4 3 5 4 4 4 5 1 1 3 11 4 2 4 6 1 1 3 3 4 5 4 5 1-2 3 7 4-2 4 2 1-1 3 2 9 9 12 14 12 5 12 13 12 10 12 8 12 5 12 5 12 9 12 5 12 1 12 3 12 4 12 1 12 4 12 4 12 2 12 1 12-2 12 6 12 13 12 9 12 2 12 6 12 6 12 2 12 7 12 7 12 6 12 5 12 6 12 5 12 3 12-3 12-2 12 1 12 3 12 4 12 2 12 5 12 5 12 2 12 4 12 1 12 1 12 5 12-2 12 4 8 2" stroke="#003eff" stroke-width="20"/><path d="M1119 4222l12 3 12-9 12-12 12-9 12-17 12-14 12-16 7-2 4-2 1 0 3-5 4-6 4-4 1-1 3-8 4-4 4-12 1-2 3-6 4-9 4-5 1 1 3-7 4 1 4-5 1-2 3-1 4-7 4-11 1-1 3-6 4-10 4-7 1-2 3-3 4-6 4-3 1 4 3-5 4-5 4-9 1-3 3-5 4-12 4-11 1 2 3-8 4 0 4-9 1 1 3-1 4-12 4-9 1 0 3-16 4-6 4-23 1-1 3-11 4-20 4-17 1 1 3-10 4-14 4-23 1 6 3-2 4-14 4-15 1-2 3-7 4-14 4-30 1-15 3-22 4-26 4-24 1-11 3-26 4-27 4-42 1 1 3-30 4-48 4-32 1-8 3-30 4-29 4-46 1-10 3-27 4-43 4-37 1-10 3-27 4-41 4-45 1-15 3-29 4-20 4-13 1-10 3-26 4-10 4-7 1-6 3-9 4 10 4-6 1 6 3 1 4 17 4 23 1 3 3 2 4 39 4 41 1 5 3 41 4 58 4 46 1 9 3 33 4 70 4 65 1 19 3 32 4 44 4 47 1 16 3 12 4 25 4 32 1 7 3 22 4 18 4 25 1 17 3 23 4 17 4 23 1-1 3 17 4 15 4 7 1 3 3 1 4 10 4 13 1 5 3 10 4 14 4 13 1 3 3 9 4 23 4 15 1 5 3 11 4 11 4 17 1-1 3 12 4 13 4 13 1 7 3 7 4 9 4 17 1-2 3 1 4 4 4 6 1 3 3 11 4 3 4 5 1 6 3 9 4 7 4 9 1-3 3 7 4 7 4 1 1-3 3 8 4 4 4 1 1 2 3 2 4 5 4 9 1 1 3 4 4 10 4 8 1 5 3 4 4 3 4 1 1 4 3 3 4-4 4 5 1 5 3 2 9 12 12 10 12 5 12 14 12 5 12 8 12 4 12 4 0 11 -12-3 -12-4 -12-12 -12-12 -12-12 -12-7 -12-13 -9-13 -3 3 -1-1 -4 0 -4 0 -3-3 -1-4 -4 2 -4-6 -3-2 -1-4 -4-9 -4-5 -3 0 -1-1 -4-5 -4-2 -3-1 -1-2 -4-4 -4-9 -3-10 -1-4 -4-7 -4-2 -3-1 -1-1 -4-8 -4-8 -3-6 -1-5 -4-9 -4-4 -3-3 -1 0 -4-2 -4-5 -3-2 -1 1 -4-16 -4-14 -3-3 -1-3 -4-7 -4-15 -3-7 -1-1 -4-12 -4-17 -3-14 -1-6 -4-16 -4-21 -3-4 -1-3 -4-13 -4-13 -3-13 -1-2 -4-13 -4-13 -3-9 -1 1 -4-6 -4-14 -3-15 -1-4 -4-15 -4-11 -3-22 -1-18 -4-24 -4-17 -3-24 -1-10 -4-32 -4-30 -3-30 -1-8 -4-44 -4-44 -3-32 -1-13 -4-52 -4-52 -3-35 -1-11 -4-36 -4-55 -3-37 -1-15 -4-39 -4-39 -3-20 -1 0 -4-20 -4-31 -3-1 -1 5 -4-13 -4 1 -3 1 -1-11 -4 14 -4 6 -3 10 -1 13 -4 17 -4 26 -3 38 -1 15 -4 57 -4 49 -3 44 -1-1 -4 31 -4 35 -3 19 -1 14 -4 36 -4 29 -3 41 -1-3 -4 38 -4 41 -3 19 -1 7 -4 33 -4 31 -3 30 -1 5 -4 32 -4 28 -3 22 -1 10 -4 11 -4 15 -3 15 -1 0 -4 19 -4 10 -3 6 -1 8 -4 22 -4 10 -3 8 -1 2 -4 15 -4 20 -3 14 -1 3 -4 20 -4 14 -3 2 -1 5 -4 8 -4 8 -3 0 -1 3 -4 6 -4 10 -3 6 -1 0 -4 6 -4 14 -3 0 -1 6 -4 7 -4 10 -3 4 -1-3 -4 4 -4 7 -3 2 -1 5 -4 3 -4 11 -3 4 -1 0 -4 3 -4 3 -3 3 -1-5 -4 4 -4 5 -3 6 -1 3 -4 11 -4 7 -3 8 -1 0 -4 6 -4 5 -3 5 -1-1 -4 1 -4 5 -3 7 -1 2 -4 5 -7 7 -12 13 -12 14 -12 17 -12 11 -12 7 -12 6 -12 4z" fill="#0053ff" stroke="none"/><path d="M519 4386l12-1 12-4 12 0 12 0 12-1 12-1 12-1 12-4 12-2 12-2 12-3 12-4 12-6 12-5 12-1 12 1 12 0 12-3 12 1 12 2 12 2 12 2 12-2 12-3 12-6 12-9 12-10 12-5 12-2 12 0 12-2 12-3 12-5 12-3 12-1 12-4 12-7 12-3 12-5 12-3 12-6 12-10 12-6 12-10 12-5 12-4 12-11 12-7 12-2 12 0 12 3 12-9 12-12 12-9 12-17 12-14 12-16 7-2 4-2 1 0 3-5 4-6 4-4 1-1 3-8 4-4 4-12 1-2 3-6 4-9 4-5 1 1 3-7 4 1 4-5 1-2 3-1 4-7 4-11 1-1 3-6 4-10 4-7 1-2 3-3 4-6 4-3 1 4 3-5 4-5 4-9 1-3 3-5 4-12 4-11 1 2 3-8 4 0 4-9 1 1 3-1 4-12 4-9 1 0 3-16 4-6 4-23 1-1 3-11 4-20 4-17 1 1 3-10 4-14 4-23 1 6 3-2 4-14 4-15 1-2 3-7 4-14 4-30 1-15 3-22 4-26 4-24 1-11 3-26 4-27 4-42 1 1 3-30 4-48 4-32 1-8 3-30 4-29 4-46 1-10 3-27 4-43 4-37 1-10 3-27 4-41 4-45 1-15 3-29 4-20 4-13 1-10 3-26 4-10 4-7 1-6 3-9 4 10 4-6 1 6 3 1 4 17 4 23 1 3 3 2 4 39 4 41 1 5 3 41 4 58 4 46 1 9 3 33 4 70 4 65 1 19 3 32 4 44 4 47 1 16 3 12 4 25 4 32 1 7 3 22 4 18 4 25 1 17 3 23 4 17 4 23 1-1 3 17 4 15 4 7 1 3 3 1 4 10 4 13 1 5 3 10 4 14 4 13 1 3 3 9 4 23 4 15 1 5 3 11 4 11 4 17 1-1 3 12 4 13 4 13 1 7 3 7 4 9 4 17 1-2 3 1 4 4 4 6 1 3 3 11 4 3 4 5 1 6 3 9 4 7 4 9 1-3 3 7 4 7 4 1 1-3 3 8 4 4 4 1 1 2 3 2 4 5 4 9 1 1 3 4 4 10 4 8 1 5 3 4 4 3 4 1 1 4 3 3 4-4 4 5 1 5 3 2 9 12 12 10 12 5 12 14 12 5 12 8 12 4 12 4 12 6 12 3 12 0 12 1 12 0 12 6 12 3 12 5 12 8 12 0 12 3 12 6 12 10 12 5 12 3 12 3 12 6 12 6 12 4 12 5 12 9 12 6 12 6 12 4 12-1 12 1 12-1 12-3 12 1 12 0 12 5 12 1 12 4 12 1 12 4 12 5 12 5 12 3 12 5 12 4 8 3" stroke="#0053ff" stroke-width="20"/><path d="M1119 4235l12-4 12-6 12-7 12-11 12-17 12-14 12-13 7-7 4-5 1-2 3-7 4-5 4-1 1 1 3-5 4-5 4-6 1 0 3-8 4-7 4-11 1-3 3-6 4-5 4-4 1 5 3-3 4-3 4-3 1 0 3-4 4-11 4-3 1-5 3-2 4-7 4-4 1 3 3-4 4-10 4-7 1-6 3 0 4-14 4-6 1 0 3-6 4-10 4-6 1-3 3 0 4-8 4-8 1-5 3-2 4-14 4-20 1-3 3-14 4-20 4-15 1-2 3-8 4-10 4-22 1-8 3-6 4-10 4-19 1 0 3-15 4-15 4-11 1-10 3-22 4-28 4-32 1-5 3-30 4-31 4-33 1-7 3-19 4-41 4-38 1 3 3-41 4-29 4-36 1-14 3-19 4-35 4-31 1 1 3-44 4-49 4-57 1-15 3-38 4-26 4-17 1-13 3-10 4-6 4-14 1 11 3-1 4-1 4 13 1-5 3 1 4 31 4 20 1 0 3 20 4 39 4 39 1 15 3 37 4 55 4 36 1 11 3 35 4 52 4 52 1 13 3 32 4 44 4 44 1 8 3 30 4 30 4 32 1 10 3 24 4 17 4 24 1 18 3 22 4 11 4 15 1 4 3 15 4 14 4 6 1-1 3 9 4 13 4 13 1 2 3 13 4 13 4 13 1 3 3 4 4 21 4 16 1 6 3 14 4 17 4 12 1 1 3 7 4 15 4 7 1 3 3 3 4 14 4 16 1-1 3 2 4 5 4 2 1 0 3 3 4 4 4 9 1 5 3 6 4 8 4 8 1 1 3 1 4 2 4 7 1 4 3 10 4 9 4 4 1 2 3 1 4 2 4 5 1 1 3 0 4 5 4 9 1 4 3 2 4 6 4-2 1 4 3 3 4 0 4 0 1 1 3-3 9 13 12 13 12 7 12 12 12 12 12 12 12 4 12 3 0-3 -12-5 -12-3 -12-8 -12-4 -12-9 -12-9 -12-9 -9-7 -3-4 -1 1 -4-3 -4 0 -3-3 -1 0 -4-3 -4-2 -3-4 -1-6 -4-5 -4-5 -3-10 -1 1 -4-4 -4-8 -3 0 -1-2 -4-3 -4 0 -3-6 -1 3 -4 2 -4-5 -3-1 -1-2 -4-3 -4-11 -3-12 -1-5 -4-7 -4-7 -3-4 -1-5 -4-1 -4-6 -3-4 -1-2 -4-14 -4-9 -3-9 -1-7 -4-4 -4-12 -3-10 -1 1 -4-16 -4-10 -3-10 -1-8 -4-20 -4-16 -3-6 -1 1 -4-14 -4-11 -3-7 -1 1 -4-10 -4-18 -3-2 -1-2 -4-8 -4-15 -3-9 -1-8 -4-26 -4-32 -3-22 -1-16 -4-24 -4-27 -3-10 -1 3 -4-24 -4-27 -3-18 -1-16 -4-41 -4-61 -3-33 -1-12 -4-59 -4-64 -3-41 -1-13 -4-35 -4-58 -3-42 -1-10 -4-27 -4-29 -3-13 -1 5 -4-14 -4-5 -3 3 -1-13 -4 0 -4-1 -3 5 -1-3 -4 8 -4 14 -3 31 -1 11 -4 35 -4 19 -3 33 -1 4 -4 43 -4 46 -3 35 -1-7 -4 41 -4 37 -3 28 -1 12 -4 30 -4 22 -3 20 -1 11 -4 35 -4 31 -3 20 -1 8 -4 38 -4 40 -3 11 -1 0 -4 31 -4 29 -3 22 -1 9 -4 13 -4 21 -3 18 -1 4 -4 20 -4 7 -3 6 -1 4 -4 13 -4 6 -3 13 -1-9 -4 13 -4 19 -3 9 -1 5 -4 16 -4 2 -3 19 -1 4 -4 1 -4 18 -3 1 -1 8 -4 9 -4-2 -3 4 -1 10 -4 2 -4 10 -3 5 -1 3 -4 8 -4 4 -3-4 -1 2 -4 11 -4 3 -3 3 -1 3 -4 10 -4 13 -3 2 -1-3 -4 5 -4 7 -3 4 -1 4 -4 4 -4 2 -3 6 -1 1 -4 2 -4 7 -3 4 -1 0 -4 5 -4 4 -3 4 -1 5 -4 6 -4 4 -3 5 -1 4 -4 4 -7 9 -12 13 -12 10 -12 17 -12 7 -12 9 -12 6 -12 1z" fill="#0068ff" stroke="none"/><path d="M519 4391l12-2 12-4 12-2 12-3 12-1 12-3 12-4 12-1 12 0 12-1 12 0 12-4 12-2 12 0 12 0 12 1 12 1 12-2 12-6 12-2 12-1 12-1 12-5 12-4 12-8 12-4 12-3 12-2 12-1 12 2 12 1 12-3 12-5 12-4 12-5 12-6 12-5 12-5 12-3 12-3 12-7 12-4 12-6 12-5 12-7 12-7 12-7 12-7 12-6 12 0 12-4 12-6 12-7 12-11 12-17 12-14 12-13 7-7 4-5 1-2 3-7 4-5 4-1 1 1 3-5 4-5 4-6 1 0 3-8 4-7 4-11 1-3 3-6 4-5 4-4 1 5 3-3 4-3 4-3 1 0 3-4 4-11 4-3 1-5 3-2 4-7 4-4 1 3 3-4 4-10 4-7 1-6 3 0 4-14 4-6 1 0 3-6 4-10 4-6 1-3 3 0 4-8 4-8 1-5 3-2 4-14 4-20 1-3 3-14 4-20 4-15 1-2 3-8 4-10 4-22 1-8 3-6 4-10 4-19 1 0 3-15 4-15 4-11 1-10 3-22 4-28 4-32 1-5 3-30 4-31 4-33 1-7 3-19 4-41 4-38 1 3 3-41 4-29 4-36 1-14 3-19 4-35 4-31 1 1 3-44 4-49 4-57 1-15 3-38 4-26 4-17 1-13 3-10 4-6 4-14 1 11 3-1 4-1 4 13 1-5 3 1 4 31 4 20 1 0 3 20 4 39 4 39 1 15 3 37 4 55 4 36 1 11 3 35 4 52 4 52 1 13 3 32 4 44 4 44 1 8 3 30 4 30 4 32 1 10 3 24 4 17 4 24 1 18 3 22 4 11 4 15 1 4 3 15 4 14 4 6 1-1 3 9 4 13 4 13 1 2 3 13 4 13 4 13 1 3 3 4 4 21 4 16 1 6 3 14 4 17 4 12 1 1 3 7 4 15 4 7 1 3 3 3 4 14 4 16 1-1 3 2 4 5 4 2 1 0 3 3 4 4 4 9 1 5 3 6 4 8 4 8 1 1 3 1 4 2 4 7 1 4 3 10 4 9 4 4 1 2 3 1 4 2 4 5 1 1 3 0 4 5 4 9 1 4 3 2 4 6 4-2 1 4 3 3 4 0 4 0 1 1 3-3 9 13 12 13 12 7 12 12 12 12 12 12 12 4 12 3 12 3 12 4 12 1 12 2 12 0 12 7 12 3 12 6 12 5 12-1 12 1 12 6 12 9 12 9 12 2 12 4 12 5 12 4 12 8 12 4 12 3 12 5 12 5 12 4 12 0 12-1 12 0 12 3 12 2 12 1 12 4 12 0 12 4 12 3 12 3 12 3 12 1 12 6 12 2 12 2 8 0" stroke="#0068ff" stroke-width="20"/><path d="M1119 4244l12-1 12-6 12-9 12-7 12-17 12-10 12-13 7-9 4-4 1-4 3-5 4-4 4-6 1-5 3-4 4-4 4-5 1 0 3-4 4-7 4-2 1-1 3-6 4-2 4-4 1-4 3-4 4-7 4-5 1 3 3-2 4-13 4-10 1-3 3-3 4-3 4-11 1-2 3 4 4-4 4-8 1-3 3-5 4-10 4-2 1-10 3-4 4 2 4-9 1-8 3-1 4-18 4-1 1-4 3-19 4-2 4-16 1-5 3-9 4-19 4-13 1 9 3-13 4-6 4-13 1-4 3-6 4-7 4-20 1-4 3-18 4-21 4-13 1-9 3-22 4-29 4-31 1 0 3-11 4-40 4-38 1-8 3-20 4-31 4-35 1-11 3-20 4-22 4-30 1-12 3-28 4-37 4-41 1 7 3-35 4-46 4-43 1-4 3-33 4-19 4-35 1-11 3-31 4-14 4-8 1 3 3-5 4 1 4 0 1 13 3-3 4 5 4 14 1-5 3 13 4 29 4 27 1 10 3 42 4 58 4 35 1 13 3 41 4 64 4 59 1 12 3 33 4 61 4 41 1 16 3 18 4 27 4 24 1-3 3 10 4 27 4 24 1 16 3 22 4 32 4 26 1 8 3 9 4 15 4 8 1 2 3 2 4 18 4 10 1-1 3 7 4 11 4 14 1-1 3 6 4 16 4 20 1 8 3 10 4 10 4 16 1-1 3 10 4 12 4 4 1 7 3 9 4 9 4 14 1 2 3 4 4 6 4 1 1 5 3 4 4 7 4 7 1 5 3 12 4 11 4 3 1 2 3 1 4 5 4-2 1-3 3 6 4 0 4 3 1 2 3 0 4 8 4 4 1-1 3 10 4 5 4 5 1 6 3 4 4 2 4 3 1 0 3 3 4 0 4 3 1-1 3 4 9 7 12 9 12 9 12 9 12 4 12 8 12 3 12 5 0 16 -12-5 -12-2 -12-9 -12-6 -12-11 -12-6 -12-7 -9-10 -3-3 -1 0 -4-5 -4 0 -3-4 -1-8 -4-1 -4-5 -3-3 -1-2 -4-5 -4-8 -3-2 -1-1 -4-2 -4-7 -3 0 -1-1 -4-4 -4-2 -3-5 -1-4 -4 0 -4-9 -3-1 -1-3 -4-7 -4-4 -3-7 -1-7 -4-5 -4-7 -3-3 -1-5 -4-4 -4-8 -3 0 -1 0 -4-10 -4-2 -3-3 -1-7 -4-3 -4-12 -3-9 -1-1 -4-16 -4-17 -3-6 -1-7 -4-16 -4-14 -3-1 -1-5 -4-12 -4-17 -3-10 -1-1 -4-12 -4-20 -3-6 -1 4 -4-7 -4-14 -3-12 -1-1 -4-17 -4-21 -3-19 -1-11 -4-31 -4-25 -3-21 -1-12 -4-27 -4-34 -3-17 -1-6 -4-41 -4-45 -3-34 -1-9 -4-53 -4-70 -3-35 -1-8 -4-33 -4-48 -3-40 -1-10 -4-26 -4-35 -3-15 -1-18 -4-12 -4-16 -3-5 -1-7 -4-4 -4 7 -3 1 -1 4 -4 5 -4 17 -3 25 -1 13 -4 14 -4 29 -3 15 -1 19 -4 47 -4 40 -3 39 -1 11 -4 43 -4 38 -3 21 -1 6 -4 37 -4 26 -3 24 -1-1 -4 32 -4 43 -3 27 -1 8 -4 31 -4 26 -3 22 -1 3 -4 26 -4 25 -3 22 -1-2 -4 25 -4 14 -3 14 -1-6 -4 19 -4 12 -3 15 -1-5 -4 24 -4 12 -3 7 -1-7 -4 6 -4 26 -3 13 -1-2 -4 12 -4 16 -3 16 -1 5 -4-1 -4 8 -3 7 -1 7 -4 6 -4 4 -3 4 -1 7 -4 9 -4 3 -3 4 -1 1 -4 6 -4 5 -3 2 -1 4 -4 11 -4 10 -3 5 -1 4 -4 8 -4 5 -3 4 -1 0 -4 2 -4 6 -3 8 -1-4 -4 4 -4 0 -3 5 -1 0 -4 3 -4 2 -3 6 -1 3 -4 2 -4 2 -3 3 -1 0 -4 6 -4 9 -3 5 -1 7 -4 5 -7 9 -12 14 -12 10 -12 13 -12 11 -12 7 -12 6 -12 0z" fill="#007dff" stroke="none"/><path d="M519 4393l12-5 12 0 12-1 12-1 12 1 12-1 12-1 12 0 12-2 12-1 12-1 12-5 12-2 12-6 12 0 12 0 12-3 12-4 12-5 12-3 12 4 12-1 12-4 12-2 12-3 12 0 12-3 12-6 12 1 12 1 12-2 12-4 12-10 12-3 12-1 12-6 12-3 12-4 12-5 12-2 12-9 12-4 12-6 12-9 12-5 12-3 12-10 12-4 12-6 12 0 12-1 12-6 12-9 12-7 12-17 12-10 12-13 7-9 4-4 1-4 3-5 4-4 4-6 1-5 3-4 4-4 4-5 1 0 3-4 4-7 4-2 1-1 3-6 4-2 4-4 1-4 3-4 4-7 4-5 1 3 3-2 4-13 4-10 1-3 3-3 4-3 4-11 1-2 3 4 4-4 4-8 1-3 3-5 4-10 4-2 1-10 3-4 4 2 4-9 1-8 3-1 4-18 4-1 1-4 3-19 4-2 4-16 1-5 3-9 4-19 4-13 1 9 3-13 4-6 4-13 1-4 3-6 4-7 4-20 1-4 3-18 4-21 4-13 1-9 3-22 4-29 4-31 1 0 3-11 4-40 4-38 1-8 3-20 4-31 4-35 1-11 3-20 4-22 4-30 1-12 3-28 4-37 4-41 1 7 3-35 4-46 4-43 1-4 3-33 4-19 4-35 1-11 3-31 4-14 4-8 1 3 3-5 4 1 4 0 1 13 3-3 4 5 4 14 1-5 3 13 4 29 4 27 1 10 3 42 4 58 4 35 1 13 3 41 4 64 4 59 1 12 3 33 4 61 4 41 1 16 3 18 4 27 4 24 1-3 3 10 4 27 4 24 1 16 3 22 4 32 4 26 1 8 3 9 4 15 4 8 1 2 3 2 4 18 4 10 1-1 3 7 4 11 4 14 1-1 3 6 4 16 4 20 1 8 3 10 4 10 4 16 1-1 3 10 4 12 4 4 1 7 3 9 4 9 4 14 1 2 3 4 4 6 4 1 1 5 3 4 4 7 4 7 1 5 3 12 4 11 4 3 1 2 3 1 4 5 4-2 1-3 3 6 4 0 4 3 1 2 3 0 4 8 4 4 1-1 3 10 4 5 4 5 1 6 3 4 4 2 4 3 1 0 3 3 4 0 4 3 1-1 3 4 9 7 12 9 12 9 12 9 12 4 12 8 12 3 12 5 12 6 12 1 12 2 12 6 12 1 12 5 12 5 12 6 12 5 12 1 12 1 12 6 12 9 12 6 12 3 12 6 12 6 12 1 12 5 12 2 12 4 12 3 12 3 12 2 12 1 12 0 12 2 12 3 12 4 12 4 12 4 12 4 12 2 12 3 12 2 12 2 12 0 12 3 12 2 12 6 8 3" stroke="#007dff" stroke-width="20"/><path d="M1119 4258l12 0 12-6 12-7 12-11 12-13 12-10 12-14 7-9 4-5 1-7 3-5 4-9 4-6 1 0 3-3 4-2 4-2 1-3 3-6 4-2 4-3 1 0 3-5 4 0 4-4 1 4 3-8 4-6 4-2 1 0 3-4 4-5 4-8 1-4 3-5 4-10 4-11 1-4 3-2 4-5 4-6 1-1 3-4 4-3 4-9 1-7 3-4 4-4 4-6 1-7 3-7 4-8 4 1 1-5 3-16 4-16 4-12 1 2 3-13 4-26 4-6 1 7 3-7 4-12 4-24 1 5 3-15 4-12 4-19 1 6 3-14 4-14 4-25 1 2 3-22 4-25 4-26 1-3 3-22 4-26 4-31 1-8 3-27 4-43 4-32 1 1 3-24 4-26 4-37 1-6 3-21 4-38 4-43 1-11 3-39 4-40 4-47 1-19 3-15 4-29 4-14 1-13 3-25 4-17 4-5 1-4 3-1 4-7 4 4 1 7 3 5 4 16 4 12 1 18 3 15 4 35 4 26 1 10 3 40 4 48 4 33 1 8 3 35 4 70 4 53 1 9 3 34 4 45 4 41 1 6 3 17 4 34 4 27 1 12 3 21 4 25 4 31 1 11 3 19 4 21 4 17 1 1 3 12 4 14 4 7 1-4 3 6 4 20 4 12 1 1 3 10 4 17 4 12 1 5 3 1 4 14 4 16 1 7 3 6 4 17 4 16 1 1 3 9 4 12 4 3 1 7 3 3 4 2 4 10 1 0 3 0 4 8 4 4 1 5 3 3 4 7 4 5 1 7 3 7 4 4 4 7 1 3 3 1 4 9 4 0 1 4 3 5 4 2 4 4 1 1 3 0 4 7 4 2 1 1 3 2 4 8 4 5 1 2 3 3 4 5 4 1 1 8 3 4 4 0 4 5 1 0 3 3 9 10 12 7 12 6 12 11 12 6 12 9 12 2 12 5 0 13 -12-7 -12-4 -12-7 -12-5 -12-9 -12-10 -12-12 -9-8 -3-8 -1-1 -4-3 -4-1 -3 2 -1 1 -4-2 -4 4 -3-2 -1 0 -4-4 -4-9 -3-7 -1 0 -4-6 -4-1 -3-7 -1-3 -4-1 -4-4 -3-9 -1-4 -4-4 -4-1 -3-4 -1-6 -4-3 -4-8 -3-2 -1-8 -4-6 -4-6 -3-3 -1 2 -4-2 -4-10 -3-2 -1 0 -4-10 -4-5 -3-14 -1-1 -4-2 -4-12 -3-6 -1 3 -4-13 -4-12 -3-6 -1-10 -4-13 -4-22 -3-10 -1-1 -4-13 -4-15 -3-1 -1-2 -4-6 -4-15 -3-6 -1 0 -4-13 -4-26 -3-9 -1-9 -4-21 -4-28 -3-25 -1-7 -4-20 -4-21 -3-16 -1 1 -4-18 -4-16 -3-24 -1-8 -4-49 -4-42 -3-29 -1-23 -4-57 -4-59 -3-37 -1-8 -4-35 -4-46 -3-30 -1-2 -4-28 -4-25 -3-2 -1-16 -4-23 -4-17 -3-6 -1-9 -4-20 -4-1 -3 15 -1-7 -4 22 -4 17 -3 31 -1 29 -4 25 -4 28 -3 29 -1 9 -4 30 -4 30 -3 27 -1-4 -4 35 -4 38 -3 19 -1 19 -4 37 -4 31 -3 23 -1 5 -4 28 -4 35 -3 22 -1 9 -4 31 -4 32 -3 16 -1 10 -4 23 -4 20 -3 17 -1 8 -4 10 -4 17 -3 11 -1 2 -4 18 -4 10 -3 1 -1 0 -4 11 -4 7 -3 9 -1 2 -4 15 -4 20 -3 18 -1 8 -4 14 -4 14 -3 10 -1 5 -4 5 -4 16 -3 3 -1 4 -4 5 -4 0 -3 0 -1 4 -4 2 -4 7 -3 7 -1 1 -4 6 -4 8 -3 3 -1-2 -4 4 -4 4 -3 3 -1 4 -4 4 -4 8 -3 1 -1 2 -4 4 -4 5 -3 3 -1 4 -4 2 -4 8 -3 5 -1 5 -4 1 -4 8 -3 0 -1 0 -4 4 -4 0 -3-3 -1 7 -4 2 -4 8 -3 7 -1 5 -4 6 -7 11 -12 13 -12 10 -12 13 -12 7 -12 4 -12 7 -12 1z" fill="#0094ff" stroke="none"/><path d="M519 4394l12-5 12-2 12-5 12-2 12 2 12-2 12 0 12 2 12 2 12-1 12 0 12-4 12-2 12-3 12-1 12-1 12 2 12-1 12-3 12-2 12-1 12-2 12-4 12-4 12-6 12-4 12-4 12 1 12 0 12-1 12-1 12-5 12-6 12-2 12-5 12-3 12-3 12-6 12-1 12-3 12-7 12-7 12-6 12-4 12-4 12-6 12-6 12-5 12-2 12-3 12 0 12-6 12-7 12-11 12-13 12-10 12-14 7-9 4-5 1-7 3-5 4-9 4-6 1 0 3-3 4-2 4-2 1-3 3-6 4-2 4-3 1 0 3-5 4 0 4-4 1 4 3-8 4-6 4-2 1 0 3-4 4-5 4-8 1-4 3-5 4-10 4-11 1-4 3-2 4-5 4-6 1-1 3-4 4-3 4-9 1-7 3-4 4-4 4-6 1-7 3-7 4-8 4 1 1-5 3-16 4-16 4-12 1 2 3-13 4-26 4-6 1 7 3-7 4-12 4-24 1 5 3-15 4-12 4-19 1 6 3-14 4-14 4-25 1 2 3-22 4-25 4-26 1-3 3-22 4-26 4-31 1-8 3-27 4-43 4-32 1 1 3-24 4-26 4-37 1-6 3-21 4-38 4-43 1-11 3-39 4-40 4-47 1-19 3-15 4-29 4-14 1-13 3-25 4-17 4-5 1-4 3-1 4-7 4 4 1 7 3 5 4 16 4 12 1 18 3 15 4 35 4 26 1 10 3 40 4 48 4 33 1 8 3 35 4 70 4 53 1 9 3 34 4 45 4 41 1 6 3 17 4 34 4 27 1 12 3 21 4 25 4 31 1 11 3 19 4 21 4 17 1 1 3 12 4 14 4 7 1-4 3 6 4 20 4 12 1 1 3 10 4 17 4 12 1 5 3 1 4 14 4 16 1 7 3 6 4 17 4 16 1 1 3 9 4 12 4 3 1 7 3 3 4 2 4 10 1 0 3 0 4 8 4 4 1 5 3 3 4 7 4 5 1 7 3 7 4 4 4 7 1 3 3 1 4 9 4 0 1 4 3 5 4 2 4 4 1 1 3 0 4 7 4 2 1 1 3 2 4 8 4 5 1 2 3 3 4 5 4 1 1 8 3 4 4 0 4 5 1 0 3 3 9 10 12 7 12 6 12 11 12 6 12 9 12 2 12 5 12 3 12 3 12 2 12 4 12 2 12 4 12 5 12 5 12 3 12 0 12-2 12 6 12 11 12 5 12 4 12 4 12 5 12 5 12 6 12 1 12 5 12 3 12 4 12 3 12 0 12-2 12 0 12 0 12 6 12 3 12 3 12 2 12 3 12 2 12 3 12 0 12 3 12 4 12 4 12 2 8 2" stroke="#0094ff" stroke-width="20"/><path d="M1119 4266l12-1 12-7 12-4 12-7 12-13 12-10 12-13 7-11 4-6 1-5 3-7 4-8 4-2 1-7 3 3 4 0 4-4 1 0 3 0 4-8 4-1 1-5 3-5 4-8 4-2 1-4 3-3 4-5 4-4 1-2 3-1 4-8 4-4 1-4 3-3 4-4 4-4 1 2 3-3 4-8 4-6 1-1 3-7 4-7 4-2 1-4 3 0 4 0 4-5 1-4 3-3 4-16 4-5 1-5 3-10 4-14 4-14 1-8 3-18 4-20 4-15 1-2 3-9 4-7 4-11 1 0 3-1 4-10 4-18 1-2 3-11 4-17 4-10 1-8 3-17 4-20 4-23 1-10 3-16 4-32 4-31 1-9 3-22 4-35 4-28 1-5 3-23 4-31 4-37 1-19 3-19 4-38 4-35 1 4 3-27 4-30 4-30 1-9 3-29 4-28 4-25 1-29 3-31 4-17 4-22 1 7 3-15 4 1 4 20 1 9 3 6 4 17 4 23 1 16 3 2 4 25 4 28 1 2 3 30 4 46 4 35 1 8 3 37 4 59 4 57 1 23 3 29 4 42 4 49 1 8 3 24 4 16 4 18 1-1 3 16 4 21 4 20 1 7 3 25 4 28 4 21 1 9 3 9 4 26 4 13 1 0 3 6 4 15 4 6 1 2 3 1 4 15 4 13 1 1 3 10 4 22 4 13 1 10 3 6 4 12 4 13 1-3 3 6 4 12 4 2 1 1 3 14 4 5 4 10 1 0 3 2 4 10 4 2 1-2 3 3 4 6 4 6 1 8 3 2 4 8 4 3 1 6 3 4 4 1 4 4 1 4 3 9 4 4 4 1 1 3 3 7 4 1 4 6 1 0 3 7 4 9 4 4 1 0 3 2 4-4 4 2 1-1 3-2 4 1 4 3 1 1 3 8 9 8 12 12 12 10 12 9 12 5 12 7 12 4 12 7 0 6 -12-4 -12-5 -12-6 -12-8 -12-8 -12-5 -12-9 -9-10 -3-1 -1-3 -4-1 -4 1 -3-5 -1-4 -4-3 -4-5 -3-1 -1-1 -4-8 -4-2 -3-5 -1 3 -4-3 -4-1 -3-1 -1-1 -4-4 -4 2 -3-6 -1-1 -4-6 -4-4 -3-6 -1-2 -4-7 -4-5 -3-5 -1-7 -4-10 -4-5 -3-6 -1-2 -4-3 -4-4 -3-5 -1 5 -4-8 -4-9 -3-9 -1-7 -4-9 -4-6 -3-12 -1-1 -4-8 -4-9 -3-14 -1-5 -4-17 -4-14 -3-6 -1-3 -4-11 -4-9 -3-3 -1-6 -4-16 -4-12 -3-12 -1-4 -4-9 -4-18 -3-6 -1 1 -4-23 -4-14 -3-21 -1-18 -4-30 -4-26 -3-13 -1-3 -4-20 -4-22 -3-13 -1-3 -4-31 -4-45 -3-27 -1-21 -4-50 -4-48 -3-32 -1-18 -4-31 -4-41 -3-31 -1-13 -4-41 -4-34 -3-9 -1-2 -4-24 -4-19 -3 13 -1-3 -4-4 -4 4 -3-4 -1-1 -4 11 -4-3 -3 23 -1 23 -4 22 -4 23 -3 26 -1 7 -4 47 -4 46 -3 23 -1-2 -4 38 -4 34 -3 26 -1 14 -4 20 -4 27 -3 35 -1 9 -4 32 -4 32 -3 13 -1 17 -4 28 -4 22 -3 22 -1 3 -4 33 -4 22 -3 16 -1 1 -4 15 -4 13 -3 8 -1-1 -4 19 -4 12 -3 5 -1 2 -4 11 -4 14 -3 8 -1-2 -4 9 -4 20 -3 13 -1 1 -4 16 -4 9 -3 12 -1 0 -4 8 -4 9 -3 2 -1-2 -4 5 -4 2 -3 6 -1 6 -4 6 -4 13 -3 7 -1 0 -4 5 -4 8 -3-1 -1-1 -4 6 -4 2 -3 3 -1 4 -4 7 -4 5 -3 3 -1 0 -4 5 -4 6 -3 4 -1 1 -4 7 -4 4 -3 3 -1 6 -4 6 -4 6 -3 5 -1 1 -4 5 -4 2 -3 4 -1-1 -4 4 -4 5 -3 1 -1 3 -4 6 -7 6 -12 11 -12 7 -12 15 -12 10 -12 9 -12 2 -12 0z" fill="#00abff" stroke="none"/><path d="M519 4396l12 1 12-3 12-1 12-2 12-4 12 1 12-2 12-2 12 2 12 0 12 0 12-1 12-5 12 0 12 0 12-2 12-3 12-3 12-4 12 0 12-2 12 1 12-1 12-2 12-5 12-1 12-5 12 0 12-1 12-3 12 0 12-3 12-6 12-6 12-5 12-2 12-1 12-4 12-2 12-4 12-4 12-6 12-8 12-8 12-6 12-6 12-7 12-5 12-3 12 3 12-1 12-7 12-4 12-7 12-13 12-10 12-13 7-11 4-6 1-5 3-7 4-8 4-2 1-7 3 3 4 0 4-4 1 0 3 0 4-8 4-1 1-5 3-5 4-8 4-2 1-4 3-3 4-5 4-4 1-2 3-1 4-8 4-4 1-4 3-3 4-4 4-4 1 2 3-3 4-8 4-6 1-1 3-7 4-7 4-2 1-4 3 0 4 0 4-5 1-4 3-3 4-16 4-5 1-5 3-10 4-14 4-14 1-8 3-18 4-20 4-15 1-2 3-9 4-7 4-11 1 0 3-1 4-10 4-18 1-2 3-11 4-17 4-10 1-8 3-17 4-20 4-23 1-10 3-16 4-32 4-31 1-9 3-22 4-35 4-28 1-5 3-23 4-31 4-37 1-19 3-19 4-38 4-35 1 4 3-27 4-30 4-30 1-9 3-29 4-28 4-25 1-29 3-31 4-17 4-22 1 7 3-15 4 1 4 20 1 9 3 6 4 17 4 23 1 16 3 2 4 25 4 28 1 2 3 30 4 46 4 35 1 8 3 37 4 59 4 57 1 23 3 29 4 42 4 49 1 8 3 24 4 16 4 18 1-1 3 16 4 21 4 20 1 7 3 25 4 28 4 21 1 9 3 9 4 26 4 13 1 0 3 6 4 15 4 6 1 2 3 1 4 15 4 13 1 1 3 10 4 22 4 13 1 10 3 6 4 12 4 13 1-3 3 6 4 12 4 2 1 1 3 14 4 5 4 10 1 0 3 2 4 10 4 2 1-2 3 3 4 6 4 6 1 8 3 2 4 8 4 3 1 6 3 4 4 1 4 4 1 4 3 9 4 4 4 1 1 3 3 7 4 1 4 6 1 0 3 7 4 9 4 4 1 0 3 2 4-4 4 2 1-1 3-2 4 1 4 3 1 1 3 8 9 8 12 12 12 10 12 9 12 5 12 7 12 4 12 7 12 4 12 5 12 2 12 2 12 2 12 2 12 2 12 4 12 4 12 1 12 2 12 6 12 10 12 5 12 2 12 1 12 3 12 4 12 6 12 4 12 3 12 5 12 6 12 4 12 0 12 1 12-3 12 2 12 1 12 1 12 2 12 5 12 2 12 2 12-1 12 4 12 2 12 2 12 0 12 3 8 1" stroke="#00abff" stroke-width="20"/><path d="M1119 4274l12 0 12-2 12-9 12-10 12-15 12-7 12-11 7-6 4-6 1-3 3-1 4-5 4-4 1 1 3-4 4-2 4-5 1-1 3-5 4-6 4-6 1-6 3-3 4-4 4-7 1-1 3-4 4-6 4-5 1 0 3-3 4-5 4-7 1-4 3-3 4-2 4-6 1 1 3 1 4-8 4-5 1 0 3-7 4-13 4-6 1-6 3-6 4-2 4-5 1 2 3-2 4-9 4-8 1 0 3-12 4-9 4-16 1-1 3-13 4-20 4-9 1 2 3-8 4-14 4-11 1-2 3-5 4-12 4-19 1 1 3-8 4-13 4-15 1-1 3-16 4-22 4-33 1-3 3-22 4-22 4-28 1-17 3-13 4-32 4-32 1-9 3-35 4-27 4-20 1-14 3-26 4-34 4-38 1 2 3-23 4-46 4-47 1-7 3-26 4-23 4-22 1-23 3-23 4 3 4-11 1 1 3 4 4-4 4 4 1 3 3-13 4 19 4 24 1 2 3 9 4 34 4 41 1 13 3 31 4 41 4 31 1 18 3 32 4 48 4 50 1 21 3 27 4 45 4 31 1 3 3 13 4 22 4 20 1 3 3 13 4 26 4 30 1 18 3 21 4 14 4 23 1-1 3 6 4 18 4 9 1 4 3 12 4 12 4 16 1 6 3 3 4 9 4 11 1 3 3 6 4 14 4 17 1 5 3 14 4 9 4 8 1 1 3 12 4 6 4 9 1 7 3 9 4 9 4 8 1-5 3 5 4 4 4 3 1 2 3 6 4 5 4 10 1 7 3 5 4 5 4 7 1 2 3 6 4 4 4 6 1 1 3 6 4-2 4 4 1 1 3 1 4 1 4 3 1-3 3 5 4 2 4 8 1 1 3 1 4 5 4 3 1 4 3 5 4-1 4 1 1 3 3 1 9 10 12 9 12 5 12 8 12 8 12 6 12 5 12 4 0 8 -12-6 -12-4 -12-5 -12-6 -12-5 -12-7 -12-8 -9-6 -3-1 -1-5 -4-2 -4-5 -3-4 -1-4 -4-1 -4-4 -3 0 -1-3 -4-1 -4-2 -3 0 -1-4 -4-6 -4-4 -3-1 -1 1 -4-2 -4-8 -3-5 -1-1 -4-1 -4-4 -3-11 -1-3 -4-1 -4-2 -3-7 -1-4 -4-6 -4 0 -3-8 -1-3 -4-3 -4-3 -3-8 -1 2 -4-8 -4-4 -3-7 -1-7 -4-5 -4-9 -3-9 -1-7 -4-16 -4-9 -3-10 -1-5 -4-16 -4-15 -3-2 -1 3 -4-12 -4-9 -3-5 -1 2 -4-8 -4-16 -3-6 -1 0 -4-10 -4-18 -3-12 -1-4 -4-14 -4-21 -3-14 -1-12 -4-20 -4-22 -3-18 -1-8 -4-28 -4-33 -3-23 -1-17 -4-34 -4-36 -3-27 -1-9 -4-43 -4-44 -3-24 -1-17 -4-40 -4-42 -3-30 -1-16 -4-34 -4-39 -3-4 -1-2 -4-25 -4-18 -3 8 -1 0 -4-1 -4-4 -3-7 -1 7 -4 3 -4 11 -3 26 -1 11 -4 19 -4 21 -3 29 -1 18 -4 36 -4 28 -3 35 -1 12 -4 47 -4 27 -3 21 -1 15 -4 42 -4 18 -3 19 -1 7 -4 27 -4 33 -3 15 -1 0 -4 31 -4 28 -3 13 -1 11 -4 24 -4 24 -3 16 -1 6 -4 17 -4 19 -3 7 -1-5 -4 20 -4 9 -3 6 -1 3 -4 14 -4 9 -3 12 -1-3 -4 12 -4 15 -3 7 -1 4 -4 18 -4 8 -3 9 -1 6 -4 7 -4 10 -3 4 -1-5 -4 6 -4 5 -3 3 -1 4 -4 5 -4 4 -3 8 -1 4 -4 6 -4 3 -3-1 -1 3 -4 5 -4 3 -3 0 -1 5 -4 7 -4 9 -3 4 -1 3 -4 10 -4 8 -3 3 -1 1 -4 4 -4 0 -3 4 -1 1 -4 2 -4 4 -3 5 -1 1 -4 3 -4 4 -3 1 -1 0 -4 4 -4-1 -3 5 -1 4 -4 5 -7 3 -12 13 -12 10 -12 15 -12 4 -12 8 -12 5 -12 4z" fill="#00c2ff" stroke="none"/><path d="M519 4401l12-4 12-2 12 0 12 0 12-2 12 0 12 0 12 0 12-1 12-2 12-1 12-1 12-3 12-2 12 1 12 0 12 1 12-4 12-2 12-1 12 0 12-3 12-3 12-2 12-3 12-5 12-4 12-5 12-1 12-3 12-3 12-3 12-5 12-2 12-3 12-1 12-3 12-2 12-1 12-1 12-7 12-7 12-6 12-5 12-7 12-4 12-7 12-3 12-3 12-2 12 0 12-2 12-9 12-10 12-15 12-7 12-11 7-6 4-6 1-3 3-1 4-5 4-4 1 1 3-4 4-2 4-5 1-1 3-5 4-6 4-6 1-6 3-3 4-4 4-7 1-1 3-4 4-6 4-5 1 0 3-3 4-5 4-7 1-4 3-3 4-2 4-6 1 1 3 1 4-8 4-5 1 0 3-7 4-13 4-6 1-6 3-6 4-2 4-5 1 2 3-2 4-9 4-8 1 0 3-12 4-9 4-16 1-1 3-13 4-20 4-9 1 2 3-8 4-14 4-11 1-2 3-5 4-12 4-19 1 1 3-8 4-13 4-15 1-1 3-16 4-22 4-33 1-3 3-22 4-22 4-28 1-17 3-13 4-32 4-32 1-9 3-35 4-27 4-20 1-14 3-26 4-34 4-38 1 2 3-23 4-46 4-47 1-7 3-26 4-23 4-22 1-23 3-23 4 3 4-11 1 1 3 4 4-4 4 4 1 3 3-13 4 19 4 24 1 2 3 9 4 34 4 41 1 13 3 31 4 41 4 31 1 18 3 32 4 48 4 50 1 21 3 27 4 45 4 31 1 3 3 13 4 22 4 20 1 3 3 13 4 26 4 30 1 18 3 21 4 14 4 23 1-1 3 6 4 18 4 9 1 4 3 12 4 12 4 16 1 6 3 3 4 9 4 11 1 3 3 6 4 14 4 17 1 5 3 14 4 9 4 8 1 1 3 12 4 6 4 9 1 7 3 9 4 9 4 8 1-5 3 5 4 4 4 3 1 2 3 6 4 5 4 10 1 7 3 5 4 5 4 7 1 2 3 6 4 4 4 6 1 1 3 6 4-2 4 4 1 1 3 1 4 1 4 3 1-3 3 5 4 2 4 8 1 1 3 1 4 5 4 3 1 4 3 5 4-1 4 1 1 3 3 1 9 10 12 9 12 5 12 8 12 8 12 6 12 5 12 4 12 6 12 6 12 2 12 5 12-1 12 4 12 2 12 4 12 2 12 4 12 0 12 7 12 5 12 4 12-1 12 4 12 2 12 2 12 4 12 1 12 8 12 6 12 5 12 4 12 1 12-4 12 2 12-2 12 0 12 0 12 2 12 0 12 6 12 2 12 3 12 5 12 2 12 2 12 3 12 5 8 1" stroke="#00c2ff" stroke-width="20"/><path d="M519 4407l12-2 12-1 12 0 12 0 12 0 12-3 12-2 12 0 12-1 12 0 12-5 12-1 12-2 12-2 12-2 12-1 12 1 12 0 12-4 12-1 12 1 12 2 12-1 12-6 12-2 12-4 12-5 12-4 12-3 12-2 12-1 12-1 12-5 12-2 12-4 12-1 12-6 12-1 12-5 12-3 12-6 12-2 12-10 12-2 12-4 12-4 12-8 12-4 12-5 12 2 12-4 12-5 12-8 12-4 12-15 12-10 12-13 7-3 4-5 1-4 3-5 4 1 4-4 1 0 3-1 4-4 4-3 1-1 3-5 4-4 4-2 1-1 3-4 4 0 4-4 1-1 3-3 4-8 4-10 1-3 3-4 4-9 4-7 1-5 3 0 4-3 4-5 1-3 3 1 4-3 4-6 1-4 3-8 4-4 4-5 1-4 3-3 4-5 4-6 1 5 3-4 4-10 4-7 1-6 3-9 4-8 4-18 1-4 3-7 4-15 4-12 1 3 3-12 4-9 4-14 1-3 3-6 4-9 4-20 1 5 3-7 4-19 4-17 1-6 3-16 4-24 4-24 1-11 3-13 4-28 4-31 1 0 3-15 4-33 4-27 1-7 3-19 4-18 4-42 1-15 3-21 4-27 4-47 1-12 3-35 4-28 4-36 1-18 3-29 4-21 4-19 1-11 3-26 4-11 4-3 1-7 3 7 4 4 4 1 1 0 3-8 4 18 4 25 1 2 3 4 4 39 4 34 1 16 3 30 4 42 4 40 1 17 3 24 4 44 4 43 1 9 3 27 4 36 4 34 1 17 3 23 4 33 4 28 1 8 3 18 4 22 4 20 1 12 3 14 4 21 4 14 1 4 3 12 4 18 4 10 1 0 3 6 4 16 4 8 1-2 3 5 4 9 4 12 1-3 3 2 4 15 4 16 1 5 3 10 4 9 4 16 1 7 3 9 4 9 4 5 1 7 3 7 4 4 4 8 1-2 3 8 4 3 4 3 1 3 3 8 4 0 4 6 1 4 3 7 4 2 4 1 1 3 3 11 4 4 4 1 1 1 3 5 4 8 4 2 1-1 3 1 4 4 4 6 1 4 3 0 4 2 4 1 1 3 3 0 4 4 4 1 1 4 3 4 4 5 4 2 1 5 3 1 9 6 12 8 12 7 12 5 12 6 12 5 12 4 12 6 12 3 12 4 12 3 12 1 12 1 12 4 12 5 12 5 12 2 12 2 12 3 12 6 12 4 12 3 12 0 12 2 12 6 12 2 12 4 12 6 12 6 12 6 12 4 12 2 12 1 12 0 12 0 12-1 12 2 12 4 12 2 12 2 12 1 12 2 12 1 12-1 12 0 12 2 12 0 12 2 8 0" stroke="#00daff" stroke-width="16"/><path d="M519 4409l12-5 12-1 12 0 12-2 12 0 12 0 12 0 12 0 12-1 12-2 12-3 12-5 12-1 12-1 12 1 12 1 12-1 12 1 12 0 12-1 12-1 12-2 12-2 12-2 12-5 12-5 12-5 12 0 12-3 12-1 12-1 12-3 12-2 12-4 12-3 12-3 12-4 12-1 12 0 12-3 12-3 12-6 12-4 12-3 12-6 12-5 12-4 12-5 12-2 12 2 12-3 12-5 12-8 12-10 12-13 12-12 12-15 7-9 4-4 1 0 3-5 4-4 4-1 1 2 3 3 4-3 4-6 1 2 3-3 4-5 4-5 1-5 3-5 4 0 4-5 1 0 3-4 4-9 4 1 1 1 3-7 4-10 4-8 1 1 3 0 4-7 4-7 1 5 3-2 4-4 4-9 1 2 3-5 4-8 4-6 1-1 3-2 4-3 4-11 1-4 3-1 4-10 4-6 1-5 3-8 4-11 4-9 1-6 3-11 4-19 4-9 1-1 3-9 4-11 4-12 1 0 3-4 4-5 4-12 1 3 3-12 4-12 4-13 1-8 3-21 4-26 4-21 1-3 3-18 4-24 4-23 1-2 3-10 4-32 4-34 1-10 3-33 4-21 4-40 1-8 3-21 4-27 4-25 1-6 3-31 4-27 4-43 1-12 3-38 4-23 4-11 1-17 3-20 4-14 4-16 1 7 3-6 4-2 4 8 1 2 3 3 4 19 4 14 1 4 3 12 4 26 4 40 1 9 3 39 4 54 4 37 1 5 3 38 4 41 4 46 1 8 3 25 4 28 4 37 1 5 3 16 4 23 4 27 1-1 3 18 4 20 4 17 1 12 3 14 4 17 4 25 1 4 3 14 4 17 4 10 1 1 3 3 4 7 4 13 1-2 3 10 4 10 4 15 1 7 3 6 4 18 4 13 1 2 3 6 4 10 4 8 1 4 3 2 4 5 4 11 1 3 3 5 4 7 4 7 1 2 3 9 4 1 4 3 1 3 3 6 4 5 4 4 1 2 3 6 4 6 4 6 1 4 3 2 4 3 4 5 1 2 3 5 4-1 4-2 1 0 3 6 4 0 4 3 1 2 3 4 4 4 4 6 1 1 3 2 4 4 4 0 1 8 3 4 4 0 4 2 1 3 3 3 9 6 12 4 12 5 12 9 12 5 12 4 12 2 12 8 12 5 12 2 12 2 12 3 12 4 12 3 12 0 12 6 12 5 12 1 12 2 12 4 12 4 12 4 12 0 12 3 12 4 12 2 12 6 12 7 12 2 12 4 12 2 12 2 12 0 12-2 12-2 12 3 12 1 12 4 12 2 12 0 12 1 12 2 12 1 12 2 12 0 12 2 12 5 12 4 8 2" stroke="#00f3ff" stroke-width="16"/><path d="M519 4416l12-2 12-3 12 0 12-3 12-1 12 0 12-1 12-1 12-1 12 1 12 0 12-3 12-4 12 0 12 0 12-1 12-4 12 0 12-1 12-1 12-1 12 0 12-1 12 0 12-3 12-4 12-3 12-3 12-1 12-2 12-1 12-3 12-1 12-3 12-5 12-3 12-4 12-3 12-2 12-3 12-6 12-4 12-5 12-4 12-5 12-4 12-7 12-4 12-2 12 0 12-1 12-6 12-6 12-3 12-11 12-4 12-13 7-8 4-3 1-1 3-5 4-4 4-6 1 3 3 0 4-2 4-6 1-2 3 0 4-5 4-4 1-2 3-6 4-4 4-5 1-5 3-6 4-7 4-4 1 1 3-1 4-5 4-2 1 0 3-2 4-6 4-3 1-1 3-5 4-5 4-8 1-2 3-5 4-9 4-3 1-3 3-5 4-1 4-7 1 0 3-3 4-5 4-5 1-2 3-10 4-9 4-14 1-1 3-19 4-14 4-13 1 4 3-10 4-5 4-18 1 9 3-7 4-7 4-19 1 3 3-11 4-12 4-15 1-1 3-18 4-11 4-25 1-5 3-12 4-27 4-30 1-1 3-22 4-27 4-33 1-6 3-21 4-20 4-32 1-16 3-20 4-29 4-41 1-4 3-30 4-34 4-44 1-2 3-25 4-20 4-26 1-23 3-32 4-8 4-15 1-1 3 0 4 1 4 11 1 14 3 6 4 8 4 16 1 1 3 21 4 30 4 27 1 10 3 40 4 45 4 39 1-2 3 37 4 50 4 42 1 13 3 25 4 29 4 41 1 3 3 16 4 21 4 18 1 7 3 18 4 21 4 24 1 10 3 15 4 17 4 20 1 3 3 6 4 14 4 7 1 2 3 10 4 8 4 11 1 4 3 6 4 10 4 14 1 4 3 5 4 13 4 10 1 5 3 7 4 8 4 7 1 0 3 9 4 9 4 5 1 6 3 4 4 5 4 12 1-2 3 4 4 2 4 2 1 4 3 6 4 2 4 5 1 4 3 7 4 4 4 6 1 2 3 5 4 5 4 1 1 3 3 7 4 2 4 2 1 1 3 3 4 3 4 5 1 0 3 3 4 5 4 5 1 0 3 1 4-2 4 2 1 1 3 2 4-1 4 1 1 2 3 5 9 7 12 7 12 6 12 10 12 11 12 6 12 2 12 4 12 7 12 3 12 3 12-2 12 2 12 5 12 2 12 2 12 3 12-1 12 5 12 3 12 5 12 3 12 1 12 4 12 5 12-1 12 3 12 2 12 4 12 3 12 3 12 0 12 3 12 0 12-1 12 5 12 0 12 0 12 3 12 2 12 3 12 2 12 0 12 3 12 3 12 1 12 1 12 2 8-1" stroke="#0efff1" stroke-width="16"/><path d="M519 4415l12-1 12-2 12 0 12-2 12 0 12-1 12-3 12-2 12-1 12-1 12-2 12-2 12-2 12 0 12 2 12 0 12 0 12-1 12-1 12-1 12-2 12 0 12-2 12-3 12-1 12-3 12-4 12-1 12-3 12-1 12-1 12-2 12-3 12-1 12-4 12-1 12-4 12-5 12-5 12-3 12-4 12-1 12-4 12-3 12-2 12-1 12-3 12-6 12-4 12-1 12-3 12-4 12-8 12-10 12-7 12-8 12-9 7-2 4-7 1 0 3-1 4-3 4-5 1-3 3-2 4 1 4-1 1-4 3-4 4-7 4-1 1-3 3-4 4-7 4 1 1-1 3 0 4-5 4-2 1-4 3-5 4-7 4-5 1-5 3-3 4-6 4-1 1 4 3-2 4-3 4-2 1 0 3-2 4-8 4-7 1-2 3-3 4-5 4-9 1-4 3-3 4-7 4-7 1-3 3-8 4-8 4-15 1-2 3-10 4-15 4-9 1-1 3-9 4-3 4-19 1 4 3-3 4-10 4-13 1-1 3-14 4-11 4-19 1-10 3-22 4-17 4-13 1-3 3-9 4-21 4-20 1 6 3-11 4-33 4-27 1 1 3-26 4-23 4-35 1-17 3-18 4-30 4-48 1-3 3-28 4-30 4-33 1-22 3-27 4-18 4-10 1-5 3-17 4-22 4-4 1 5 3-4 4-21 4-9 1 4 3 12 4 25 4 24 1 1 3 13 4 31 4 27 1 8 3 24 4 31 4 40 1 25 3 26 4 39 4 35 1 9 3 21 4 30 4 26 1 10 3 15 4 28 4 20 1 12 3 16 4 20 4 19 1 10 3 19 4 18 4 15 1 3 3 18 4 15 4 10 1-4 3 12 4 14 4 6 1-6 3 9 4 11 4 10 1 1 3 4 4 17 4 13 1 5 3 6 4 8 4 10 1-3 3 6 4 7 4 3 1 2 3 12 4 2 4 9 1-5 3 8 4 7 4 6 1-2 3 4 4 8 4 4 1 0 3 6 4 6 4 5 1 3 3 1 4 6 4 3 1 1 3 8 4 2 4 3 1 3 3 4 4 3 4-1 1-3 3 4 4 6 4 1 1 0 3 1 4 3 4 0 1 2 3-1 4 2 4 0 1 1 3 5 9 8 12 7 12 7 12 9 12 6 12 8 12 3 12 4 12 4 12 3 12 2 12 3 12 4 12 1 12 3 12 4 12 3 12 0 12 3 12 0 12 5 12 0 12 1 12 1 12 5 12-1 12 3 12 3 12 5 12 3 12 5 12 0 12 0 12 3 12 0 12 2 12 1 12 0 12 2 12 2 12 0 12 4 12 1 12 2 12 2 12 2 12 4 12 2 8-2" stroke="#29ffd6" stroke-width="16"/><path d="M519 4418l12-2 12-1 12-1 12-1 12-2 12-1 12-2 12-1 12 0 12 0 12-1 12-1 12-2 12-1 12 0 12-1 12 0 12-2 12-3 12 1 12 2 12 0 12-1 12-4 12-2 12-2 12-2 12-4 12-1 12-1 12 0 12-1 12-4 12-2 12-2 12-2 12-2 12-4 12-1 12-3 12-3 12-4 12-7 12-3 12-1 12-7 12-3 12-5 12-3 12 2 12-5 12-9 12-4 12-6 12-11 12-9 12-9 7-6 4 0 1-1 3-2 4-1 4 3 1 1 3 1 4-3 4-6 1-1 3-4 4-7 4-7 1-3 3-3 4-4 4-3 1 0 3 1 4-5 4-3 1-3 3 0 4-7 4-8 1-7 3 0 4-8 4-1 1 0 3 0 4-2 4-2 1 0 3-2 4-7 4-4 1-3 3-9 4-4 4-9 1-4 3-1 4-8 4-4 1 2 3-10 4-10 4-6 1-3 3-11 4-13 4-10 1 4 3-4 4-9 4-11 1-1 3-6 4-6 4-13 1-2 3-10 4-15 4-13 1-3 3-19 4-20 4-22 1-6 3-15 4-21 4-25 1-9 3-15 4-28 4-22 1-5 3-30 4-25 4-26 1-12 3-19 4-36 4-33 1 3 3-22 4-36 4-32 1-10 3-23 4-21 4-22 1-10 3-13 4-10 4-12 1 6 3-2 4 2 4-2 1 8 3 0 4 18 4 17 1 6 3 8 4 37 4 29 1 11 3 33 4 44 4 29 1 3 3 22 4 39 4 36 1 6 3 15 4 33 4 41 1-2 3 16 4 24 4 22 1 6 3 13 4 15 4 27 1 8 3 15 4 19 4 21 1 8 3 8 4 17 4 12 1-3 3 5 4 7 4 4 1 2 3 4 4 8 4 11 1 3 3 9 4 13 4 12 1 5 3 5 4 10 4 4 1 0 3 4 4 11 4 4 1 3 3 7 4 9 4 6 1 2 3 1 4 2 4 3 1 1 3 2 4 3 4 6 1 4 3 5 4 6 4 4 1 2 3 5 4 1 4 0 1 1 3 5 4 2 4 4 1-2 3 3 4 3 4 5 1 1 3 5 4 8 4 5 1 1 3 2 4 2 4-2 1 2 3-3 4-2 4 1 1 1 3 1 9 7 12 7 12 7 12 8 12 9 12 6 12 3 12 6 12 4 12 3 12 3 12 0 12 1 12 2 12 3 12 3 12 1 12 0 12 5 12 4 12 7 12 1 12 2 12 2 12 3 12-1 12 4 12 0 12 4 12 3 12 3 12 4 12 0 12 0 12 2 12 2 12 2 12 2 12-1 12 2 12 0 12-1 12 2 12 0 12 0 12 1 12 3 12 5 8 1" stroke="#44ffbb" stroke-width="16"/><path d="M519 4425l12-1 12-3 12-1 12-1 12-2 12 1 12-1 12-1 12 0 12-2 12-1 12-1 12-4 12-2 12 2 12 1 12 1 12-3 12-2 12 0 12 2 12-1 12-1 12-2 12-1 12-3 12 0 12-5 12-1 12-3 12 0 12-3 12-1 12-5 12-1 12-3 12-2 12-2 12-2 12-5 12-2 12-4 12-2 12-5 12-5 12-4 12-3 12-5 12-2 12-3 12 0 12-4 12-4 12-5 12-9 12-7 12-9 7-8 4 0 1-3 3-2 4-3 4 0 1 0 3-1 4-6 4-3 1-2 3-4 4-9 4-3 1-1 3-2 4-3 4-2 1 2 3-1 4-2 4-2 1-1 3-2 4-4 4-2 1-2 3-4 4-5 4-4 1-1 3-1 4-11 4-3 1-3 3-7 4-5 4-5 1-3 3-2 4-2 4-2 1-1 3-6 4-4 4-8 1-1 3-14 4-13 4-7 1 0 3-9 4-11 4-8 1 4 3-3 4-6 4-11 1-4 3-8 4-7 4-11 1-1 3-13 4-10 4-13 1 0 3-13 4-10 4-20 1-6 3-12 4-21 4-24 1-2 3-17 4-25 4-22 1-11 3-17 4-18 4-33 1-13 3-18 4-22 4-27 1 2 3-32 4-18 4-32 1-11 3-29 4-35 4-36 1-8 3-33 4-11 4-4 1 2 3 7 4 14 4 7 1 12 3-6 4 12 4 18 1 4 3 5 4 30 4 29 1 17 3 26 4 34 4 28 1 7 3 21 4 28 4 31 1 14 3 27 4 29 4 28 1 7 3 19 4 19 4 21 1 4 3 19 4 21 4 22 1 11 3 16 4 17 4 13 1 0 3 11 4 10 4 8 1 0 3 0 4 10 4 8 1-2 3 8 4 8 4 8 1 4 3 6 4 16 4 11 1 4 3 8 4 9 4 8 1 0 3 4 4 3 4 2 1 4 3 5 4 6 4 6 1 1 3 6 4 8 4 6 1 1 3 2 4 5 4 3 1 3 3 3 4 1 4 5 1 3 3 5 4 4 4 2 1 5 3 3 4 1 4 3 1-3 3 3 4 4 4 1 1 2 3 0 4 1 4 6 1 1 3 0 4 0 4 2 1 5 3 2 4-2 4 2 1 5 3 3 9 5 12 4 12 9 12 9 12 4 12 1 12 2 12 5 12 3 12 3 12 1 12 3 12 4 12 2 12 1 12 5 12 2 12-1 12 4 12 1 12 4 12 4 12 1 12 4 12 3 12 2 12 4 12 4 12 2 12 2 12 0 12 1 12-2 12-1 12 0 12 2 12-1 12-1 12 2 12 1 12 1 12 1 12 0 12 4 12 3 12 1 12 3 12 3 8 1" stroke="#60ff9f" stroke-width="16"/><path d="M519 4428l12-1 12 0 12-1 12 0 12-1 12-1 12-1 12-3 12-1 12 1 12-2 12 2 12-2 12-1 12 2 12-1 12-2 12-3 12-4 12-2 12-2 12-1 12-1 12-2 12-1 12-2 12-1 12 1 12-2 12-1 12 2 12-2 12-4 12-4 12-3 12-2 12-4 12-5 12-3 12 1 12-1 12-5 12-6 12-2 12 0 12-3 12-5 12-4 12-3 12 1 12-2 12-5 12-4 12-4 12-7 12-3 12-6 7-4 4-5 1 0 3-5 4-5 4-3 1 0 3-5 4-3 4-4 1-2 3-2 4-5 4-5 1 0 3-1 4-1 4-2 1 2 3-1 4-4 4-2 1-1 3-1 4-6 4-5 1-1 3-2 4-5 4-5 1 1 3 2 4-3 4-8 1 1 3-2 4-5 4-7 1-6 3 0 4 5 4-8 1-2 3-4 4-8 4-5 1-3 3-12 4-8 4-9 1-2 3-9 4-9 4-10 1 2 3-2 4-9 4-9 1 0 3-2 4-10 4-10 1-4 3-10 4-17 4-14 1-7 3-12 4-19 4-20 1 0 3-13 4-16 4-23 1-5 3-15 4-18 4-24 1 4 3-18 4-17 4-29 1-4 3-30 4-28 4-40 1-7 3-15 4-23 4-42 1 10 3-25 4-14 4-16 1-21 3-16 4-7 4-17 1 5 3-10 4-16 4 1 1-4 3 6 4 18 4 14 1 0 3 25 4 28 4 33 1-3 3 30 4 35 4 33 1 8 3 29 4 36 4 43 1 2 3 25 4 32 4 27 1 2 3 13 4 19 4 21 1-5 3 9 4 18 4 17 1 1 3 11 4 18 4 21 1 7 3 10 4 17 4 14 1 5 3 2 4 8 4 10 1 4 3 5 4 5 4 6 1 4 3 11 4 9 4 8 1 3 3 10 4 8 4 9 1-10 3 3 4 5 4 5 1 0 3 4 4 5 4 10 1-1 3 1 4 4 4 1 1 0 3 5 4 6 4 7 1 4 3 5 4 4 4 5 1 1 3-1 4 1 4 3 1 1 3 4 4 0 4 2 1 5 3 2 4 1 4 4 1 3 3 5 4 3 4 1 1 1 3 5 4 0 4 0 1-2 3 3 4-1 4 1 1 0 3 5 9 6 12 7 12 6 12 8 12 6 12 5 12 1 12 5 12 5 12 2 12-1 12 4 12 1 12 3 12 2 12 0 12 1 12 2 12 3 12 4 12 7 12 1 12 3 12 1 12 1 12 0 12 1 12-1 12 1 12 3 12 3 12 3 12 1 12-1 12 2 12 3 12 0 12 2 12 1 12 1 12 1 12 2 12-1 12 2 12-1 12 0 12 0 12 3 8 0" stroke="#7dff82" stroke-width="16"/><path d="M519 4428l12-1 12 2 12 0 12 1 12-1 12-2 12-2 12-1 12 0 12-2 12-1 12 1 12-1 12-1 12 0 12-1 12 0 12 0 12-3 12 0 12-1 12-1 12-2 12-4 12-1 12-2 12-2 12-2 12-1 12-1 12 1 12-2 12-1 12 0 12-2 12-3 12 1 12-2 12-4 12-1 12-5 12-3 12-2 12-8 12-6 12-3 12-5 12-1 12-2 12 0 12-3 12-5 12-6 12-2 12-8 12-6 12-8 7-4 4 0 1 2 3-5 4-3 4-1 1-2 3 1 4 2 4-4 1 0 3-4 4-6 4 0 1-1 3-7 4-4 4-4 1 1 3-1 4-4 4-4 1 3 3-3 4-2 4-3 1-2 3-2 4-3 4-4 1 0 3-4 4-5 4-4 1 0 3-5 4-6 4-5 1 1 3-4 4-4 4-6 1 2 3-1 4-1 4-6 1-4 3-9 4-6 4-13 1-4 3-13 4-6 4-5 1 5 3-8 4-8 4-10 1-1 3-8 4-7 4-9 1 2 3-3 4-11 4-11 1-2 3-12 4-19 4-16 1-8 3-8 4-18 4-20 1-2 3-7 4-24 4-18 1-9 3-21 4-19 4-28 1-18 3-16 4-25 4-28 1-2 3-22 4-26 4-26 1-9 3-20 4-16 4-24 1-6 3-22 4-7 4-11 1-1 3-21 4 10 4 2 1 2 3-5 4 26 4 13 1 11 3 12 4 22 4 35 1 13 3 19 4 36 4 35 1-4 3 25 4 31 4 26 1 7 3 13 4 23 4 32 1 6 3 11 4 21 4 17 1 4 3 13 4 18 4 16 1 7 3 13 4 12 4 22 1 2 3 8 4 12 4 9 1 5 3 6 4 6 4 10 1 1 3 3 4 8 4 4 1 3 3 7 4 9 4 10 1 3 3 4 4 9 4 5 1 0 3 4 4 4 4 8 1 6 3 2 4 8 4 5 1 1 3 3 4 3 4 1 1 6 3 1 4 4 4 3 1 3 3 2 4 4 4 0 1 3 3 2 4 1 4-1 1 1 3 2 4 1 4 2 1 0 3 4 4 6 4 3 1 1 3 3 4 3 4 5 1 1 3 1 4 5 4 0 1 3 3 1 4 2 4 1 1-1 3 0 9 6 12 5 12 4 12 4 12 3 12 5 12 2 12 4 12 4 12 3 12 2 12 3 12 3 12 4 12 0 12 3 12 3 12 1 12 1 12 1 12 3 12 4 12 1 12-1 12 2 12 2 12 3 12 3 12 2 12 1 12 2 12 1 12 0 12 0 12 0 12 0 12 1 12 0 12 3 12 1 12 0 12 1 12 2 12 1 12 2 12 3 12 1 12 3 8-1" stroke="#9aff65" stroke-width="16"/><path d="M519 4433l12-1 12-3 12 1 12 0 12-2 12 0 12-2 12 1 12 2 12-2 12 0 12-1 12-2 12-2 12 0 12-2 12-2 12 0 12-3 12 0 12 0 12-4 12 3 12 1 12-3 12 0 12-1 12-3 12 0 12-2 12-2 12-2 12-4 12 0 12-1 12-1 12-1 12-2 12 0 12 1 12-6 12-3 12-4 12-5 12-3 12-6 12-3 12 0 12-4 12 0 12-2 12-5 12-5 12-5 12-5 12-5 12-7 7-4 4-1 1 0 3-2 4-8 4-2 1-2 3-3 4-4 4-3 1 0 3 1 4-1 4-1 1 0 3 1 4-1 4-2 1-1 3 0 4-6 4-2 1-1 3 1 4-7 4 0 1-3 3-1 4-3 4-2 1 0 3 1 4-6 4-7 1 1 3-4 4-8 4-6 1-2 3-6 4 0 4-7 1-1 3-4 4-5 4-6 1 0 3-8 4-5 4-7 1 1 3-7 4-11 4-7 1 3 3-5 4-7 4-9 1-3 3-4 4-8 4-12 1-1 3-11 4-9 4-10 1-3 3-7 4-15 4-14 1 0 3-12 4-12 4-20 1-3 3-6 4-24 4-17 1 3 3-21 4-18 4-27 1-19 3-14 4-28 4-35 1-3 3-23 4-24 4-23 1-4 3-16 4-20 4-23 1-1 3-20 4-9 4-23 1 2 3-8 4-7 4-2 1 9 3 0 4 19 4 9 1 11 3 19 4 36 4 18 1 8 3 28 4 33 4 18 1 11 3 9 4 35 4 35 1 2 3 14 4 23 4 22 1 12 3 11 4 8 4 18 1 4 3 16 4 14 4 11 1 12 3 21 4 17 4 17 1 2 3 10 4 14 4 5 1-3 3 2 4 7 4 8 1 1 3 6 4 5 4 9 1 1 3 5 4 10 4 10 1 2 3 7 4 5 4 10 1 3 3 4 4 4 4 3 1 0 3 5 4 6 4 4 1 3 3 4 4 3 4 3 1 2 3 1 4 3 4 3 1 1 3 6 4 1 4 4 1-1 3 3 4 0 4 4 1-1 3 7 4 1 4 4 1-1 3 3 4-1 4 3 1 3 3 2 4 5 4 4 1 1 3 5 4 4 4-3 1 2 3-4 4 0 4 1 1-3 3 1 9 5 12 6 12 6 12 5 12 3 12 6 12 3 12 4 12 3 12 2 12 2 12 6 12 4 12 1 12 2 12 1 12 3 12 2 12-1 12-1 12 4 12 0 12 1 12-1 12 1 12 3 12 3 12 3 12 2 12 2 12 4 12 2 12 0 12 0 12 0 12 0 12 2 12-1 12 2 12 1 12 0 12 0 12 1 12 0 12 2 12 3 12 1 12 3 8 1" stroke="#b8ff47" stroke-width="16"/><path d="M519 4433l12 2 12-3 12 0 12-1 12 1 12 0 12-2 12-2 12 1 12-1 12 1 12 0 12-1 12 1 12 0 12-1 12-1 12 0 12-2 12 1 12-4 12 0 12-2 12-1 12-2 12-2 12-2 12-1 12-3 12 1 12-1 12-3 12-4 12-2 12-1 12 0 12-3 12-3 12 1 12 0 12-2 12-4 12-4 12-2 12-2 12-5 12-3 12-2 12-3 12 0 12-3 12-5 12-3 12-2 12-7 12-3 12-7 7-4 4 0 1-1 3-4 4-1 4-1 1 2 3-3 4-4 4 0 1 0 3-2 4-2 4-1 1 0 3-1 4-1 4-2 1 2 3-5 4-6 4 0 1 3 3-4 4-8 4-7 1 0 3-1 4-6 4-4 1-2 3 0 4-1 4-3 1 2 3-2 4-8 4 0 1-4 3-7 4-4 4-5 1 0 3 0 4-4 4-1 1 2 3-5 4-9 4-7 1-5 3-11 4-13 4-6 1-2 3-4 4-11 4-9 1 3 3-2 4-11 4-8 1-2 3-5 4-8 4-11 1-4 3-4 4-10 4-15 1 0 3-11 4-17 4-18 1-7 3-14 4-18 4-24 1 0 3-18 4-14 4-21 1-7 3-14 4-22 4-24 1-5 3-20 4-24 4-24 1-12 3-15 4-21 4-9 1-9 3-15 4-14 4-11 1 6 3-2 4-7 4-5 1 0 3 6 4 18 4 6 1-7 3 9 4 35 4 29 1 7 3 26 4 33 4 30 1 11 3 13 4 25 4 31 1 6 3 15 4 17 4 21 1 4 3 10 4 18 4 14 1 6 3 17 4 17 4 13 1 11 3 9 4 11 4 11 1 4 3 6 4 15 4 5 1-3 3 8 4 9 4 1 1 5 3 5 4 5 4 10 1 3 3 6 4 11 4 5 1 1 3 4 4 4 4 6 1-2 3 4 4 6 4 3 1 3 3 3 4 6 4 3 1-2 3-1 4 7 4 3 1 2 3 1 4 4 4 6 1 4 3 1 4 4 4 3 1 0 3 3 4 2 4 3 1 1 3 3 4 0 4 5 1-2 3 5 4 1 4 1 1-1 3 6 4 3 4 3 1 1 3 0 4 3 4 2 1-3 3-2 4 0 4 1 1 2 3 1 9 4 12 6 12 8 12 5 12 3 12 4 12 1 12 4 12 4 12 0 12 5 12 4 12 2 12 3 12 0 12 1 12 2 12 1 12 0 12 1 12 3 12 1 12-1 12 1 12-1 12 3 12 1 12 4 12 2 12 5 12 3 12 2 12 1 12 0 12 0 12 1 12 1 12-1 12 1 12 0 12-1 12 3 12 2 12 0 12 1 12 1 12 1 12 4 8-2" stroke="#d6ff29" stroke-width="16"/><path d="M519 4442l12-3 12-1 12-4 12-2 12 1 12-1 12 0 12 1 12 1 12-1 12-2 12 0 12 0 12-2 12 0 12-1 12 1 12-1 12-2 12-2 12 0 12 0 12 1 12-2 12-1 12 0 12-1 12 1 12-2 12 0 12 0 12-1 12-4 12-2 12-3 12-1 12-5 12-1 12-2 12 0 12-4 12-2 12 0 12-3 12-5 12-2 12-7 12 0 12-3 12-4 12-1 12 0 12-4 12 3 12-6 12-2 12-6 7-3 4-3 1-2 3-4 4 0 4-3 1 0 3 1 4 0 4-1 1-1 3-4 4-4 4-3 1-3 3-4 4-4 4-2 1 1 3 0 4-3 4-3 1 1 3-1 4-2 4-4 1-4 3-2 4 3 4-5 1 0 3 0 4-1 4-2 1 2 3-7 4-5 4-3 1-3 3-2 4-2 4-8 1 1 3-3 4-5 4-1 1-6 3-7 4-4 4-9 1 4 3-6 4-8 4-2 1-1 3-8 4-5 4-10 1-1 3-9 4-8 4-8 1 3 3-9 4-7 4-11 1 0 3-7 4-9 4-16 1-2 3-15 4-11 4-20 1-4 3-7 4-9 4-10 1-2 3-13 4-15 4-22 1-12 3-18 4-23 4-19 1-7 3-20 4-16 4-24 1-13 3-26 4-24 4-16 1-8 3-18 4-10 4-7 1 7 3-13 4-2 4 5 1 2 3-1 4 12 4 14 1 12 3 17 4 26 4 19 1 5 3 21 4 24 4 23 1 3 3 14 4 26 4 30 1 6 3 15 4 18 4 21 1 10 3 11 4 9 4 16 1 7 3 10 4 16 4 11 1 8 3 12 4 13 4 9 1 0 3 5 4 12 4 6 1 2 3 5 4 10 4 9 1 0 3 8 4 6 4 7 1 0 3 4 4 10 4 6 1 0 3 4 4 5 4 6 1 0 3 4 4 5 4 3 1 2 3 2 4 4 4 5 1 0 3 3 4 4 4 4 1 2 3 3 4 1 4 3 1 2 3 2 4 1 4 5 1 2 3 2 4 2 4 3 1 2 3 0 4 2 4 2 1 2 3 0 4 1 4 2 1 4 3 1 4 2 4 1 1 4 3-1 4 1 4 1 1 1 3 2 4 2 4 0 1 3 3 1 9 5 12 4 12 4 12 2 12 3 12 2 12 2 12-1 12 4 12 2 12 3 12 5 12 3 12 2 12 4 12 0 12 0 12 1 12 0 12 0 12 3 12 2 12 1 12 1 12 0 12 1 12 5 12 0 12 0 12 2 12 1 12 1 12 2 12-1 12 2 12 1 12 0 12 2 12 4 12 1 12 1 12 1 12 3 12 3 12 1 12-1 12 0 12 0 8-1" stroke="#f3ff0c" stroke-width="16"/><path d="M519 4443l12 0 12-1 12 1 12-1 12 1 12-3 12-1 12-1 12 1 12-1 12 0 12-2 12-2 12 2 12-2 12-1 12-2 12-1 12-1 12 1 12-2 12 1 12-2 12-1 12 0 12 0 12 0 12 0 12-1 12-2 12-1 12-4 12-1 12-3 12-1 12-2 12-2 12 0 12-1 12-2 12 0 12-1 12-1 12-2 12-3 12 0 12-3 12-5 12-5 12-2 12-1 12-3 12-4 12-4 12-3 12-2 12-3 7-2 4 0 1 1 3-2 4-5 4-1 1-5 3-2 4-2 4-1 1 0 3 0 4-2 4 0 1 1 3-2 4-2 4-2 1 0 3-2 4-2 4-3 1-1 3-2 4-3 4-1 1-4 3 0 4-6 4-1 1-1 3-1 4-5 4-2 1-4 3-2 4-6 4-6 1-1 3-3 4-2 4 0 1-1 3-1 4-4 4-3 1 0 3-6 4-4 4-7 1 0 3-5 4-11 4-6 1 3 3-8 4-4 4-11 1 2 3 1 4-5 4-10 1-4 3-5 4-6 4-10 1-2 3-8 4-11 4-8 1-3 3-12 4-13 4-13 1-3 3-11 4-15 4-16 1 0 3-15 4-18 4-20 1-4 3-16 4-17 4-28 1-1 3-16 4-22 4-24 1-7 3-19 4-10 4-16 1-6 3-18 4-10 4-7 1 1 3-8 4-9 4 2 1 6 3 2 4 13 4 11 1 9 3 13 4 20 4 28 1 1 3 16 4 24 4 22 1 8 3 18 4 18 4 24 1 12 3 16 4 17 4 17 1 5 3 14 4 17 4 11 1 5 3 9 4 14 4 11 1 6 3 6 4 8 4 8 1 6 3 10 4 11 4 4 1 0 3 4 4 9 4 2 1-5 3 4 4 3 4 9 1 5 3 5 4 10 4 7 1 4 3 8 4 4 4 8 1-3 3 3 4 5 4-1 1 1 3 6 4-4 4 7 1 0 3 2 4 4 4-1 1-1 3 6 4 2 4 2 1 1 3 4 4 2 4 4 1 0 3 0 4 1 4 3 1 2 3 6 4 0 4 2 1 3 3 5 4 3 4 1 1-1 3 3 4 3 4 4 1 0 3-4 4 2 4 2 1 0 3 2 4 0 4 0 1 5 3 0 9 5 12 2 12 2 12 4 12 3 12 4 12 3 12-1 12 3 12 3 12 1 12 2 12-1 12 3 12 3 12 1 12 1 12 2 12 2 12 3 12 1 12 0 12 1 12 1 12 1 12 1 12 2 12 2 12 2 12 2 12 4 12 0 12 1 12-1 12 0 12 0 12 1 12 1 12 1 12 1 12 1 12-1 12 2 12 0 12 1 12 2 12 0 12 2 8 3" stroke="#ffed00" stroke-width="16"/><path d="M519 4443l12-1 12 1 12-1 12 0 12 0 12 0 12-3 12-1 12-2 12-1 12 0 12-1 12-2 12 3 12 0 12 1 12 1 12 0 12 0 12-1 12-1 12-1 12-1 12-1 12 0 12-4 12-1 12-4 12-1 12-2 12 0 12-2 12 0 12 0 12 0 12 1 12 0 12-2 12-1 12-1 12-1 12-1 12-2 12-2 12-1 12-2 12-3 12-1 12-1 12-4 12-2 12-3 12-6 12-3 12-6 12-7 12-3 7-4 4-1 1 2 3 1 4-3 4-2 1 1 3-1 4-1 4-4 1-1 3 0 4 0 4-2 1 0 3-2 4 0 4 0 1-1 3-1 4-1 4 0 1 4 3-2 4-6 4 1 1-1 3-1 4-7 4-6 1-1 3-1 4-7 4-5 1-2 3 1 4-3 4-1 1-2 3 0 4-1 4-4 1-6 3-2 4-8 4-1 1-1 3-3 4-5 4-2 1-1 3-4 4-7 4-7 1-2 3-3 4-6 4-9 1 0 3-3 4-6 4-8 1 2 3-6 4-9 4-7 1-2 3-4 4-11 4-13 1-3 3-2 4-15 4-15 1-2 3-10 4-15 4-17 1-4 3-14 4-13 4-16 1-5 3-11 4-13 4-23 1 6 3-16 4-22 4-17 1-12 3-17 4-16 4-20 1-5 3-20 4-10 4 0 1-4 3-5 4-2 4-6 1 11 3 2 4 15 4 16 1 1 3 6 4 31 4 16 1 3 3 13 4 17 4 22 1 10 3 10 4 27 4 19 1 3 3 19 4 17 4 15 1 2 3 8 4 17 4 19 1 3 3 12 4 12 4 13 1 5 3 9 4 5 4 11 1 0 3 4 4 11 4 7 1-5 3 6 4 7 4 6 1 3 3 4 4 5 4 9 1 2 3 1 4 9 4 7 1-1 3 4 4 3 4 4 1 3 3 0 4 3 4 3 1 0 3 2 4 3 4 1 1 0 3 0 4 6 4 4 1 3 3 2 4 4 4 2 1 1 3 0 4 2 4 4 1 1 3-1 4 2 4 3 1 2 3 3 4 0 4 1 1 2 3 2 4 1 4 1 1 1 3 4 4 2 4 2 1 1 3 2 4 0 4 0 1 0 3 1 4 2 4 2 1 1 3 3 9 2 12 5 12 3 12 2 12 2 12 2 12 0 12 5 12 1 12 2 12 1 12 2 12 2 12 1 12 0 12 2 12 0 12 2 12 0 12 1 12 3 12 0 12 2 12 1 12 2 12 3 12 2 12 1 12 2 12 1 12 1 12 0 12-1 12 0 12 1 12 1 12-1 12 1 12 1 12 2 12 2 12 0 12 0 12 1 12 1 12 0 12-1 12 0 8 0" stroke="#ffcf00" stroke-width="16"/><path d="M519 4453l12 0 12-2 12 0 12-2 12-1 12-1 12-2 12 0 12 1 12 0 12-1 12-1 12 0 12-2 12 0 12-2 12 0 12 0 12-1 12-1 12 1 12-3 12 1 12-2 12-1 12-2 12-2 12-1 12 2 12-1 12 0 12-2 12-1 12 0 12-1 12-3 12-1 12-1 12 0 12 1 12-1 12-3 12-1 12 0 12-2 12-1 12 0 12-4 12-2 12-1 12-2 12-3 12-4 12-5 12-2 12-1 12-5 7-3 4-1 1 0 3-2 4-1 4-2 1 1 3 0 4-2 4-2 1-1 3-5 4 1 4-3 1-1 3 0 4-1 4-2 1 2 3-2 4-3 4-1 1-1 3-2 4-2 4-3 1-2 3-3 4-2 4-4 1 1 3-1 4-3 4-2 1 3 3-5 4-1 4-3 1-2 3-2 4-4 4-8 1 0 3-3 4-5 4 0 1-1 3-3 4-1 4-5 1 2 3-5 4-10 4-3 1 0 3-7 4-4 4-8 1 3 3-3 4-9 4-5 1 1 3-4 4-8 4-10 1-1 3-3 4-13 4-10 1-2 3-10 4-10 4-11 1-5 3-2 4-14 4-16 1-1 3-12 4-13 4-12 1-8 3-10 4-17 4-18 1-2 3-12 4-19 4-20 1-9 3-11 4-14 4-16 1-8 3-14 4-4 4 0 1 3 3-5 4 0 4-1 1 0 3 1 4 4 4 8 1 5 3 4 4 24 4 26 1 3 3 17 4 23 4 21 1 9 3 10 4 10 4 16 1 5 3 13 4 12 4 19 1 4 3 13 4 14 4 11 1 2 3 9 4 5 4 9 1 6 3 9 4 10 4 9 1 0 3 6 4 8 4 7 1-4 3 2 4 6 4 4 1 5 3 5 4 4 4 6 1 5 3 4 4 6 4 3 1 2 3 0 4 8 4 2 1 0 3 4 4 5 4 3 1 3 3 3 4 2 4 4 1-1 3 2 4 2 4 2 1-3 3 6 4 1 4 3 1 3 3 3 4 1 4 5 1-1 3 0 4 4 4 0 1 2 3 5 4 1 4-1 1 1 3 2 4-2 4-1 1 0 3-1 4 3 4 4 1 1 3 4 4 2 4 1 1 2 3 0 4 1 4-2 1 0 3 1 9 4 12 2 12 5 12 4 12 4 12 1 12 2 12 0 12 3 12 2 12 2 12 2 12 1 12 1 12 1 12 0 12 0 12-1 12 2 12 2 12 2 12 1 12 1 12 1 12 2 12 0 12 1 12 4 12 2 12 2 12 1 12-1 12-1 12 1 12-2 12 2 12-1 12 1 12 2 12 0 12-1 12 2 12 0 12 0 12 0 12 0 12 1 12 2 8 0" stroke="#ffb200" stroke-width="16"/><path d="M519 4452l12 1 12 0 12 0 12 1 12 0 12-1 12 1 12-1 12-2 12 0 12-1 12-1 12-1 12-2 12 0 12 1 12-1 12 0 12-2 12 0 12-1 12 0 12 0 12 0 12-2 12 0 12-2 12 2 12-3 12-2 12-1 12 3 12-2 12-1 12-4 12-1 12 1 12-1 12-4 12 0 12-1 12 0 12-1 12-4 12-1 12-3 12-3 12-1 12-2 12-2 12-1 12-2 12 2 12-2 12-3 12-1 12-1 7-2 4-2 1-3 3 1 4-3 4-3 1-2 3 0 4-2 4-1 1-3 3 0 4-1 4-1 1 0 3 0 4 0 4-1 1-1 3-3 4-4 4-3 1-1 3-3 4-2 4-2 1 0 3 0 4 1 4-4 1 1 3-1 4-1 4-3 1-5 3-2 4-1 4-3 1 1 3-1 4-1 4 0 1-1 3-3 4-1 4-4 1-5 3-6 4-3 4-1 1-1 3-7 4-4 4-5 1 3 3-6 4-6 4-6 1 1 3-2 4-4 4-8 1 2 3-8 4-7 4-7 1-2 3-4 4-7 4-12 1-1 3-4 4-14 4-10 1-1 3-10 4-15 4-12 1-2 3-5 4-16 4-16 1-1 3-6 4-19 4-19 1-9 3-13 4-15 4-19 1-6 3-12 4-15 4-12 1-4 3-14 4-13 4-5 1 5 3-4 4 1 4 3 1 4 3 8 4 14 4 8 1 10 3 8 4 18 4 16 1 3 3 10 4 20 4 14 1 8 3 10 4 18 4 18 1 4 3 10 4 16 4 12 1 4 3 8 4 12 4 11 1-1 3 7 4 8 4 11 1 2 3 7 4 10 4 12 1-2 3 7 4 6 4 7 1 0 3 1 4 3 4 5 1 0 3 5 4 4 4 7 1 4 3 2 4 11 4 3 1 0 3 3 4 3 4 2 1 1 3-1 4 6 4 3 1 1 3 2 4 3 4 5 1 3 3 1 4 2 4 1 1-3 3 0 4-1 4-1 1 1 3 2 4 1 4 6 1 2 3 3 4 2 4 1 1-1 3 6 4 1 4 0 1 0 3 4 4 2 4 3 1-1 3 0 4 1 4 2 1 0 3-1 4 1 4 3 1 2 3 1 4 0 4-1 1 3 3 0 9 1 12 3 12 3 12 4 12 4 12 0 12 2 12 2 12 1 12 2 12 2 12 1 12 3 12 1 12 3 12 0 12 0 12-1 12 1 12 2 12 2 12 0 12 1 12 2 12 2 12 0 12 0 12-1 12 2 12 1 12 0 12 1 12 1 12-2 12 2 12-1 12 0 12 1 12 0 12 1 12 1 12 0 12 1 12 1 12 1 12 1 12-1 12 0 8 1" stroke="#ff9400" stroke-width="16"/><path d="M519 4453l12-2 12 0 12 0 12 2 12-1 12 0 12 0 12 1 12 0 12 1 12-1 12 1 12-1 12-2 12 0 12-1 12-2 12 0 12-1 12-1 12 1 12-1 12 0 12-2 12-1 12-1 12 1 12 0 12-1 12-1 12 0 12-1 12 0 12 0 12-2 12 0 12-3 12 0 12-1 12-2 12-3 12 0 12-1 12-1 12-2 12-2 12-3 12-1 12-2 12-1 12 1 12-3 12-4 12-2 12-1 12-3 12-5 7-3 4 0 1 2 3 0 4-2 4 0 1 0 3 1 4 0 4-2 1-1 3-3 4-2 4-1 1 0 3-1 4-2 4-1 1 2 3 0 4-3 4-3 1 0 3-1 4-4 4-3 1-3 3 1 4-3 4-1 1 1 3 1 4-2 4-1 1-1 3-2 4-4 4-2 1-1 3 0 4 1 4-3 1 1 3 0 4-2 4-5 1-2 3-7 4-3 4-5 1-3 3-6 4-4 4-3 1 2 3-2 4-4 4-5 1-1 3-4 4-6 4-8 1-3 3-9 4-8 4-8 1-1 3-5 4-7 4-8 1 2 3-2 4-6 4-8 1-3 3-4 4-7 4-11 1-5 3-7 4-8 4-12 1-5 3-10 4-16 4-16 1-3 3-9 4-15 4-20 1-10 3-10 4-9 4-15 1-6 3-17 4-5 4 1 1 6 3-6 4 1 4-2 1 6 3 0 4 4 4 10 1 3 3 10 4 18 4 17 1 9 3 16 4 14 4 16 1 0 3 10 4 14 4 15 1 1 3 9 4 13 4 15 1 3 3 11 4 4 4 12 1 2 3 7 4 8 4 7 1 2 3 12 4 9 4 9 1 4 3 1 4 9 4 5 1-1 3 0 4 5 4 5 1 2 3 1 4 5 4 6 1 4 3 0 4 3 4 4 1 2 3 1 4 0 4 3 1 1 3 3 4 4 4 2 1 1 3 4 4 1 4 2 1-1 3 2 4 1 4-1 1 0 3 4 4 4 4 3 1 2 3 4 4 3 4 0 1-2 3 0 4 1 4-2 1 0 3 3 4 3 4 2 1 0 3 1 4 3 4 0 1 0 3 0 4 2 4 3 1 1 3 1 4 2 4-1 1 0 3 0 4 0 4-3 1 0 3 0 9 4 12 6 12 4 12 5 12 4 12 3 12 0 12 2 12-1 12 1 12 1 12 3 12 2 12 0 12 1 12 2 12 1 12 1 12 0 12 0 12 2 12 1 12 0 12-2 12 2 12 0 12 1 12 1 12 0 12 3 12 2 12 0 12 2 12 0 12 0 12 0 12 0 12 2 12 1 12 1 12 1 12-1 12 1 12 1 12-1 12 1 12-1 12 1 8 1" stroke="#ff7a00" stroke-width="16"/><path d="M519 4456l12-1 12 0 12 1 12-1 12 1 12 0 12-3 12 0 12 0 12-1 12-1 12 0 12-2 12 2 12 0 12 0 12-2 12 1 12-1 12 0 12-1 12 0 12-1 12 2 12-1 12 0 12-1 12-2 12-1 12 1 12-1 12 0 12-2 12-1 12 0 12 0 12-3 12-1 12-3 12 1 12-1 12 0 12 0 12-1 12 1 12 2 12-2 12-1 12-4 12-1 12-1 12-1 12-3 12-3 12-2 12 1 12-3 7 0 4-3 1 0 3 2 4-2 4-3 1-1 3-3 4 1 4-3 1-2 3-2 4-1 4 1 1-1 3-4 4 1 4-4 1 3 3-1 4-1 4-2 1 3 3-2 4 0 4-1 1-2 3-3 4 0 4-1 1 1 3-3 4-2 4-1 1 0 3-3 4-4 4-2 1-2 3-2 4 1 4-3 1 1 3-4 4-2 4 0 1-2 3-7 4-3 4-6 1 1 3-4 4-2 4-3 1 0 3-3 4-5 4-4 1 2 3-6 4-4 4-4 1-1 3-3 4-4 4-8 1 1 3-3 4-5 4-6 1 1 3-6 4-7 4-11 1-4 3-6 4-10 4-10 1 1 3-8 4-7 4-8 1-5 3-5 4-14 4-18 1-2 3-16 4-15 4-9 1-12 3-7 4-8 4-10 1 2 3-11 4-10 4 1 1-3 3-10 4 0 4 0 1 1 3 1 4 7 4 11 1 9 3 2 4 13 4 21 1 9 3 13 4 17 4 10 1 5 3 7 4 7 4 10 1-1 3 8 4 15 4 12 1 5 3 10 4 7 4 8 1 2 3 3 4 8 4 8 1 0 3 9 4 7 4 5 1 1 3 6 4 8 4 4 1 0 3 5 4 6 4 6 1-1 3 1 4 5 4 3 1 1 3 0 4 6 4 0 1 2 3 1 4 3 4 1 1 1 3 0 4 7 4 0 1 0 3 4 4 3 4 4 1 0 3-1 4 0 4 2 1 0 3 2 4-2 4 2 1 1 3 3 4 3 4 2 1-4 3 2 4 1 4 0 1 0 3 2 4 1 4 1 1 2 3 1 4 1 4 3 1-1 3 0 4 3 4 3 1 2 3 4 4-1 4 3 1-1 3 0 4-2 4-1 1-4 3 1 9 2 12 5 12 3 12 3 12 3 12 5 12 1 12 2 12 0 12 1 12 1 12 0 12-1 12 1 12 1 12 0 12 0 12 1 12 3 12 2 12 0 12 1 12-1 12 1 12 1 12-2 12 1 12 2 12 1 12 4 12 2 12 0 12 2 12 1 12 1 12-1 12 0 12 0 12 3 12-2 12-1 12 1 12-1 12 0 12-1 12-1 12 1 12 0 8 0" stroke="#ff5c00" stroke-width="16"/><path d="M519 4458l12-1 12 0 12 0 12 1 12 1 12 0 12-1 12 0 12 1 12-1 12-2 12 0 12 0 12 0 12 1 12-1 12 0 12 0 12 1 12-1 12-2 12 0 12 0 12-1 12-3 12-1 12 1 12 1 12-3 12-1 12 0 12 0 12 0 12 1 12-2 12 1 12 0 12-1 12 1 12-3 12-2 12 1 12 0 12-2 12 0 12-3 12-1 12-1 12-2 12-3 12-2 12-3 12 0 12-1 12-3 12-2 12 0 7-2 4 2 1 1 3 0 4-2 4 0 1-2 3 1 4-1 4-3 1 0 3-1 4-3 4 0 1 0 3-2 4-1 4 1 1 1 3 0 4-2 4-2 1 1 3-2 4-2 4-1 1 0 3-1 4-2 4 0 1 0 3-3 4-4 4-1 1 0 3 1 4-4 4-2 1 0 3 0 4-1 4-1 1 0 3 0 4-1 4-2 1-3 3-4 4-4 4-6 1-1 3-3 4-5 4-1 1 0 3-2 4 0 4-5 1 1 3-1 4-2 4-5 1 1 3-6 4-4 4-3 1 1 3-3 4-6 4-9 1 2 3-6 4-8 4-6 1-1 3 0 4-5 4-6 1 0 3-6 4-9 4-10 1-9 3-8 4-15 4-15 1-4 3-12 4-10 4-8 1-3 3-7 4-8 4-9 1-5 3-10 4-12 4-9 1 0 3-4 4 6 4 0 1 1 3 6 4 12 4 2 1 4 3 0 4 13 4 14 1 5 3 6 4 20 4 9 1 3 3 8 4 12 4 9 1 3 3 3 4 12 4 8 1 3 3 3 4 10 4 7 1 3 3 5 4 10 4 8 1 2 3 4 4 6 4 7 1 0 3 2 4 5 4 3 1 0 3 4 4 5 4 3 1 1 3 3 4 3 4 4 1 2 3 0 4 2 4 4 1 0 3 3 4 2 4 5 1 2 3 3 4 1 4 3 1 2 3 1 4 0 4 0 1-2 3 2 4 0 4 1 1 1 3 2 4 1 4 4 1 0 3 2 4 1 4-1 1 1 3 0 4-1 4 2 1-1 3-1 4 2 4 2 1-1 3 3 4 1 4 1 1 2 3 1 4-1 4 3 1 1 3 0 4 3 4 0 1 2 3 0 4 0 4-2 1 1 3 1 9 1 12 2 12 1 12 1 12 2 12 2 12-1 12 2 12 0 12 2 12 1 12 3 12 0 12 2 12 0 12 3 12 0 12 1 12-1 12 0 12 1 12 0 12 0 12 1 12 2 12 3 12 1 12 1 12 2 12 1 12 1 12-1 12 0 12-1 12-1 12-1 12 0 12 0 12 3 12 0 12 1 12 2 12 0 12-1 12 0 12-2 12 1 12 1 8 0" stroke="#ff3c00" stroke-width="16"/><path d="M519 4463l12 0 12 0 12-1 12 3 12-1 12 0 12 2 12 0 12 1 12-2 12-1 12-1 12-2 12-1 12-2 12 0 12 1 12 0 12 1 12 1 12 0 12-1 12-1 12 1 12-1 12-1 12-1 12 1 12 0 12-1 12 0 12-1 12 2 12-1 12-3 12 0 12 0 12-2 12 0 12-3 12-2 12 1 12 0 12-1 12-2 12-1 12 0 12 0 12 0 12-2 12-1 12 1 12-1 12 1 12-2 12-1 12-1 7-2 4-2 1 0 3-2 4-1 4-3 1 1 3-1 4 1 4 1 1 0 3 0 4 1 4 1 1-1 3-2 4 0 4 0 1 1 3-2 4-3 4 2 1-1 3-2 4-3 4-4 1 0 3 0 4-2 4 0 1 0 3 1 4 0 4-1 1 0 3 0 4-2 4-2 1-1 3-1 4-3 4 0 1 0 3-1 4-3 4 0 1-1 3-2 4-4 4-3 1-1 3 1 4-4 4-2 1 0 3 0 4-1 4-2 1-3 3 1 4-1 4-4 1-2 3-2 4-5 4-3 1-5 3-4 4 0 4-5 1-2 3-4 4-5 4-3 1-4 3-3 4-5 4-6 1 0 3-4 4-6 4-7 1-5 3-7 4-12 4-9 1-3 3-9 4-9 4-6 1-2 3-3 4-10 4-5 1-4 3-4 4-4 4 0 1-1 3 1 4 3 4 4 1 2 3-1 4 4 4 7 1 3 3 0 4 8 4 7 1 3 3 7 4 10 4 6 1 3 3 5 4 10 4 8 1 4 3 5 4 7 4 4 1 3 3 2 4 5 4 3 1 1 3 3 4 8 4 1 1 2 3 6 4 6 4 5 1 5 3 4 4 6 4 5 1-2 3 4 4 2 4-1 1-1 3 2 4 1 4 3 1-2 3 2 4 2 4 3 1-1 3 2 4 2 4 4 1 0 3 3 4 1 4 1 1 0 3 1 4-1 4 2 1 1 3 1 4 1 4 1 1-1 3 3 4 1 4-1 1 2 3 1 4 2 4 2 1-2 3 1 4 3 4 0 1 0 3 0 4 1 4 3 1 1 3 1 4 0 4 3 1 1 3 1 4 1 4 0 1-1 3 0 4-2 4 2 1-1 3 1 4 1 4 1 1 2 3 0 9 0 12 1 12-1 12 0 12 1 12 0 12 1 12-1 12 3 12 1 12 2 12 1 12 1 12 2 12 1 12-1 12 1 12 0 12 1 12 2 12 1 12 1 12-1 12 1 12 0 12-1 12-2 12 0 12 0 12 2 12 1 12 2 12 1 12 1 12 0 12 1 12 0 12 0 12-1 12 0 12 1 12 0 12 1 12 0 12-1 12 1 12 0 12 1 8 0" stroke="#ff0f00" stroke-width="16"/><path d="M519 4465l12 1 12 0 12 1 12 0 12 0 12 1 12-1 12-1 12-2 12 0 12 0 12 0 12 0 12 1 12 0 12 1 12-2 12-1 12 1 12 1 12 0 12-1 12 0 12 2 12 0 12-2 12-1 12-1 12 0 12-1 12-2 12 0 12-1 12 1 12 0 12 1 12 0 12 0 12-1 12 1 12 0 12-2 12 0 12-1 12 0 12 1 12-2 12-1 12 0 12-2 12-1 12-1 12-4 12 0 12 0 12 0 12-1 7 1 4-2 1 3 3-1 4-2 4-3 1 2 3-1 4 0 4 1 1 1 3 1 4 0 4-2 1 0 3-1 4-3 4 0 1-1 3 0 4-1 4-1 1 0 3 0 4-2 4 0 1 0 3-2 4 0 4-1 1 0 3 0 4-1 4-1 1 1 3-1 4-2 4-1 1 0 3-1 4-1 4 0 1 1 3-1 4-2 4 0 1-1 3-1 4-4 4-3 1-1 3-3 4-5 4-1 1 1 3-1 4-1 4 0 1 0 3 1 4 0 4-3 1 1 3-2 4-3 4-3 1-1 3-4 4-2 4-4 1-2 3-3 4-5 4-2 1-1 3-4 4-4 4-6 1 0 3-3 4-3 4-6 1 0 3-3 4-2 4-7 1-1 3-7 4-5 4-8 1-3 3-7 4-4 4-2 1-4 3-5 4-3 4-5 1 2 3 3 4-6 4 1 1 4 3 2 4 6 4 4 1-4 3 2 4 6 4 5 1 1 3 7 4 6 4 8 1 5 3 8 4 3 4 7 1 1 3 5 4 3 4 3 1 1 3 5 4 3 4 3 1 2 3 5 4 5 4 3 1 3 3 4 4 3 4 1 1 0 3 1 4 2 4 1 1 1 3 2 4 2 4 3 1 3 3-1 4 1 4 0 1 1 3 2 4 2 4 2 1 3 3 2 4 1 4 1 1-2 3-2 4 0 4 0 1 0 3 2 4 2 4 2 1 3 3-1 4 0 4 2 1 1 3 1 4 2 4 0 1 1 3 2 4-1 4-2 1 0 3 1 4 3 4 2 1 1 3 1 4 2 4 1 1 0 3 0 4 0 4-1 1 2 3 0 4 1 4-1 1-2 3-1 4 0 4-1 1 2 3-1 4 2 4-1 1 1 3 2 9 0 12 0 12 0 12 2 12 1 12 1 12 1 12 1 12 0 12 2 12 0 12 2 12 0 12 1 12-1 12 0 12 0 12-1 12 0 12 1 12 1 12 1 12 2 12 0 12 1 12-1 12 1 12 2 12 1 12 0 12 0 12 0 12-1 12-2 12-1 12 0 12-1 12 0 12 0 12 1 12 1 12-1 12 1 12 2 12 0 12 0 12 0 12 1 8-1" stroke="#e70000" stroke-width="16"/><path d="M519 4470l12 0 12 0 12 0 12 0 12 0 12 0 12 0 12 0 12 0 12 0 12 0 12 0 12 0 12 0 12 0 12 0 12 0 12 0 12 0 12 0 12 0 12 0 12-1 12-1 12-1 12-1 12 1 12-2 12 0 12 0 12 0 12 0 12-1 12 0 12 2 12 0 12-1 12 0 12-1 12-1 12 1 12-1 12-1 12 1 12-1 12 0 12 2 12-2 12-2 12-1 12 0 12-1 12 0 12-2 12 0 12 0 12 1 7-2 4 1 1-1 3 1 4-1 4-1 1-1 3 1 4-1 4-1 1 0 3 1 4 0 4-1 1 0 3-1 4-1 4-1 1-1 3-1 4-1 4 0 1 1 3 1 4-1 4 0 1-2 3 0 4-1 4-1 1-1 3-1 4-1 4-2 1 2 3-1 4-1 4-1 1 0 3 0 4 3 4-2 1-1 3 0 4 1 4-1 1-2 3-3 4 0 4 0 1-1 3-3 4-1 4-1 1 1 3-2 4-1 4-1 1 1 3-1 4-1 4-1 1-2 3-2 4-2 4-4 1 0 3-2 4-2 4-1 1 0 3-2 4 0 4-3 1-1 3-2 4-4 4-6 1-1 3-5 4-3 4-5 1-2 3-2 4-4 4-3 1-2 3-4 4-3 4-5 1-3 3-1 4-8 4-5 1-1 3-5 4-1 4-2 1-1 3 4 4 2 4 0 1 1 3 1 4 4 4 3 1-2 3 1 4 7 4 5 1 1 3 3 4 6 4 6 1 3 3 4 4 3 4 6 1 1 3 3 4 5 4 2 1 0 3 2 4 4 4 3 1 0 3 2 4 3 4 3 1 1 3 1 4 1 4 2 1 0 3 3 4 1 4 2 1 0 3 3 4 2 4 1 1 0 3 1 4 1 4 3 1-1 3 2 4 3 4 0 1 3 3 0 4 2 4-1 1 0 3 0 4 2 4-1 1 1 3-2 4 4 4 2 1 1 3-1 4 1 4-1 1 2 3-2 4 0 4-2 1 2 3 2 4 2 4 1 1 1 3 0 4 1 4 0 1-2 3 1 4-3 4 1 1 1 3 1 4 1 4 1 1 0 3 2 4 1 4 1 1-1 3 1 4 1 4 0 1 0 3-1 4 0 4 1 1-1 3-1 9-1 12 3 12 1 12 1 12 0 12 0 12 1 12 2 12-2 12 1 12 1 12 0 12 0 12 0 12-1 12 0 12 0 12 0 12 0 12 1 12 2 12 1 12 1 12-1 12 1 12 1 12-1 12-1 12 1 12 1 12 2 12-1 12 1 12 0 12 1 12 0 12-2 12 0 12-1 12 1 12 0 12-1 12-3 12 2 12 2 12 0 12 0 12 0 8 2" stroke="#d00000" stroke-width="16"/><path d="M519 4470l12 0 12 0 12 0 12 0 12 0 12 0 12 0 12 0 12 0 12 0 12 0 12 0 12 0 12 0 12 0 12 0 12 0 12 0 12 0 12 0 12-1 12 0 12-1 12 0 12 1 12 0 12 0 12 1 12 0 12 0 12 0 12 0 12-1 12 0 12 1 12 0 12-1 12-1 12-1 12 0 12 0 12-2 12 0 12 1 12 1 12 0 12 1 12-1 12 1 12 0 12-2 12 0 12 0 12-1 12 1 12-1 12-1 7-1 4 0 1-1 3-1 4-4 4 0 1 0 3 0 4-1 4 0 1 2 3 0 4-2 4 1 1-1 3-1 4 0 4-1 1 0 3 0 4-1 4 1 1 1 3-1 4-2 4 1 1 2 3 0 4-2 4 1 1 0 3 2 4-1 4-1 1 0 3 2 4-1 4-2 1-1 3 0 4-3 4-1 1-1 3-1 4 2 4-1 1-1 3 2 4-1 4-3 1 1 3-1 4-1 4 0 1 0 3-2 4 0 4-2 1 0 3 0 4 0 4-3 1 1 3-2 4-1 4-1 1-1 3-2 4-1 4-2 1 2 3-2 4 0 4-2 1-1 3-3 4-3 4-3 1-1 3-4 4-2 4-2 1 2 3-2 4-4 4-4 1 0 3-3 4-4 4-4 1 1 3-2 4-2 4-4 1 0 3-4 4-2 4-2 1 1 3 0 4 1 4-1 1 4 3-2 4 0 4 0 1-3 3 0 4 4 4 1 1 1 3 2 4 6 4 7 1 3 3 2 4 5 4 4 1 1 3 3 4 2 4 2 1 1 3 2 4 0 4 2 1 1 3 0 4 4 4 2 1 1 3 4 4 2 4-1 1 0 3-1 4 1 4 1 1-2 3 2 4 4 4 2 1 1 3 1 4 1 4 1 1 1 3 0 4-1 4-2 1 1 3 1 4 1 4 1 1-1 3 3 4 2 4 1 1 0 3 2 4 1 4 1 1-2 3 1 4 0 4 0 1 0 3 0 4 0 4 1 1 1 3 1 4-1 4 1 1-1 3 1 4 0 4-1 1 1 3 1 4-1 4 0 1 0 3 1 4 0 4 1 1 1 3 1 4 0 4 1 1 1 3-1 4 0 4-2 1 0 3 0 4 0 4 0 1 0 3 0 9 1 12 1 12 0 12 2 12-1 12 1 12-1 12 0 12 0 12 1 12-2 12 2 12 0 12 2 12 0 12 1 12 1 12 2 12 0 12 0 12 0 12 0 12 0 12 0 12 0 12 0 12 0 12 0 12 0 12 0 12 0 12 0 12 0 12-2 12 0 12 1 12 1 12 0 12 0 12 0 12 0 12 0 12 0 12 0 12 0 12 0 12 0 12 0 8 0" stroke="#b90000" stroke-width="16"/><path d="M519 4470l12 0 12 0 12 0 12 0 12 0 12 0 12 0 12 0 12 0 12 0 12 0 12 0 12 0 12 0 12 0 12 0 12 0 12 0 12 0 12 0 12 0 12 0 12 0 12 0 12 0 12 0 12 0 12 0 12 0 12 0 12 0 12 0 12-1 12 1 12 0 12 0 12 0 12 0 12 0 12 0 12 0 12 0 12 0 12 0 12 0 12 0 12 0 12 0 12 0 12-1 12-2 12-1 12 1 12 1 12 0 12 0 12 0 7 1 4 1 1 0 3-1 4-1 4 0 1 0 3 0 4 1 4 0 1 1 3 0 4 0 4-1 1 0 3-3 4-1 4 0 1-2 3-1 4 0 4-1 1 2 3 1 4-1 4 0 1 1 3-1 4 1 4-1 1-1 3 2 4 0 4-2 1 1 3-2 4 0 4-1 1 0 3 0 4-1 4-1 1 1 3-1 4 0 4-1 1 0 3 1 4 0 4-2 1 1 3-1 4 2 4-1 1 0 3 0 4 1 4-1 1 1 3-3 4-1 4-2 1-1 3-2 4 0 4-2 1 1 3 1 4 0 4 0 1 0 3 1 4-1 4-2 1-2 3 0 4-2 4-2 1-3 3 0 4-2 4-2 1 0 3-2 4-2 4-1 1-3 3 0 4-3 4-3 1 1 3-1 4-4 4 0 1-1 3 0 4 1 4-2 1 0 3 1 4-1 4-1 1 0 3 0 4 2 4 1 1-1 3 4 4 4 4 3 1-2 3 3 4 2 4 4 1-1 3-1 4 2 4 3 1-1 3 1 4 2 4 3 1 2 3 1 4 2 4 0 1 3 3-1 4 0 4 0 1 0 3 2 4 2 4-1 1 1 3 1 4 3 4 0 1-1 3 1 4 2 4 0 1-2 3 0 4 1 4 0 1-1 3 1 4 1 4 1 1-1 3 1 4 1 4 0 1-1 3 0 4 0 4 2 1 0 3 1 4 3 4 0 1 1 3 0 4 0 4 0 1-1 3-1 4 1 4 0 1 0 3 1 4 0 4 2 1-1 3-1 4 0 4 0 1 0 3 0 4-1 4 1 1 1 3 3 4 0 4 0 1 0 3 0 4 0 4 0 1 0 3 0 4-1 4 0 1 1 3 0 4-2 4 0 1 0 3 0 9 0 12 0 12 1 12 1 12 0 12 0 12 0 12 0 12 0 12 0 12 0 12 0 12-1 12 1 12 0 12 0 12 0 12 0 12 0 12 0 12 0 12 0 12 0 12 0 12 0 12 0 12 0 12 0 12 0 12 0 12 0 12 0 12 0 12 0 12 0 12 0 12 0 12 0 12 0 12 0 12 0 12 0 12 0 12 0 12 0 12 0 12 0 12 0 8 0" stroke="#a10000" stroke-width="16"/><path d="M519 4470l12 0 12 0 12 0 12 0 12 0 12 0 12 0 12 0 12 0 12 0 12 0 12 0 12 0 12 0 12 0 12 0 12 0 12 0 12 0 12 0 12 0 12 0 12 0 12 0 12 0 12 0 12 0 12 0 12 0 12 0 12 0 12 0 12 0 12 0 12 0 12 0 12 0 12 0 12 0 12 0 12 0 12 0 12 0 12 0 12 0 12 0 12 0 12 0 12 0 12 0 12 0 12 0 12 0 12 0 12 0 12 0 12 0 7 0 4 0 1 0 3 0 4 0 4 0 1 0 3 0 4 0 4 0 1 0 3 0 4 0 4 0 1 0 3 0 4 0 4 0 1 0 3 0 4 0 4 0 1 0 3 0 4 0 4 0 1 0 3 0 4 0 4 0 1 0 3 0 4 0 4 0 1 0 3 0 4 0 4 0 1 0 3 0 4 0 4 0 1 0 3 0 4 0 4 0 1 0 3 0 4 0 4 0 1 0 3 0 4-2 4 0 1 0 3 0 4 1 4 1 1 0 3 0 4 0 4 0 1 0 3-1 4-1 4 1 1 1 3 0 4-1 4 1 1 0 3 0 4 0 4-1 1-1 3 0 4-2 4 0 1 1 3 0 4-2 4 0 1 2 3-1 4 1 4-3 1-2 3 1 4-2 4-1 1 2 3-2 4 0 4 1 1-1 3 1 4 0 4-1 1-1 3 0 4-2 4 1 1-1 3-1 4 0 4 0 1 1 3 1 4 1 4 1 1-1 3 0 4 3 4 1 1-1 3 0 4 1 4 0 1-1 3-1 4 1 4 3 1 0 3 1 4 2 4 2 1 0 3-1 4 0 4 1 1-1 3 0 4 1 4 0 1 0 3 0 4 0 4 0 1 0 3 0 4 0 4 0 1 0 3 0 4 0 4 0 1 0 3 0 4 0 4 0 1 0 3 0 4 0 4 0 1 0 3 0 4 0 4 0 1 0 3 0 4 0 4 0 1 0 3 0 4 0 4 0 1 0 3 0 4 0 4 0 1 0 3 0 4 0 4 0 1 0 3 0 4 0 4 0 1 0 3 0 4 0 4 0 1 0 3 0 4 0 4 0 1 0 3 0 4 0 4 0 1 0 3 0 4 0 4 0 1 0 3 0 4 0 4 0 1 0 3 0 9 0 12 0 12 0 12 0 12 0 12 0 12 0 12 0 12 0 12 0 12 0 12 0 12 0 12 0 12 0 12 0 12 0 12 0 12 0 12 0 12 0 12 0 12 0 12 0 12 0 12 0 12 0 12 0 12 0 12 0 12 0 12 0 12 0 12 0 12 0 12 0 12 0 12 0 12 0 12 0 12 0 12 0 12 0 12 0 12 0 12 0 12 0 12 0 8 0" stroke="#8a0000" stroke-width="16"/></g>
<line x1="62" y1="274.1" x2="85" y2="274.1" stroke="#0000ff" stroke-width="2"/>
<line x1="62" y1="305.8" x2="85" y2="305.8" stroke="#e00000" stroke-width="2"/>
<line x1="73.5" y1="278.2" x2="73.5" y2="297.5" stroke="#000" stroke-width="1.2"/>
<path d="M73.5,300.2 L70.5,294.6 L73.5,296.3 L76.5,294.6 Z" fill="#000"/>
<text x="92.30" y="279.40" font-size="16" text-anchor="start" fill="#000" stroke="#000" stroke-width="0.25" >-8 V</text>
<text x="95.20" y="311.00" font-size="16" text-anchor="start" fill="#000" stroke="#000" stroke-width="0.25" >0 V</text>
<line x1="311.7" y1="259.6" x2="500.3" y2="259.6" stroke="#222" stroke-width="1"/>
<line x1="311.7" y1="446.2" x2="500.3" y2="446.2" stroke="#222" stroke-width="1"/>
<line x1="312.2" y1="259.6" x2="312.2" y2="446.2" stroke="#0000ff" stroke-width="1"/>
<line x1="499.8" y1="259.6" x2="499.8" y2="446.2" stroke="#3a8a22" stroke-width="1"/>
<text x="333.90" y="459.60" font-size="13.3" text-anchor="middle" fill="#000" stroke="#000" stroke-width="0.25" >-6</text>
<text x="357.30" y="459.60" font-size="13.3" text-anchor="middle" fill="#000" stroke="#000" stroke-width="0.25" >-4</text>
<text x="380.70" y="459.60" font-size="13.3" text-anchor="middle" fill="#000" stroke="#000" stroke-width="0.25" >-2</text>
<text x="405.70" y="459.60" font-size="13.3" text-anchor="middle" fill="#000" stroke="#000" stroke-width="0.25" >0</text>
<text x="429.10" y="459.60" font-size="13.3" text-anchor="middle" fill="#000" stroke="#000" stroke-width="0.25" >2</text>
<text x="452.50" y="459.60" font-size="13.3" text-anchor="middle" fill="#000" stroke="#000" stroke-width="0.25" >4</text>
<text x="475.90" y="459.60" font-size="13.3" text-anchor="middle" fill="#000" stroke="#000" stroke-width="0.25" >6</text>
<path d="M335.50,446.2 v-2.2 M335.50,259.6 v2.2 M358.90,446.2 v-2.2 M358.90,259.6 v2.2 M382.30,446.2 v-2.2 M382.30,259.6 v2.2 M405.70,446.2 v-2.2 M405.70,259.6 v2.2 M429.10,446.2 v-2.2 M429.10,259.6 v2.2 M452.50,446.2 v-2.2 M452.50,259.6 v2.2 M475.90,446.2 v-2.2 M475.90,259.6 v2.2" stroke="#222" stroke-width="1" fill="none"/>
<text x="308.40" y="295.40" font-size="13.3" text-anchor="end" fill="#0000ff" stroke="#0000ff" stroke-width="0.25" >10</text>
<text x="502.00" y="295.40" font-size="13.3" text-anchor="start" fill="#3a8a22" stroke="#3a8a22" stroke-width="0.25" >74.7</text>
<text x="308.40" y="326.45" font-size="13.3" text-anchor="end" fill="#0000ff" stroke="#0000ff" stroke-width="0.25" >5</text>
<text x="502.00" y="326.45" font-size="13.3" text-anchor="start" fill="#3a8a22" stroke="#3a8a22" stroke-width="0.25" >74.6</text>
<text x="308.40" y="357.50" font-size="13.3" text-anchor="end" fill="#0000ff" stroke="#0000ff" stroke-width="0.25" >0</text>
<text x="502.00" y="357.50" font-size="13.3" text-anchor="start" fill="#3a8a22" stroke="#3a8a22" stroke-width="0.25" >74.5</text>
<text x="308.40" y="388.55" font-size="13.3" text-anchor="end" fill="#0000ff" stroke="#0000ff" stroke-width="0.25" >-5</text>
<text x="502.00" y="388.55" font-size="13.3" text-anchor="start" fill="#3a8a22" stroke="#3a8a22" stroke-width="0.25" >74.4</text>
<text x="308.40" y="419.60" font-size="13.3" text-anchor="end" fill="#0000ff" stroke="#0000ff" stroke-width="0.25" >-10</text>
<text x="502.00" y="419.60" font-size="13.3" text-anchor="start" fill="#3a8a22" stroke="#3a8a22" stroke-width="0.25" >73.3</text>
<path d="M312.2,290.70 h2.2 M312.2,321.75 h2.2 M312.2,352.80 h2.2 M312.2,383.85 h2.2 M312.2,414.90 h2.2" stroke="#0000ff" stroke-width="1" fill="none"/>
<path d="M499.8,290.70 h-2.2 M499.8,321.75 h-2.2 M499.8,352.80 h-2.2 M499.8,383.85 h-2.2 M499.8,414.90 h-2.2" stroke="#3a8a22" stroke-width="1" fill="none"/>
<text x="408.40" y="473.00" font-size="13.3" text-anchor="middle" fill="#000" stroke="#000" stroke-width="0.25" >Bias (V)</text>
<text transform="translate(289.00,352.70) rotate(-90)" font-size="13.3" text-anchor="middle" fill="#0000ff" stroke="#0000ff" stroke-width="0.25">Acos(φ) (a.u.)</text>
<text transform="translate(547.00,350.00) rotate(-90)" font-size="13.3" text-anchor="middle" fill="#3a8a22" stroke="#3a8a22" stroke-width="0.25">Frequency (kHz)</text>
<line x1="324.6" y1="422.4" x2="487.7" y2="286.1" stroke="#0000ff" stroke-width="1.2"/>
<polyline points="323.9,429.8 329.2,405.7 340.2,371.3 354.4,339.3 361.7,324 367.5,315.9 378.4,305.4 383.8,296.5 388.6,295.1 394.9,289.3 400.3,289.3 405.9,296.7 411.3,282 416.4,282 421.7,291.9 426,296.3 437.7,304 445,312.3 450.1,320.3 456.9,331.1 461.5,339.2 469.5,357.5 476.4,374.7 479.8,387.3 487.4,414.9" stroke="#44902c" stroke-width="1.15" fill="none" stroke-linejoin="round"/>
</svg></div></body></html>
